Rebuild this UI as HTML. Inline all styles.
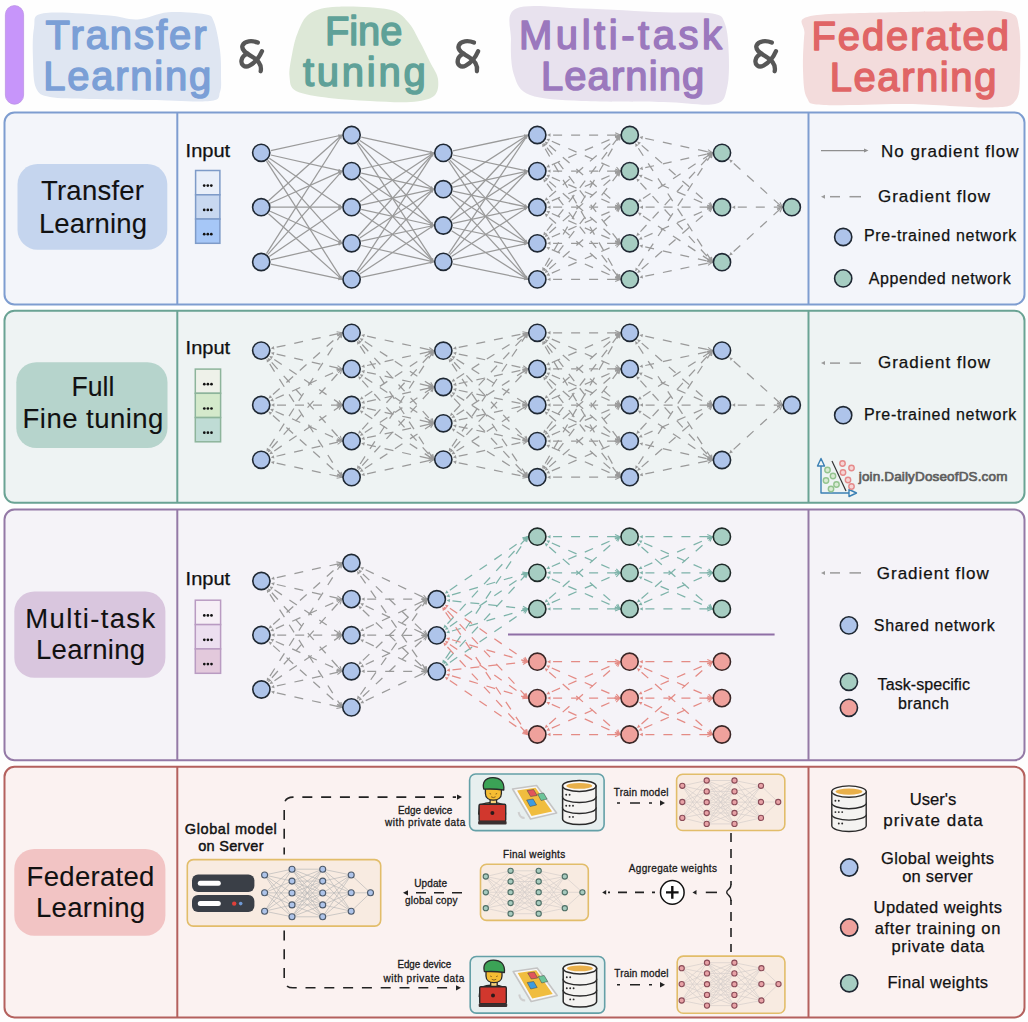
<!DOCTYPE html><html><head><meta charset="utf-8"><style>html,body{margin:0;padding:0;background:#fefefe;}svg{display:block;}</style></head><body><svg width="1028" height="1022" viewBox="0 0 1028 1022" font-family='"Liberation Sans", sans-serif'>
<rect width="1028" height="1022" fill="#fefefe"/>
<rect x="5.4" y="5.6" width="18.2" height="98.6" rx="9.1" fill="#c795fa" stroke="#bb93e4" stroke-width="0.8"/>
<path d="M43.4,13.3 C55.5,11.2 91.0,14.3 106.7,15.3 C122.4,16.3 127.2,20.0 137.4,19.5 C147.6,19.0 156.8,13.2 168.0,12.3 C179.2,11.4 197.1,12.7 204.8,14.3 C212.5,15.9 211.5,16.1 214.0,22.0 C216.5,27.9 218.8,41.2 220.0,50.0 C221.2,58.8 221.0,68.0 221.0,75.0 C221.0,82.0 221.8,87.7 220.0,92.0 C218.2,96.3 221.7,99.7 210.0,101.0 C198.3,102.3 170.0,100.3 150.0,100.0 C130.0,99.7 106.7,99.5 90.0,99.0 C73.3,98.5 59.0,98.8 50.0,97.0 C41.0,95.2 38.8,94.2 36.0,88.0 C33.2,81.8 33.3,70.0 33.0,60.0 C32.7,50.0 32.3,35.8 34.0,28.0 C35.7,20.2 31.3,15.4 43.4,13.3 Z" fill="#dfe6f2"/>
<path d="M309.9,13.6 C316.4,9.4 323.8,7.5 337.0,6.8 C350.2,6.1 377.1,7.0 388.9,9.5 C400.7,12.0 402.8,16.6 408.0,22.0 C413.2,27.4 416.3,35.3 420.0,42.0 C423.7,48.7 427.0,55.8 430.0,62.0 C433.0,68.2 437.3,73.3 438.0,79.0 C438.7,84.7 438.6,92.2 434.0,96.0 C429.4,99.8 421.4,101.2 410.7,102.0 C400.0,102.8 383.6,101.7 370.0,101.0 C356.4,100.3 341.3,99.7 329.0,98.0 C316.7,96.3 302.6,94.6 296.0,91.0 C289.4,87.4 290.2,82.4 289.5,76.3 C288.8,70.2 290.6,61.9 292.0,54.5 C293.4,47.1 295.0,38.8 298.0,32.0 C301.0,25.2 303.4,17.8 309.9,13.6 Z" fill="#dde8d7"/>
<path d="M516.3,8.5 C528.1,3.2 557.2,7.9 581.7,8.5 C606.2,9.1 641.6,11.5 663.4,12.3 C685.2,13.2 702.2,11.7 712.5,13.6 C722.8,15.5 722.3,17.2 725.0,24.0 C727.7,30.8 728.5,43.8 728.8,54.5 C729.1,65.2 729.3,79.8 727.0,88.0 C724.7,96.2 725.6,101.7 715.0,104.0 C704.4,106.3 685.6,102.5 663.4,102.0 C641.2,101.5 603.9,102.2 581.7,101.0 C559.5,99.8 541.3,99.3 530.0,95.0 C518.7,90.7 517.2,84.2 514.0,75.0 C510.8,65.8 510.6,51.1 511.0,40.0 C511.4,28.9 504.5,13.8 516.3,8.5 Z" fill="#e8e2ee"/>
<path d="M808.0,16.8 C820.6,13.3 854.0,13.5 880.0,12.6 C906.0,11.7 942.5,11.2 964.0,11.2 C985.5,11.2 999.8,9.8 1009.0,12.6 C1018.2,15.4 1017.2,18.4 1019.0,28.0 C1020.8,37.6 1020.5,58.0 1020.0,70.0 C1019.5,82.0 1020.7,93.8 1016.0,100.0 C1011.3,106.2 1010.0,106.8 992.0,107.5 C974.0,108.2 936.0,104.4 908.0,104.0 C880.0,103.6 840.8,106.0 824.0,105.0 C807.2,104.0 810.5,103.8 807.0,98.0 C803.5,92.2 803.4,80.7 803.0,70.0 C802.6,59.3 803.6,42.5 804.4,33.6 C805.2,24.7 795.4,20.3 808.0,16.8 Z" fill="#f3dcdc"/>
<text x="45.5" y="49.0" font-size="40" fill="#7b9fd6" font-weight="normal" textLength="161.1" lengthAdjust="spacing" stroke="#7b9fd6" stroke-width="1.5" stroke-linejoin="round" >Transfer</text>
<text x="43.2" y="90.0" font-size="40" fill="#7b9fd6" font-weight="normal" textLength="168.1" lengthAdjust="spacing" stroke="#7b9fd6" stroke-width="1.5" stroke-linejoin="round" >Learning</text>
<text x="324.9" y="45.0" font-size="40" fill="#5fa198" font-weight="normal" textLength="77.6" lengthAdjust="spacingAndGlyphs" stroke="#5fa198" stroke-width="1.5" stroke-linejoin="round" >Fine</text>
<text x="303.0" y="86.0" font-size="40" fill="#5fa198" font-weight="normal" textLength="122.7" lengthAdjust="spacing" stroke="#5fa198" stroke-width="1.5" stroke-linejoin="round" >tuning</text>
<text x="519.0" y="49.0" font-size="40" fill="#9b78bd" font-weight="normal" textLength="203.0" lengthAdjust="spacing" stroke="#9b78bd" stroke-width="1.5" stroke-linejoin="round" >Multi-task</text>
<text x="540.9" y="90.0" font-size="40" fill="#9b78bd" font-weight="normal" textLength="163.4" lengthAdjust="spacing" stroke="#9b78bd" stroke-width="1.5" stroke-linejoin="round" >Learning</text>
<text x="811.4" y="50.4" font-size="40" fill="#e06566" font-weight="normal" textLength="197.6" lengthAdjust="spacing" stroke="#e06566" stroke-width="1.5" stroke-linejoin="round" >Federated</text>
<text x="829.7" y="91.0" font-size="40" fill="#e06566" font-weight="normal" textLength="166.7" lengthAdjust="spacing" stroke="#e06566" stroke-width="1.5" stroke-linejoin="round" >Learning</text>
<g transform="translate(0,0)" fill="none" stroke="#575757" stroke-width="4.3" stroke-linecap="round" stroke-linejoin="round"><path d="M257.8,42.6 C252,40.2 244.5,40.8 242.6,45.3 C240.8,49.8 246,53.2 252,56.6 C258.5,60.3 262,64.5 260.7,71.2"/><path d="M262,51.2 C259.5,57 255,62.8 249.5,65.6 C244.5,68.2 240.6,64.6 241.6,60 C242.4,56.6 245,54.6 247.5,53.6"/></g>
<g transform="translate(216.2,0)" fill="none" stroke="#575757" stroke-width="4.3" stroke-linecap="round" stroke-linejoin="round"><path d="M257.8,42.6 C252,40.2 244.5,40.8 242.6,45.3 C240.8,49.8 246,53.2 252,56.6 C258.5,60.3 262,64.5 260.7,71.2"/><path d="M262,51.2 C259.5,57 255,62.8 249.5,65.6 C244.5,68.2 240.6,64.6 241.6,60 C242.4,56.6 245,54.6 247.5,53.6"/></g>
<g transform="translate(514,0)" fill="none" stroke="#575757" stroke-width="4.3" stroke-linecap="round" stroke-linejoin="round"><path d="M257.8,42.6 C252,40.2 244.5,40.8 242.6,45.3 C240.8,49.8 246,53.2 252,56.6 C258.5,60.3 262,64.5 260.7,71.2"/><path d="M262,51.2 C259.5,57 255,62.8 249.5,65.6 C244.5,68.2 240.6,64.6 241.6,60 C242.4,56.6 245,54.6 247.5,53.6"/></g>
<rect x="4.5" y="112.5" width="1020.0" height="192.0" rx="10" fill="#f3f5fa" stroke="#7e9dd0" stroke-width="2"/>
<line x1="177.3" y1="112.5" x2="177.3" y2="304.5" stroke="#7e9dd0" stroke-width="2"/>
<line x1="808.5" y1="112.5" x2="808.5" y2="304.5" stroke="#7e9dd0" stroke-width="2"/>
<rect x="4.5" y="310.7" width="1020.0" height="192.10000000000002" rx="10" fill="#eef3f3" stroke="#6aa394" stroke-width="2"/>
<line x1="177.3" y1="310.7" x2="177.3" y2="502.8" stroke="#6aa394" stroke-width="2"/>
<line x1="808.5" y1="310.7" x2="808.5" y2="502.8" stroke="#6aa394" stroke-width="2"/>
<rect x="4.5" y="509.6" width="1020.0" height="250.60000000000002" rx="10" fill="#f5f3f8" stroke="#9479a6" stroke-width="2"/>
<line x1="177.3" y1="509.6" x2="177.3" y2="760.2" stroke="#9479a6" stroke-width="2"/>
<line x1="808.5" y1="509.6" x2="808.5" y2="760.2" stroke="#9479a6" stroke-width="2"/>
<rect x="4.5" y="766.8" width="1020.0" height="250.60000000000002" rx="10" fill="#fbf2f1" stroke="#b4615e" stroke-width="2"/>
<line x1="177.3" y1="766.8" x2="177.3" y2="1017.4" stroke="#b4615e" stroke-width="2"/>
<line x1="808.5" y1="766.8" x2="808.5" y2="1017.4" stroke="#b4615e" stroke-width="2"/>
<rect x="17.5" y="164.1" width="149.8" height="85.6" rx="20" fill="#c5d5ee"/>
<text x="40.9" y="200.3" font-size="27.5" fill="#111" font-weight="normal" textLength="103.1" lengthAdjust="spacing" stroke="#111" stroke-width="0.1" stroke-linejoin="round" >Transfer</text>
<text x="38.9" y="233.4" font-size="27.5" fill="#111" font-weight="normal" textLength="108.1" lengthAdjust="spacing" stroke="#111" stroke-width="0.1" stroke-linejoin="round" >Learning</text>
<rect x="16.3" y="362.2" width="151.2" height="85.80000000000001" rx="20" fill="#b6d4cc"/>
<text x="71.5" y="395.7" font-size="27.5" fill="#111" font-weight="normal" textLength="42.9" lengthAdjust="spacingAndGlyphs" stroke="#111" stroke-width="0.1" stroke-linejoin="round" >Full</text>
<text x="22.5" y="427.5" font-size="27.5" fill="#111" font-weight="normal" textLength="140.9" lengthAdjust="spacing" stroke="#111" stroke-width="0.1" stroke-linejoin="round" >Fine tuning</text>
<rect x="14.3" y="591.6" width="151.1" height="86.19999999999993" rx="20" fill="#d9c6de"/>
<text x="25.3" y="627.5" font-size="27.5" fill="#111" font-weight="normal" textLength="129.9" lengthAdjust="spacing" stroke="#111" stroke-width="0.1" stroke-linejoin="round" >Multi-task</text>
<text x="36.0" y="659.4" font-size="27.5" fill="#111" font-weight="normal" textLength="109.0" lengthAdjust="spacing" stroke="#111" stroke-width="0.1" stroke-linejoin="round" >Learning</text>
<rect x="14.3" y="849" width="151.1" height="86.70000000000005" rx="20" fill="#f2c4c4"/>
<text x="26.6" y="885.8" font-size="27.5" fill="#111" font-weight="normal" textLength="127.8" lengthAdjust="spacing" stroke="#111" stroke-width="0.1" stroke-linejoin="round" >Federated</text>
<text x="36.0" y="917.3" font-size="27.5" fill="#111" font-weight="normal" textLength="109.0" lengthAdjust="spacing" stroke="#111" stroke-width="0.1" stroke-linejoin="round" >Learning</text>
<text x="185.6" y="156.8" font-size="17.5" fill="#111" font-weight="normal" textLength="44.6" lengthAdjust="spacingAndGlyphs" stroke="#111" stroke-width="0.25" stroke-linejoin="round" >Input</text>
<rect x="195.6" y="170.5" width="24.30000000000001" height="24.3" fill="#e9eff9" stroke="#7e9bc8" stroke-width="1.5"/>
<circle cx="204.2" cy="185.6" r="1.35" fill="#111"/>
<circle cx="207.8" cy="185.6" r="1.35" fill="#111"/>
<circle cx="211.3" cy="185.6" r="1.35" fill="#111"/>
<rect x="195.6" y="194.8" width="24.30000000000001" height="24.3" fill="#c8d8f0" stroke="#7e9bc8" stroke-width="1.5"/>
<circle cx="204.2" cy="209.9" r="1.35" fill="#111"/>
<circle cx="207.8" cy="209.9" r="1.35" fill="#111"/>
<circle cx="211.3" cy="209.9" r="1.35" fill="#111"/>
<rect x="195.6" y="219.0" width="24.30000000000001" height="24.3" fill="#a6c7f7" stroke="#7e9bc8" stroke-width="1.5"/>
<circle cx="204.2" cy="234.2" r="1.35" fill="#111"/>
<circle cx="207.8" cy="234.2" r="1.35" fill="#111"/>
<circle cx="211.3" cy="234.2" r="1.35" fill="#111"/>
<text x="185.6" y="354.0" font-size="17.5" fill="#111" font-weight="normal" textLength="44.6" lengthAdjust="spacingAndGlyphs" stroke="#111" stroke-width="0.25" stroke-linejoin="round" >Input</text>
<rect x="195.3" y="369.1" width="25.299999999999983" height="24.2" fill="#eef1e9" stroke="#8db49b" stroke-width="1.5"/>
<circle cx="204.3" cy="384.2" r="1.35" fill="#111"/>
<circle cx="207.9" cy="384.2" r="1.35" fill="#111"/>
<circle cx="211.5" cy="384.2" r="1.35" fill="#111"/>
<rect x="195.3" y="393.3" width="25.299999999999983" height="24.2" fill="#d4e9cb" stroke="#8db49b" stroke-width="1.5"/>
<circle cx="204.3" cy="408.5" r="1.35" fill="#111"/>
<circle cx="207.9" cy="408.5" r="1.35" fill="#111"/>
<circle cx="211.5" cy="408.5" r="1.35" fill="#111"/>
<rect x="195.3" y="417.6" width="25.299999999999983" height="24.2" fill="#bfdcd5" stroke="#8db49b" stroke-width="1.5"/>
<circle cx="204.3" cy="432.7" r="1.35" fill="#111"/>
<circle cx="207.9" cy="432.7" r="1.35" fill="#111"/>
<circle cx="211.5" cy="432.7" r="1.35" fill="#111"/>
<text x="185.6" y="584.7" font-size="17.5" fill="#111" font-weight="normal" textLength="44.6" lengthAdjust="spacingAndGlyphs" stroke="#111" stroke-width="0.25" stroke-linejoin="round" >Input</text>
<rect x="195.3" y="600.2" width="25.299999999999983" height="24.4" fill="#f6eff6" stroke="#b99bc2" stroke-width="1.5"/>
<circle cx="204.3" cy="615.4" r="1.35" fill="#111"/>
<circle cx="207.9" cy="615.4" r="1.35" fill="#111"/>
<circle cx="211.5" cy="615.4" r="1.35" fill="#111"/>
<rect x="195.3" y="624.6" width="25.299999999999983" height="24.4" fill="#ecdff0" stroke="#b99bc2" stroke-width="1.5"/>
<circle cx="204.3" cy="639.8" r="1.35" fill="#111"/>
<circle cx="207.9" cy="639.8" r="1.35" fill="#111"/>
<circle cx="211.5" cy="639.8" r="1.35" fill="#111"/>
<rect x="195.3" y="648.9" width="25.299999999999983" height="24.4" fill="#e3c9dc" stroke="#b99bc2" stroke-width="1.5"/>
<circle cx="204.3" cy="664.1" r="1.35" fill="#111"/>
<circle cx="207.9" cy="664.1" r="1.35" fill="#111"/>
<circle cx="211.5" cy="664.1" r="1.35" fill="#111"/>
<line x1="270.8" y1="150.7" x2="342.0" y2="135.0" stroke="#9a9a9a" stroke-width="1.25"/>
<polygon points="338.8,137.3 342.0,135.0 338.1,134.2" fill="#9a9a9a"/>
<line x1="270.8" y1="155.0" x2="342.0" y2="171.1" stroke="#9a9a9a" stroke-width="1.25"/>
<polygon points="338.1,171.9 342.0,171.1 338.8,168.7" fill="#9a9a9a"/>
<line x1="269.3" y1="158.3" x2="342.0" y2="207.2" stroke="#9a9a9a" stroke-width="1.25"/>
<polygon points="338.1,206.5 342.0,207.2 339.9,203.9" fill="#9a9a9a"/>
<line x1="267.7" y1="160.1" x2="342.0" y2="243.3" stroke="#9a9a9a" stroke-width="1.25"/>
<polygon points="338.4,241.7 342.0,243.3 340.8,239.5" fill="#9a9a9a"/>
<line x1="266.5" y1="161.1" x2="342.0" y2="279.4" stroke="#9a9a9a" stroke-width="1.25"/>
<polygon points="338.7,277.2 342.0,279.4 341.4,275.5" fill="#9a9a9a"/>
<line x1="268.5" y1="200.7" x2="342.0" y2="135.0" stroke="#9a9a9a" stroke-width="1.25"/>
<polygon points="340.4,138.6 342.0,135.0 338.2,136.2" fill="#9a9a9a"/>
<line x1="270.1" y1="203.2" x2="342.0" y2="171.1" stroke="#9a9a9a" stroke-width="1.25"/>
<polygon points="339.4,174.0 342.0,171.1 338.1,171.1" fill="#9a9a9a"/>
<line x1="271.0" y1="207.2" x2="342.0" y2="207.2" stroke="#9a9a9a" stroke-width="1.25"/>
<polygon points="338.4,208.8 342.0,207.2 338.4,205.6" fill="#9a9a9a"/>
<line x1="270.1" y1="211.2" x2="342.0" y2="243.3" stroke="#9a9a9a" stroke-width="1.25"/>
<polygon points="338.1,243.3 342.0,243.3 339.4,240.4" fill="#9a9a9a"/>
<line x1="268.5" y1="213.7" x2="342.0" y2="279.4" stroke="#9a9a9a" stroke-width="1.25"/>
<polygon points="338.2,278.2 342.0,279.4 340.4,275.8" fill="#9a9a9a"/>
<line x1="266.5" y1="253.7" x2="342.0" y2="135.0" stroke="#9a9a9a" stroke-width="1.25"/>
<polygon points="341.4,138.9 342.0,135.0 338.7,137.2" fill="#9a9a9a"/>
<line x1="267.7" y1="254.7" x2="342.0" y2="171.1" stroke="#9a9a9a" stroke-width="1.25"/>
<polygon points="340.8,174.9 342.0,171.1 338.4,172.7" fill="#9a9a9a"/>
<line x1="269.3" y1="256.5" x2="342.0" y2="207.2" stroke="#9a9a9a" stroke-width="1.25"/>
<polygon points="339.9,210.5 342.0,207.2 338.1,207.9" fill="#9a9a9a"/>
<line x1="270.7" y1="259.8" x2="342.0" y2="243.3" stroke="#9a9a9a" stroke-width="1.25"/>
<polygon points="338.9,245.7 342.0,243.3 338.1,242.6" fill="#9a9a9a"/>
<line x1="270.8" y1="264.1" x2="342.0" y2="279.4" stroke="#9a9a9a" stroke-width="1.25"/>
<polygon points="338.1,280.2 342.0,279.4 338.8,277.1" fill="#9a9a9a"/>
<line x1="361.2" y1="137.1" x2="433.7" y2="152.9" stroke="#9a9a9a" stroke-width="1.25"/>
<polygon points="429.8,153.7 433.7,152.9 430.5,150.6" fill="#9a9a9a"/>
<line x1="359.8" y1="140.4" x2="433.7" y2="189.2" stroke="#9a9a9a" stroke-width="1.25"/>
<polygon points="429.8,188.6 433.7,189.2 431.6,185.9" fill="#9a9a9a"/>
<line x1="358.2" y1="142.3" x2="433.7" y2="225.5" stroke="#9a9a9a" stroke-width="1.25"/>
<polygon points="430.1,223.9 433.7,225.5 432.5,221.8" fill="#9a9a9a"/>
<line x1="356.9" y1="143.2" x2="433.7" y2="261.8" stroke="#9a9a9a" stroke-width="1.25"/>
<polygon points="430.4,259.6 433.7,261.8 433.1,257.9" fill="#9a9a9a"/>
<line x1="361.2" y1="169.0" x2="433.7" y2="152.9" stroke="#9a9a9a" stroke-width="1.25"/>
<polygon points="430.5,155.2 433.7,152.9 429.8,152.1" fill="#9a9a9a"/>
<line x1="361.2" y1="173.2" x2="433.7" y2="189.2" stroke="#9a9a9a" stroke-width="1.25"/>
<polygon points="429.8,190.0 433.7,189.2 430.5,186.9" fill="#9a9a9a"/>
<line x1="359.8" y1="176.5" x2="433.7" y2="225.5" stroke="#9a9a9a" stroke-width="1.25"/>
<polygon points="429.8,224.8 433.7,225.5 431.6,222.2" fill="#9a9a9a"/>
<line x1="358.2" y1="178.4" x2="433.7" y2="261.8" stroke="#9a9a9a" stroke-width="1.25"/>
<polygon points="430.1,260.2 433.7,261.8 432.5,258.1" fill="#9a9a9a"/>
<line x1="359.8" y1="201.8" x2="433.7" y2="152.9" stroke="#9a9a9a" stroke-width="1.25"/>
<polygon points="431.6,156.2 433.7,152.9 429.8,153.6" fill="#9a9a9a"/>
<line x1="361.2" y1="205.1" x2="433.7" y2="189.2" stroke="#9a9a9a" stroke-width="1.25"/>
<polygon points="430.5,191.5 433.7,189.2 429.8,188.4" fill="#9a9a9a"/>
<line x1="361.2" y1="209.3" x2="433.7" y2="225.5" stroke="#9a9a9a" stroke-width="1.25"/>
<polygon points="429.8,226.3 433.7,225.5 430.5,223.2" fill="#9a9a9a"/>
<line x1="359.8" y1="212.6" x2="433.7" y2="261.8" stroke="#9a9a9a" stroke-width="1.25"/>
<polygon points="429.8,261.1 433.7,261.8 431.6,258.5" fill="#9a9a9a"/>
<line x1="358.2" y1="236.0" x2="433.7" y2="152.9" stroke="#9a9a9a" stroke-width="1.25"/>
<polygon points="432.5,156.6 433.7,152.9 430.1,154.5" fill="#9a9a9a"/>
<line x1="359.8" y1="237.9" x2="433.7" y2="189.2" stroke="#9a9a9a" stroke-width="1.25"/>
<polygon points="431.6,192.5 433.7,189.2 429.8,189.8" fill="#9a9a9a"/>
<line x1="361.2" y1="241.2" x2="433.7" y2="225.5" stroke="#9a9a9a" stroke-width="1.25"/>
<polygon points="430.5,227.8 433.7,225.5 429.8,224.7" fill="#9a9a9a"/>
<line x1="361.2" y1="245.5" x2="433.7" y2="261.8" stroke="#9a9a9a" stroke-width="1.25"/>
<polygon points="429.8,262.6 433.7,261.8 430.5,259.4" fill="#9a9a9a"/>
<line x1="356.9" y1="271.2" x2="433.7" y2="152.9" stroke="#9a9a9a" stroke-width="1.25"/>
<polygon points="433.1,156.8 433.7,152.9 430.4,155.0" fill="#9a9a9a"/>
<line x1="358.2" y1="272.2" x2="433.7" y2="189.2" stroke="#9a9a9a" stroke-width="1.25"/>
<polygon points="432.5,192.9 433.7,189.2 430.1,190.8" fill="#9a9a9a"/>
<line x1="359.8" y1="274.0" x2="433.7" y2="225.5" stroke="#9a9a9a" stroke-width="1.25"/>
<polygon points="431.6,228.8 433.7,225.5 429.8,226.1" fill="#9a9a9a"/>
<line x1="361.2" y1="277.3" x2="433.7" y2="261.8" stroke="#9a9a9a" stroke-width="1.25"/>
<polygon points="430.5,264.1 433.7,261.8 429.8,261.0" fill="#9a9a9a"/>
<line x1="452.9" y1="150.9" x2="527.7" y2="135.0" stroke="#9a9a9a" stroke-width="1.25"/>
<polygon points="524.5,137.3 527.7,135.0 523.8,134.2" fill="#9a9a9a"/>
<line x1="452.9" y1="155.0" x2="527.7" y2="171.1" stroke="#9a9a9a" stroke-width="1.25"/>
<polygon points="523.8,171.9 527.7,171.1 524.5,168.8" fill="#9a9a9a"/>
<line x1="451.5" y1="158.2" x2="527.7" y2="207.2" stroke="#9a9a9a" stroke-width="1.25"/>
<polygon points="523.8,206.6 527.7,207.2 525.5,203.9" fill="#9a9a9a"/>
<line x1="450.0" y1="160.1" x2="527.7" y2="243.3" stroke="#9a9a9a" stroke-width="1.25"/>
<polygon points="524.1,241.8 527.7,243.3 526.4,239.6" fill="#9a9a9a"/>
<line x1="448.7" y1="161.1" x2="527.7" y2="279.4" stroke="#9a9a9a" stroke-width="1.25"/>
<polygon points="524.4,277.3 527.7,279.4 527.0,275.5" fill="#9a9a9a"/>
<line x1="451.5" y1="183.9" x2="527.7" y2="135.0" stroke="#9a9a9a" stroke-width="1.25"/>
<polygon points="525.5,138.3 527.7,135.0 523.8,135.6" fill="#9a9a9a"/>
<line x1="452.9" y1="187.1" x2="527.7" y2="171.1" stroke="#9a9a9a" stroke-width="1.25"/>
<polygon points="524.5,173.4 527.7,171.1 523.8,170.3" fill="#9a9a9a"/>
<line x1="452.9" y1="191.2" x2="527.7" y2="207.2" stroke="#9a9a9a" stroke-width="1.25"/>
<polygon points="523.8,208.0 527.7,207.2 524.5,204.9" fill="#9a9a9a"/>
<line x1="451.6" y1="194.5" x2="527.7" y2="243.3" stroke="#9a9a9a" stroke-width="1.25"/>
<polygon points="523.8,242.7 527.7,243.3 525.5,240.0" fill="#9a9a9a"/>
<line x1="450.0" y1="196.4" x2="527.7" y2="279.4" stroke="#9a9a9a" stroke-width="1.25"/>
<polygon points="524.1,277.9 527.7,279.4 526.4,275.7" fill="#9a9a9a"/>
<line x1="450.0" y1="218.3" x2="527.7" y2="135.0" stroke="#9a9a9a" stroke-width="1.25"/>
<polygon points="526.4,138.7 527.7,135.0 524.1,136.5" fill="#9a9a9a"/>
<line x1="451.5" y1="220.2" x2="527.7" y2="171.1" stroke="#9a9a9a" stroke-width="1.25"/>
<polygon points="525.5,174.4 527.7,171.1 523.8,171.7" fill="#9a9a9a"/>
<line x1="452.9" y1="223.4" x2="527.7" y2="207.2" stroke="#9a9a9a" stroke-width="1.25"/>
<polygon points="524.5,209.5 527.7,207.2 523.8,206.4" fill="#9a9a9a"/>
<line x1="452.9" y1="227.5" x2="527.7" y2="243.3" stroke="#9a9a9a" stroke-width="1.25"/>
<polygon points="523.8,244.1 527.7,243.3 524.5,241.0" fill="#9a9a9a"/>
<line x1="451.6" y1="230.8" x2="527.7" y2="279.4" stroke="#9a9a9a" stroke-width="1.25"/>
<polygon points="523.8,278.8 527.7,279.4 525.5,276.1" fill="#9a9a9a"/>
<line x1="448.7" y1="253.6" x2="527.7" y2="135.0" stroke="#9a9a9a" stroke-width="1.25"/>
<polygon points="527.0,138.9 527.7,135.0 524.4,137.1" fill="#9a9a9a"/>
<line x1="450.0" y1="254.6" x2="527.7" y2="171.1" stroke="#9a9a9a" stroke-width="1.25"/>
<polygon points="526.4,174.8 527.7,171.1 524.1,172.6" fill="#9a9a9a"/>
<line x1="451.5" y1="256.5" x2="527.7" y2="207.2" stroke="#9a9a9a" stroke-width="1.25"/>
<polygon points="525.5,210.5 527.7,207.2 523.8,207.8" fill="#9a9a9a"/>
<line x1="452.9" y1="259.7" x2="527.7" y2="243.3" stroke="#9a9a9a" stroke-width="1.25"/>
<polygon points="524.5,245.6 527.7,243.3 523.8,242.5" fill="#9a9a9a"/>
<line x1="452.9" y1="263.8" x2="527.7" y2="279.4" stroke="#9a9a9a" stroke-width="1.25"/>
<polygon points="523.8,280.2 527.7,279.4 524.5,277.1" fill="#9a9a9a"/>
<line x1="547.1" y1="135.0" x2="620.2" y2="135.0" stroke="#9a9a9a" stroke-width="1.25" stroke-dasharray="9 9" stroke-dashoffset="12"/>
<polygon points="550.5,133.3 547.1,135.0 550.5,136.7" fill="#9a9a9a"/>
<polyline points="615.2,137.2 620.2,135.0 615.2,132.8" fill="none" stroke="#9a9a9a" stroke-width="1.1"/>
<line x1="546.3" y1="138.9" x2="620.2" y2="171.1" stroke="#9a9a9a" stroke-width="1.25" stroke-dasharray="9 9" stroke-dashoffset="12"/>
<polygon points="550.1,138.7 546.3,138.9 548.7,141.8" fill="#9a9a9a"/>
<polyline points="614.7,171.1 620.2,171.1 616.5,167.1" fill="none" stroke="#9a9a9a" stroke-width="1.1"/>
<line x1="544.7" y1="141.4" x2="620.2" y2="207.2" stroke="#9a9a9a" stroke-width="1.25" stroke-dasharray="9 9" stroke-dashoffset="12"/>
<polygon points="548.4,142.4 544.7,141.4 546.1,145.0" fill="#9a9a9a"/>
<polyline points="615.0,205.6 620.2,207.2 617.9,202.3" fill="none" stroke="#9a9a9a" stroke-width="1.1"/>
<line x1="543.3" y1="142.8" x2="620.2" y2="243.3" stroke="#9a9a9a" stroke-width="1.25" stroke-dasharray="9 9" stroke-dashoffset="12"/>
<polygon points="546.7,144.4 543.3,142.8 544.0,146.5" fill="#9a9a9a"/>
<polyline points="615.4,240.7 620.2,243.3 618.9,238.0" fill="none" stroke="#9a9a9a" stroke-width="1.1"/>
<line x1="542.2" y1="143.5" x2="620.2" y2="279.4" stroke="#9a9a9a" stroke-width="1.25" stroke-dasharray="9 9" stroke-dashoffset="12"/>
<polygon points="545.3,145.6 542.2,143.5 542.4,147.3" fill="#9a9a9a"/>
<polyline points="615.8,276.2 620.2,279.4 619.6,274.0" fill="none" stroke="#9a9a9a" stroke-width="1.1"/>
<line x1="546.3" y1="167.2" x2="620.2" y2="135.0" stroke="#9a9a9a" stroke-width="1.25" stroke-dasharray="9 9" stroke-dashoffset="12"/>
<polygon points="548.7,164.3 546.3,167.2 550.1,167.4" fill="#9a9a9a"/>
<polyline points="616.5,139.0 620.2,135.0 614.7,135.0" fill="none" stroke="#9a9a9a" stroke-width="1.1"/>
<line x1="547.1" y1="171.1" x2="620.2" y2="171.1" stroke="#9a9a9a" stroke-width="1.25" stroke-dasharray="9 9" stroke-dashoffset="12"/>
<polygon points="550.5,169.4 547.1,171.1 550.5,172.8" fill="#9a9a9a"/>
<polyline points="615.2,173.3 620.2,171.1 615.2,168.9" fill="none" stroke="#9a9a9a" stroke-width="1.1"/>
<line x1="546.3" y1="175.0" x2="620.2" y2="207.2" stroke="#9a9a9a" stroke-width="1.25" stroke-dasharray="9 9" stroke-dashoffset="12"/>
<polygon points="550.1,174.8 546.3,175.0 548.7,177.9" fill="#9a9a9a"/>
<polyline points="614.7,207.2 620.2,207.2 616.5,203.2" fill="none" stroke="#9a9a9a" stroke-width="1.1"/>
<line x1="544.7" y1="177.5" x2="620.2" y2="243.3" stroke="#9a9a9a" stroke-width="1.25" stroke-dasharray="9 9" stroke-dashoffset="12"/>
<polygon points="548.4,178.5 544.7,177.5 546.1,181.1" fill="#9a9a9a"/>
<polyline points="615.0,241.7 620.2,243.3 617.9,238.4" fill="none" stroke="#9a9a9a" stroke-width="1.1"/>
<line x1="543.3" y1="178.9" x2="620.2" y2="279.4" stroke="#9a9a9a" stroke-width="1.25" stroke-dasharray="9 9" stroke-dashoffset="12"/>
<polygon points="546.7,180.5 543.3,178.9 544.0,182.6" fill="#9a9a9a"/>
<polyline points="615.4,276.8 620.2,279.4 618.9,274.1" fill="none" stroke="#9a9a9a" stroke-width="1.1"/>
<line x1="544.7" y1="200.8" x2="620.2" y2="135.0" stroke="#9a9a9a" stroke-width="1.25" stroke-dasharray="9 9" stroke-dashoffset="12"/>
<polygon points="546.1,197.2 544.7,200.8 548.4,199.8" fill="#9a9a9a"/>
<polyline points="617.9,139.9 620.2,135.0 615.0,136.6" fill="none" stroke="#9a9a9a" stroke-width="1.1"/>
<line x1="546.3" y1="203.3" x2="620.2" y2="171.1" stroke="#9a9a9a" stroke-width="1.25" stroke-dasharray="9 9" stroke-dashoffset="12"/>
<polygon points="548.7,200.4 546.3,203.3 550.1,203.5" fill="#9a9a9a"/>
<polyline points="616.5,175.1 620.2,171.1 614.7,171.1" fill="none" stroke="#9a9a9a" stroke-width="1.1"/>
<line x1="547.1" y1="207.2" x2="620.2" y2="207.2" stroke="#9a9a9a" stroke-width="1.25" stroke-dasharray="9 9" stroke-dashoffset="12"/>
<polygon points="550.5,205.5 547.1,207.2 550.5,208.9" fill="#9a9a9a"/>
<polyline points="615.2,209.4 620.2,207.2 615.2,205.0" fill="none" stroke="#9a9a9a" stroke-width="1.1"/>
<line x1="546.3" y1="211.1" x2="620.2" y2="243.3" stroke="#9a9a9a" stroke-width="1.25" stroke-dasharray="9 9" stroke-dashoffset="12"/>
<polygon points="550.1,210.9 546.3,211.1 548.7,214.0" fill="#9a9a9a"/>
<polyline points="614.7,243.3 620.2,243.3 616.5,239.3" fill="none" stroke="#9a9a9a" stroke-width="1.1"/>
<line x1="544.7" y1="213.6" x2="620.2" y2="279.4" stroke="#9a9a9a" stroke-width="1.25" stroke-dasharray="9 9" stroke-dashoffset="12"/>
<polygon points="548.4,214.6 544.7,213.6 546.1,217.2" fill="#9a9a9a"/>
<polyline points="615.0,277.8 620.2,279.4 617.9,274.5" fill="none" stroke="#9a9a9a" stroke-width="1.1"/>
<line x1="543.3" y1="235.5" x2="620.2" y2="135.0" stroke="#9a9a9a" stroke-width="1.25" stroke-dasharray="9 9" stroke-dashoffset="12"/>
<polygon points="544.0,231.8 543.3,235.5 546.7,233.9" fill="#9a9a9a"/>
<polyline points="618.9,140.3 620.2,135.0 615.4,137.6" fill="none" stroke="#9a9a9a" stroke-width="1.1"/>
<line x1="544.7" y1="236.9" x2="620.2" y2="171.1" stroke="#9a9a9a" stroke-width="1.25" stroke-dasharray="9 9" stroke-dashoffset="12"/>
<polygon points="546.1,233.3 544.7,236.9 548.4,235.9" fill="#9a9a9a"/>
<polyline points="617.9,176.0 620.2,171.1 615.0,172.7" fill="none" stroke="#9a9a9a" stroke-width="1.1"/>
<line x1="546.3" y1="239.4" x2="620.2" y2="207.2" stroke="#9a9a9a" stroke-width="1.25" stroke-dasharray="9 9" stroke-dashoffset="12"/>
<polygon points="548.7,236.5 546.3,239.4 550.1,239.6" fill="#9a9a9a"/>
<polyline points="616.5,211.2 620.2,207.2 614.7,207.2" fill="none" stroke="#9a9a9a" stroke-width="1.1"/>
<line x1="547.1" y1="243.3" x2="620.2" y2="243.3" stroke="#9a9a9a" stroke-width="1.25" stroke-dasharray="9 9" stroke-dashoffset="12"/>
<polygon points="550.5,241.6 547.1,243.3 550.5,245.0" fill="#9a9a9a"/>
<polyline points="615.2,245.5 620.2,243.3 615.2,241.1" fill="none" stroke="#9a9a9a" stroke-width="1.1"/>
<line x1="546.3" y1="247.2" x2="620.2" y2="279.4" stroke="#9a9a9a" stroke-width="1.25" stroke-dasharray="9 9" stroke-dashoffset="12"/>
<polygon points="550.1,247.0 546.3,247.2 548.7,250.1" fill="#9a9a9a"/>
<polyline points="614.7,279.4 620.2,279.4 616.5,275.4" fill="none" stroke="#9a9a9a" stroke-width="1.1"/>
<line x1="542.2" y1="270.9" x2="620.2" y2="135.0" stroke="#9a9a9a" stroke-width="1.25" stroke-dasharray="9 9" stroke-dashoffset="12"/>
<polygon points="542.4,267.1 542.2,270.9 545.3,268.8" fill="#9a9a9a"/>
<polyline points="619.6,140.4 620.2,135.0 615.8,138.2" fill="none" stroke="#9a9a9a" stroke-width="1.1"/>
<line x1="543.3" y1="271.6" x2="620.2" y2="171.1" stroke="#9a9a9a" stroke-width="1.25" stroke-dasharray="9 9" stroke-dashoffset="12"/>
<polygon points="544.0,267.9 543.3,271.6 546.7,270.0" fill="#9a9a9a"/>
<polyline points="618.9,176.4 620.2,171.1 615.4,173.7" fill="none" stroke="#9a9a9a" stroke-width="1.1"/>
<line x1="544.7" y1="273.0" x2="620.2" y2="207.2" stroke="#9a9a9a" stroke-width="1.25" stroke-dasharray="9 9" stroke-dashoffset="12"/>
<polygon points="546.1,269.4 544.7,273.0 548.4,272.0" fill="#9a9a9a"/>
<polyline points="617.9,212.1 620.2,207.2 615.0,208.8" fill="none" stroke="#9a9a9a" stroke-width="1.1"/>
<line x1="546.3" y1="275.5" x2="620.2" y2="243.3" stroke="#9a9a9a" stroke-width="1.25" stroke-dasharray="9 9" stroke-dashoffset="12"/>
<polygon points="548.7,272.6 546.3,275.5 550.1,275.7" fill="#9a9a9a"/>
<polyline points="616.5,247.3 620.2,243.3 614.7,243.3" fill="none" stroke="#9a9a9a" stroke-width="1.1"/>
<line x1="547.1" y1="279.4" x2="620.2" y2="279.4" stroke="#9a9a9a" stroke-width="1.25" stroke-dasharray="9 9" stroke-dashoffset="12"/>
<polygon points="550.5,277.7 547.1,279.4 550.5,281.1" fill="#9a9a9a"/>
<polyline points="615.2,281.6 620.2,279.4 615.2,277.2" fill="none" stroke="#9a9a9a" stroke-width="1.1"/>
<line x1="639.4" y1="137.1" x2="712.4" y2="152.8" stroke="#9a9a9a" stroke-width="1.25" stroke-dasharray="9 9" stroke-dashoffset="12"/>
<polygon points="643.1,136.1 639.4,137.1 642.3,139.4" fill="#9a9a9a"/>
<polyline points="707.0,153.9 712.4,152.8 708.0,149.6" fill="none" stroke="#9a9a9a" stroke-width="1.1"/>
<line x1="637.2" y1="141.4" x2="712.4" y2="207.2" stroke="#9a9a9a" stroke-width="1.25" stroke-dasharray="9 9" stroke-dashoffset="12"/>
<polygon points="640.9,142.4 637.2,141.4 638.6,145.0" fill="#9a9a9a"/>
<polyline points="707.2,205.6 712.4,207.2 710.1,202.3" fill="none" stroke="#9a9a9a" stroke-width="1.1"/>
<line x1="635.1" y1="143.2" x2="712.4" y2="262.2" stroke="#9a9a9a" stroke-width="1.25" stroke-dasharray="9 9" stroke-dashoffset="12"/>
<polygon points="638.4,145.1 635.1,143.2 635.6,147.0" fill="#9a9a9a"/>
<polyline points="707.8,259.2 712.4,262.2 711.5,256.8" fill="none" stroke="#9a9a9a" stroke-width="1.1"/>
<line x1="639.4" y1="169.0" x2="712.4" y2="152.8" stroke="#9a9a9a" stroke-width="1.25" stroke-dasharray="9 9" stroke-dashoffset="12"/>
<polygon points="642.3,166.6 639.4,169.0 643.1,169.9" fill="#9a9a9a"/>
<polyline points="708.0,156.0 712.4,152.8 707.0,151.7" fill="none" stroke="#9a9a9a" stroke-width="1.1"/>
<line x1="638.8" y1="175.0" x2="712.4" y2="207.2" stroke="#9a9a9a" stroke-width="1.25" stroke-dasharray="9 9" stroke-dashoffset="12"/>
<polygon points="642.6,174.8 638.8,175.0 641.2,177.9" fill="#9a9a9a"/>
<polyline points="706.9,207.2 712.4,207.2 708.7,203.2" fill="none" stroke="#9a9a9a" stroke-width="1.1"/>
<line x1="636.4" y1="178.4" x2="712.4" y2="262.2" stroke="#9a9a9a" stroke-width="1.25" stroke-dasharray="9 9" stroke-dashoffset="12"/>
<polygon points="639.9,179.7 636.4,178.4 637.4,182.0" fill="#9a9a9a"/>
<polyline points="707.4,260.0 712.4,262.2 710.7,257.0" fill="none" stroke="#9a9a9a" stroke-width="1.1"/>
<line x1="638.0" y1="201.8" x2="712.4" y2="152.8" stroke="#9a9a9a" stroke-width="1.25" stroke-dasharray="9 9" stroke-dashoffset="12"/>
<polygon points="639.9,198.5 638.0,201.8 641.8,201.4" fill="#9a9a9a"/>
<polyline points="709.4,157.4 712.4,152.8 707.0,153.7" fill="none" stroke="#9a9a9a" stroke-width="1.1"/>
<line x1="639.6" y1="207.2" x2="712.4" y2="207.2" stroke="#9a9a9a" stroke-width="1.25" stroke-dasharray="9 9" stroke-dashoffset="12"/>
<polygon points="643.0,205.5 639.6,207.2 643.0,208.9" fill="#9a9a9a"/>
<polyline points="707.4,209.4 712.4,207.2 707.4,205.0" fill="none" stroke="#9a9a9a" stroke-width="1.1"/>
<line x1="638.0" y1="212.6" x2="712.4" y2="262.2" stroke="#9a9a9a" stroke-width="1.25" stroke-dasharray="9 9" stroke-dashoffset="12"/>
<polygon points="641.7,213.1 638.0,212.6 639.8,215.9" fill="#9a9a9a"/>
<polyline points="707.0,261.3 712.4,262.2 709.5,257.6" fill="none" stroke="#9a9a9a" stroke-width="1.1"/>
<line x1="636.4" y1="236.1" x2="712.4" y2="152.8" stroke="#9a9a9a" stroke-width="1.25" stroke-dasharray="9 9" stroke-dashoffset="12"/>
<polygon points="637.4,232.4 636.4,236.1 640.0,234.7" fill="#9a9a9a"/>
<polyline points="710.7,158.0 712.4,152.8 707.4,155.0" fill="none" stroke="#9a9a9a" stroke-width="1.1"/>
<line x1="638.8" y1="239.4" x2="712.4" y2="207.2" stroke="#9a9a9a" stroke-width="1.25" stroke-dasharray="9 9" stroke-dashoffset="12"/>
<polygon points="641.2,236.5 638.8,239.4 642.6,239.6" fill="#9a9a9a"/>
<polyline points="708.7,211.2 712.4,207.2 706.9,207.2" fill="none" stroke="#9a9a9a" stroke-width="1.1"/>
<line x1="639.4" y1="245.5" x2="712.4" y2="262.2" stroke="#9a9a9a" stroke-width="1.25" stroke-dasharray="9 9" stroke-dashoffset="12"/>
<polygon points="643.0,244.6 639.4,245.5 642.3,247.9" fill="#9a9a9a"/>
<polyline points="707.0,263.2 712.4,262.2 708.0,258.9" fill="none" stroke="#9a9a9a" stroke-width="1.1"/>
<line x1="635.2" y1="271.2" x2="712.4" y2="152.8" stroke="#9a9a9a" stroke-width="1.25" stroke-dasharray="9 9" stroke-dashoffset="12"/>
<polygon points="635.6,267.4 635.2,271.2 638.4,269.3" fill="#9a9a9a"/>
<polyline points="711.5,158.2 712.4,152.8 707.8,155.8" fill="none" stroke="#9a9a9a" stroke-width="1.1"/>
<line x1="637.2" y1="273.0" x2="712.4" y2="207.2" stroke="#9a9a9a" stroke-width="1.25" stroke-dasharray="9 9" stroke-dashoffset="12"/>
<polygon points="638.6,269.4 637.2,273.0 640.9,272.0" fill="#9a9a9a"/>
<polyline points="710.1,212.1 712.4,207.2 707.2,208.8" fill="none" stroke="#9a9a9a" stroke-width="1.1"/>
<line x1="639.4" y1="277.4" x2="712.4" y2="262.2" stroke="#9a9a9a" stroke-width="1.25" stroke-dasharray="9 9" stroke-dashoffset="12"/>
<polygon points="642.4,275.0 639.4,277.4 643.1,278.4" fill="#9a9a9a"/>
<polyline points="708.0,265.4 712.4,262.2 707.1,261.1" fill="none" stroke="#9a9a9a" stroke-width="1.1"/>
<line x1="729.3" y1="159.4" x2="782.2" y2="207.2" stroke="#9a9a9a" stroke-width="1.25" stroke-dasharray="9 9" stroke-dashoffset="12"/>
<polygon points="732.9,160.4 729.3,159.4 730.7,162.9" fill="#9a9a9a"/>
<polyline points="777.0,205.5 782.2,207.2 780.0,202.2" fill="none" stroke="#9a9a9a" stroke-width="1.1"/>
<line x1="731.8" y1="207.2" x2="782.2" y2="207.2" stroke="#9a9a9a" stroke-width="1.25" stroke-dasharray="9 9" stroke-dashoffset="12"/>
<polygon points="735.2,205.5 731.8,207.2 735.2,208.9" fill="#9a9a9a"/>
<polyline points="777.2,209.4 782.2,207.2 777.2,205.0" fill="none" stroke="#9a9a9a" stroke-width="1.1"/>
<line x1="729.2" y1="255.6" x2="782.2" y2="207.2" stroke="#9a9a9a" stroke-width="1.25" stroke-dasharray="9 9" stroke-dashoffset="12"/>
<polygon points="730.6,252.0 729.2,255.6 732.9,254.6" fill="#9a9a9a"/>
<polyline points="780.0,212.2 782.2,207.2 777.0,208.9" fill="none" stroke="#9a9a9a" stroke-width="1.1"/>
<circle cx="261.2" cy="152.8" r="8.6" fill="#aec4ea" stroke="#1f2833" stroke-width="1.6"/>
<circle cx="261.2" cy="207.2" r="8.6" fill="#aec4ea" stroke="#1f2833" stroke-width="1.6"/>
<circle cx="261.2" cy="262.0" r="8.6" fill="#aec4ea" stroke="#1f2833" stroke-width="1.6"/>
<circle cx="351.6" cy="135.0" r="8.6" fill="#aec4ea" stroke="#1f2833" stroke-width="1.6"/>
<circle cx="351.6" cy="171.1" r="8.6" fill="#aec4ea" stroke="#1f2833" stroke-width="1.6"/>
<circle cx="351.6" cy="207.2" r="8.6" fill="#aec4ea" stroke="#1f2833" stroke-width="1.6"/>
<circle cx="351.6" cy="243.3" r="8.6" fill="#aec4ea" stroke="#1f2833" stroke-width="1.6"/>
<circle cx="351.6" cy="279.4" r="8.6" fill="#aec4ea" stroke="#1f2833" stroke-width="1.6"/>
<circle cx="443.3" cy="152.9" r="8.6" fill="#aec4ea" stroke="#1f2833" stroke-width="1.6"/>
<circle cx="443.3" cy="189.2" r="8.6" fill="#aec4ea" stroke="#1f2833" stroke-width="1.6"/>
<circle cx="443.3" cy="225.5" r="8.6" fill="#aec4ea" stroke="#1f2833" stroke-width="1.6"/>
<circle cx="443.3" cy="261.8" r="8.6" fill="#aec4ea" stroke="#1f2833" stroke-width="1.6"/>
<circle cx="537.3" cy="135.0" r="8.6" fill="#aec4ea" stroke="#1f2833" stroke-width="1.6"/>
<circle cx="537.3" cy="171.1" r="8.6" fill="#aec4ea" stroke="#1f2833" stroke-width="1.6"/>
<circle cx="537.3" cy="207.2" r="8.6" fill="#aec4ea" stroke="#1f2833" stroke-width="1.6"/>
<circle cx="537.3" cy="243.3" r="8.6" fill="#aec4ea" stroke="#1f2833" stroke-width="1.6"/>
<circle cx="537.3" cy="279.4" r="8.6" fill="#aec4ea" stroke="#1f2833" stroke-width="1.6"/>
<circle cx="629.8" cy="135.0" r="8.6" fill="#a6cdc2" stroke="#1f2833" stroke-width="1.6"/>
<circle cx="629.8" cy="171.1" r="8.6" fill="#a6cdc2" stroke="#1f2833" stroke-width="1.6"/>
<circle cx="629.8" cy="207.2" r="8.6" fill="#a6cdc2" stroke="#1f2833" stroke-width="1.6"/>
<circle cx="629.8" cy="243.3" r="8.6" fill="#a6cdc2" stroke="#1f2833" stroke-width="1.6"/>
<circle cx="629.8" cy="279.4" r="8.6" fill="#a6cdc2" stroke="#1f2833" stroke-width="1.6"/>
<circle cx="722.0" cy="152.8" r="8.6" fill="#a6cdc2" stroke="#1f2833" stroke-width="1.6"/>
<circle cx="722.0" cy="207.2" r="8.6" fill="#a6cdc2" stroke="#1f2833" stroke-width="1.6"/>
<circle cx="722.0" cy="262.2" r="8.6" fill="#a6cdc2" stroke="#1f2833" stroke-width="1.6"/>
<circle cx="791.8" cy="207.2" r="8.6" fill="#a6cdc2" stroke="#1f2833" stroke-width="1.6"/>
<line x1="270.8" y1="348.5" x2="342.0" y2="332.8" stroke="#9a9a9a" stroke-width="1.25" stroke-dasharray="9 9" stroke-dashoffset="12"/>
<polygon points="273.7,346.1 270.8,348.5 274.5,349.4" fill="#9a9a9a"/>
<polyline points="337.6,336.0 342.0,332.8 336.6,331.7" fill="none" stroke="#9a9a9a" stroke-width="1.1"/>
<line x1="270.8" y1="352.8" x2="342.0" y2="368.9" stroke="#9a9a9a" stroke-width="1.25" stroke-dasharray="9 9" stroke-dashoffset="12"/>
<polygon points="274.4,351.9 270.8,352.8 273.7,355.2" fill="#9a9a9a"/>
<polyline points="336.6,369.9 342.0,368.9 337.6,365.6" fill="none" stroke="#9a9a9a" stroke-width="1.1"/>
<line x1="269.3" y1="356.1" x2="342.0" y2="405.0" stroke="#9a9a9a" stroke-width="1.25" stroke-dasharray="9 9" stroke-dashoffset="12"/>
<polygon points="273.1,356.6 269.3,356.1 271.2,359.4" fill="#9a9a9a"/>
<polyline points="336.6,404.0 342.0,405.0 339.1,400.4" fill="none" stroke="#9a9a9a" stroke-width="1.1"/>
<line x1="267.7" y1="357.9" x2="342.0" y2="441.1" stroke="#9a9a9a" stroke-width="1.25" stroke-dasharray="9 9" stroke-dashoffset="12"/>
<polygon points="271.3,359.3 267.7,357.9 268.7,361.6" fill="#9a9a9a"/>
<polyline points="337.0,438.8 342.0,441.1 340.3,435.9" fill="none" stroke="#9a9a9a" stroke-width="1.1"/>
<line x1="266.5" y1="358.9" x2="342.0" y2="477.2" stroke="#9a9a9a" stroke-width="1.25" stroke-dasharray="9 9" stroke-dashoffset="12"/>
<polygon points="269.7,360.8 266.5,358.9 266.9,362.6" fill="#9a9a9a"/>
<polyline points="337.5,474.2 342.0,477.2 341.2,471.8" fill="none" stroke="#9a9a9a" stroke-width="1.1"/>
<line x1="268.5" y1="398.5" x2="342.0" y2="332.8" stroke="#9a9a9a" stroke-width="1.25" stroke-dasharray="9 9" stroke-dashoffset="12"/>
<polygon points="269.9,394.9 268.5,398.5 272.2,397.5" fill="#9a9a9a"/>
<polyline points="339.7,337.8 342.0,332.8 336.8,334.5" fill="none" stroke="#9a9a9a" stroke-width="1.1"/>
<line x1="270.1" y1="401.0" x2="342.0" y2="368.9" stroke="#9a9a9a" stroke-width="1.25" stroke-dasharray="9 9" stroke-dashoffset="12"/>
<polygon points="272.6,398.1 270.1,401.0 273.9,401.2" fill="#9a9a9a"/>
<polyline points="338.3,372.9 342.0,368.9 336.5,368.9" fill="none" stroke="#9a9a9a" stroke-width="1.1"/>
<line x1="271.0" y1="405.0" x2="342.0" y2="405.0" stroke="#9a9a9a" stroke-width="1.25" stroke-dasharray="9 9" stroke-dashoffset="12"/>
<polygon points="274.4,403.3 271.0,405.0 274.4,406.7" fill="#9a9a9a"/>
<polyline points="337.0,407.2 342.0,405.0 337.0,402.8" fill="none" stroke="#9a9a9a" stroke-width="1.1"/>
<line x1="270.1" y1="409.0" x2="342.0" y2="441.1" stroke="#9a9a9a" stroke-width="1.25" stroke-dasharray="9 9" stroke-dashoffset="12"/>
<polygon points="273.9,408.8 270.1,409.0 272.6,411.9" fill="#9a9a9a"/>
<polyline points="336.5,441.1 342.0,441.1 338.3,437.1" fill="none" stroke="#9a9a9a" stroke-width="1.1"/>
<line x1="268.5" y1="411.5" x2="342.0" y2="477.2" stroke="#9a9a9a" stroke-width="1.25" stroke-dasharray="9 9" stroke-dashoffset="12"/>
<polygon points="272.2,412.5 268.5,411.5 269.9,415.1" fill="#9a9a9a"/>
<polyline points="336.8,475.5 342.0,477.2 339.7,472.2" fill="none" stroke="#9a9a9a" stroke-width="1.1"/>
<line x1="266.5" y1="451.5" x2="342.0" y2="332.8" stroke="#9a9a9a" stroke-width="1.25" stroke-dasharray="9 9" stroke-dashoffset="12"/>
<polygon points="266.9,447.8 266.5,451.5 269.7,449.6" fill="#9a9a9a"/>
<polyline points="341.2,338.2 342.0,332.8 337.5,335.8" fill="none" stroke="#9a9a9a" stroke-width="1.1"/>
<line x1="267.7" y1="452.5" x2="342.0" y2="368.9" stroke="#9a9a9a" stroke-width="1.25" stroke-dasharray="9 9" stroke-dashoffset="12"/>
<polygon points="268.7,448.8 267.7,452.5 271.2,451.1" fill="#9a9a9a"/>
<polyline points="340.3,374.1 342.0,368.9 337.0,371.2" fill="none" stroke="#9a9a9a" stroke-width="1.1"/>
<line x1="269.3" y1="454.3" x2="342.0" y2="405.0" stroke="#9a9a9a" stroke-width="1.25" stroke-dasharray="9 9" stroke-dashoffset="12"/>
<polygon points="271.2,451.0 269.3,454.3 273.1,453.8" fill="#9a9a9a"/>
<polyline points="339.1,409.6 342.0,405.0 336.6,406.0" fill="none" stroke="#9a9a9a" stroke-width="1.1"/>
<line x1="270.7" y1="457.6" x2="342.0" y2="441.1" stroke="#9a9a9a" stroke-width="1.25" stroke-dasharray="9 9" stroke-dashoffset="12"/>
<polygon points="273.7,455.2 270.7,457.6 274.4,458.5" fill="#9a9a9a"/>
<polyline points="337.6,444.4 342.0,441.1 336.6,440.1" fill="none" stroke="#9a9a9a" stroke-width="1.1"/>
<line x1="270.8" y1="461.9" x2="342.0" y2="477.2" stroke="#9a9a9a" stroke-width="1.25" stroke-dasharray="9 9" stroke-dashoffset="12"/>
<polygon points="274.5,460.9 270.8,461.9 273.7,464.2" fill="#9a9a9a"/>
<polyline points="336.6,478.3 342.0,477.2 337.6,474.0" fill="none" stroke="#9a9a9a" stroke-width="1.1"/>
<line x1="361.2" y1="334.9" x2="433.7" y2="350.7" stroke="#9a9a9a" stroke-width="1.25" stroke-dasharray="9 9" stroke-dashoffset="12"/>
<polygon points="364.9,334.0 361.2,334.9 364.1,337.3" fill="#9a9a9a"/>
<polyline points="428.3,351.8 433.7,350.7 429.3,347.5" fill="none" stroke="#9a9a9a" stroke-width="1.1"/>
<line x1="359.8" y1="338.2" x2="433.7" y2="387.0" stroke="#9a9a9a" stroke-width="1.25" stroke-dasharray="9 9" stroke-dashoffset="12"/>
<polygon points="363.6,338.7 359.8,338.2 361.7,341.5" fill="#9a9a9a"/>
<polyline points="428.3,386.1 433.7,387.0 430.7,382.4" fill="none" stroke="#9a9a9a" stroke-width="1.1"/>
<line x1="358.2" y1="340.1" x2="433.7" y2="423.3" stroke="#9a9a9a" stroke-width="1.25" stroke-dasharray="9 9" stroke-dashoffset="12"/>
<polygon points="361.7,341.4 358.2,340.1 359.2,343.7" fill="#9a9a9a"/>
<polyline points="428.7,421.1 433.7,423.3 432.0,418.1" fill="none" stroke="#9a9a9a" stroke-width="1.1"/>
<line x1="356.9" y1="341.0" x2="433.7" y2="459.6" stroke="#9a9a9a" stroke-width="1.25" stroke-dasharray="9 9" stroke-dashoffset="12"/>
<polygon points="360.2,343.0 356.9,341.0 357.3,344.8" fill="#9a9a9a"/>
<polyline points="429.1,456.6 433.7,459.6 432.8,454.2" fill="none" stroke="#9a9a9a" stroke-width="1.1"/>
<line x1="361.2" y1="366.8" x2="433.7" y2="350.7" stroke="#9a9a9a" stroke-width="1.25" stroke-dasharray="9 9" stroke-dashoffset="12"/>
<polygon points="364.1,364.4 361.2,366.8 364.9,367.7" fill="#9a9a9a"/>
<polyline points="429.3,353.9 433.7,350.7 428.3,349.6" fill="none" stroke="#9a9a9a" stroke-width="1.1"/>
<line x1="361.2" y1="371.0" x2="433.7" y2="387.0" stroke="#9a9a9a" stroke-width="1.25" stroke-dasharray="9 9" stroke-dashoffset="12"/>
<polygon points="364.9,370.1 361.2,371.0 364.1,373.4" fill="#9a9a9a"/>
<polyline points="428.3,388.1 433.7,387.0 429.3,383.8" fill="none" stroke="#9a9a9a" stroke-width="1.1"/>
<line x1="359.8" y1="374.3" x2="433.7" y2="423.3" stroke="#9a9a9a" stroke-width="1.25" stroke-dasharray="9 9" stroke-dashoffset="12"/>
<polygon points="363.5,374.8 359.8,374.3 361.7,377.6" fill="#9a9a9a"/>
<polyline points="428.3,422.4 433.7,423.3 430.7,418.7" fill="none" stroke="#9a9a9a" stroke-width="1.1"/>
<line x1="358.2" y1="376.2" x2="433.7" y2="459.6" stroke="#9a9a9a" stroke-width="1.25" stroke-dasharray="9 9" stroke-dashoffset="12"/>
<polygon points="361.7,377.5 358.2,376.2 359.2,379.8" fill="#9a9a9a"/>
<polyline points="428.7,457.4 433.7,459.6 432.0,454.4" fill="none" stroke="#9a9a9a" stroke-width="1.1"/>
<line x1="359.8" y1="399.6" x2="433.7" y2="350.7" stroke="#9a9a9a" stroke-width="1.25" stroke-dasharray="9 9" stroke-dashoffset="12"/>
<polygon points="361.7,396.3 359.8,399.6 363.5,399.1" fill="#9a9a9a"/>
<polyline points="430.7,355.3 433.7,350.7 428.3,351.6" fill="none" stroke="#9a9a9a" stroke-width="1.1"/>
<line x1="361.2" y1="402.9" x2="433.7" y2="387.0" stroke="#9a9a9a" stroke-width="1.25" stroke-dasharray="9 9" stroke-dashoffset="12"/>
<polygon points="364.1,400.5 361.2,402.9 364.9,403.8" fill="#9a9a9a"/>
<polyline points="429.3,390.2 433.7,387.0 428.3,385.9" fill="none" stroke="#9a9a9a" stroke-width="1.1"/>
<line x1="361.2" y1="407.1" x2="433.7" y2="423.3" stroke="#9a9a9a" stroke-width="1.25" stroke-dasharray="9 9" stroke-dashoffset="12"/>
<polygon points="364.9,406.2 361.2,407.1 364.1,409.5" fill="#9a9a9a"/>
<polyline points="428.3,424.4 433.7,423.3 429.3,420.1" fill="none" stroke="#9a9a9a" stroke-width="1.1"/>
<line x1="359.8" y1="410.4" x2="433.7" y2="459.6" stroke="#9a9a9a" stroke-width="1.25" stroke-dasharray="9 9" stroke-dashoffset="12"/>
<polygon points="363.5,410.9 359.8,410.4 361.6,413.7" fill="#9a9a9a"/>
<polyline points="428.3,458.7 433.7,459.6 430.8,455.0" fill="none" stroke="#9a9a9a" stroke-width="1.1"/>
<line x1="358.2" y1="433.8" x2="433.7" y2="350.7" stroke="#9a9a9a" stroke-width="1.25" stroke-dasharray="9 9" stroke-dashoffset="12"/>
<polygon points="359.2,430.2 358.2,433.8 361.7,432.5" fill="#9a9a9a"/>
<polyline points="432.0,355.9 433.7,350.7 428.7,352.9" fill="none" stroke="#9a9a9a" stroke-width="1.1"/>
<line x1="359.8" y1="435.7" x2="433.7" y2="387.0" stroke="#9a9a9a" stroke-width="1.25" stroke-dasharray="9 9" stroke-dashoffset="12"/>
<polygon points="361.7,432.4 359.8,435.7 363.6,435.3" fill="#9a9a9a"/>
<polyline points="430.7,391.6 433.7,387.0 428.3,387.9" fill="none" stroke="#9a9a9a" stroke-width="1.1"/>
<line x1="361.2" y1="439.0" x2="433.7" y2="423.3" stroke="#9a9a9a" stroke-width="1.25" stroke-dasharray="9 9" stroke-dashoffset="12"/>
<polygon points="364.1,436.6 361.2,439.0 364.9,440.0" fill="#9a9a9a"/>
<polyline points="429.3,426.5 433.7,423.3 428.3,422.2" fill="none" stroke="#9a9a9a" stroke-width="1.1"/>
<line x1="361.2" y1="443.3" x2="433.7" y2="459.6" stroke="#9a9a9a" stroke-width="1.25" stroke-dasharray="9 9" stroke-dashoffset="12"/>
<polygon points="364.9,442.3 361.2,443.3 364.1,445.7" fill="#9a9a9a"/>
<polyline points="428.3,460.6 433.7,459.6 429.3,456.4" fill="none" stroke="#9a9a9a" stroke-width="1.1"/>
<line x1="356.9" y1="469.0" x2="433.7" y2="350.7" stroke="#9a9a9a" stroke-width="1.25" stroke-dasharray="9 9" stroke-dashoffset="12"/>
<polygon points="357.4,465.2 356.9,469.0 360.2,467.1" fill="#9a9a9a"/>
<polyline points="432.8,356.1 433.7,350.7 429.1,353.7" fill="none" stroke="#9a9a9a" stroke-width="1.1"/>
<line x1="358.2" y1="470.0" x2="433.7" y2="387.0" stroke="#9a9a9a" stroke-width="1.25" stroke-dasharray="9 9" stroke-dashoffset="12"/>
<polygon points="359.2,466.3 358.2,470.0 361.7,468.6" fill="#9a9a9a"/>
<polyline points="432.0,392.2 433.7,387.0 428.7,389.2" fill="none" stroke="#9a9a9a" stroke-width="1.1"/>
<line x1="359.8" y1="471.8" x2="433.7" y2="423.3" stroke="#9a9a9a" stroke-width="1.25" stroke-dasharray="9 9" stroke-dashoffset="12"/>
<polygon points="361.7,468.5 359.8,471.8 363.6,471.4" fill="#9a9a9a"/>
<polyline points="430.7,427.9 433.7,423.3 428.3,424.2" fill="none" stroke="#9a9a9a" stroke-width="1.1"/>
<line x1="361.2" y1="475.1" x2="433.7" y2="459.6" stroke="#9a9a9a" stroke-width="1.25" stroke-dasharray="9 9" stroke-dashoffset="12"/>
<polygon points="364.2,472.8 361.2,475.1 364.9,476.1" fill="#9a9a9a"/>
<polyline points="429.3,462.8 433.7,459.6 428.3,458.5" fill="none" stroke="#9a9a9a" stroke-width="1.1"/>
<line x1="452.9" y1="348.7" x2="527.7" y2="332.8" stroke="#9a9a9a" stroke-width="1.25" stroke-dasharray="9 9" stroke-dashoffset="12"/>
<polygon points="455.9,346.3 452.9,348.7 456.6,349.6" fill="#9a9a9a"/>
<polyline points="523.3,336.0 527.7,332.8 522.4,331.7" fill="none" stroke="#9a9a9a" stroke-width="1.1"/>
<line x1="452.9" y1="352.8" x2="527.7" y2="368.9" stroke="#9a9a9a" stroke-width="1.25" stroke-dasharray="9 9" stroke-dashoffset="12"/>
<polygon points="456.6,351.8 452.9,352.8 455.8,355.1" fill="#9a9a9a"/>
<polyline points="522.3,370.0 527.7,368.9 523.3,365.7" fill="none" stroke="#9a9a9a" stroke-width="1.1"/>
<line x1="451.5" y1="356.0" x2="527.7" y2="405.0" stroke="#9a9a9a" stroke-width="1.25" stroke-dasharray="9 9" stroke-dashoffset="12"/>
<polygon points="455.3,356.4 451.5,356.0 453.5,359.3" fill="#9a9a9a"/>
<polyline points="522.3,404.1 527.7,405.0 524.7,400.4" fill="none" stroke="#9a9a9a" stroke-width="1.1"/>
<line x1="450.0" y1="357.9" x2="527.7" y2="441.1" stroke="#9a9a9a" stroke-width="1.25" stroke-dasharray="9 9" stroke-dashoffset="12"/>
<polygon points="453.6,359.2 450.0,357.9 451.1,361.5" fill="#9a9a9a"/>
<polyline points="522.7,438.9 527.7,441.1 525.9,435.9" fill="none" stroke="#9a9a9a" stroke-width="1.1"/>
<line x1="448.7" y1="358.9" x2="527.7" y2="477.2" stroke="#9a9a9a" stroke-width="1.25" stroke-dasharray="9 9" stroke-dashoffset="12"/>
<polygon points="452.0,360.7 448.7,358.9 449.2,362.6" fill="#9a9a9a"/>
<polyline points="523.1,474.3 527.7,477.2 526.8,471.8" fill="none" stroke="#9a9a9a" stroke-width="1.1"/>
<line x1="451.5" y1="381.7" x2="527.7" y2="332.8" stroke="#9a9a9a" stroke-width="1.25" stroke-dasharray="9 9" stroke-dashoffset="12"/>
<polygon points="453.5,378.4 451.5,381.7 455.3,381.3" fill="#9a9a9a"/>
<polyline points="524.7,337.4 527.7,332.8 522.3,333.7" fill="none" stroke="#9a9a9a" stroke-width="1.1"/>
<line x1="452.9" y1="384.9" x2="527.7" y2="368.9" stroke="#9a9a9a" stroke-width="1.25" stroke-dasharray="9 9" stroke-dashoffset="12"/>
<polygon points="455.9,382.6 452.9,384.9 456.6,385.9" fill="#9a9a9a"/>
<polyline points="523.3,372.1 527.7,368.9 522.3,367.8" fill="none" stroke="#9a9a9a" stroke-width="1.1"/>
<line x1="452.9" y1="389.0" x2="527.7" y2="405.0" stroke="#9a9a9a" stroke-width="1.25" stroke-dasharray="9 9" stroke-dashoffset="12"/>
<polygon points="456.6,388.1 452.9,389.0 455.9,391.4" fill="#9a9a9a"/>
<polyline points="522.4,406.1 527.7,405.0 523.3,401.8" fill="none" stroke="#9a9a9a" stroke-width="1.1"/>
<line x1="451.6" y1="392.3" x2="527.7" y2="441.1" stroke="#9a9a9a" stroke-width="1.25" stroke-dasharray="9 9" stroke-dashoffset="12"/>
<polygon points="455.3,392.7 451.6,392.3 453.5,395.6" fill="#9a9a9a"/>
<polyline points="522.3,440.3 527.7,441.1 524.7,436.5" fill="none" stroke="#9a9a9a" stroke-width="1.1"/>
<line x1="450.0" y1="394.2" x2="527.7" y2="477.2" stroke="#9a9a9a" stroke-width="1.25" stroke-dasharray="9 9" stroke-dashoffset="12"/>
<polygon points="453.6,395.5 450.0,394.2 451.1,397.8" fill="#9a9a9a"/>
<polyline points="522.7,475.1 527.7,477.2 525.9,472.0" fill="none" stroke="#9a9a9a" stroke-width="1.1"/>
<line x1="450.0" y1="416.1" x2="527.7" y2="332.8" stroke="#9a9a9a" stroke-width="1.25" stroke-dasharray="9 9" stroke-dashoffset="12"/>
<polygon points="451.1,412.5 450.0,416.1 453.5,414.8" fill="#9a9a9a"/>
<polyline points="525.9,338.0 527.7,332.8 522.7,335.0" fill="none" stroke="#9a9a9a" stroke-width="1.1"/>
<line x1="451.5" y1="418.0" x2="527.7" y2="368.9" stroke="#9a9a9a" stroke-width="1.25" stroke-dasharray="9 9" stroke-dashoffset="12"/>
<polygon points="453.5,414.7 451.5,418.0 455.3,417.6" fill="#9a9a9a"/>
<polyline points="524.7,373.5 527.7,368.9 522.3,369.8" fill="none" stroke="#9a9a9a" stroke-width="1.1"/>
<line x1="452.9" y1="421.2" x2="527.7" y2="405.0" stroke="#9a9a9a" stroke-width="1.25" stroke-dasharray="9 9" stroke-dashoffset="12"/>
<polygon points="455.8,418.8 452.9,421.2 456.6,422.2" fill="#9a9a9a"/>
<polyline points="523.3,408.2 527.7,405.0 522.3,403.9" fill="none" stroke="#9a9a9a" stroke-width="1.1"/>
<line x1="452.9" y1="425.3" x2="527.7" y2="441.1" stroke="#9a9a9a" stroke-width="1.25" stroke-dasharray="9 9" stroke-dashoffset="12"/>
<polygon points="456.6,424.4 452.9,425.3 455.9,427.7" fill="#9a9a9a"/>
<polyline points="522.4,442.2 527.7,441.1 523.3,437.9" fill="none" stroke="#9a9a9a" stroke-width="1.1"/>
<line x1="451.6" y1="428.6" x2="527.7" y2="477.2" stroke="#9a9a9a" stroke-width="1.25" stroke-dasharray="9 9" stroke-dashoffset="12"/>
<polygon points="455.3,429.0 451.6,428.6 453.5,431.8" fill="#9a9a9a"/>
<polyline points="522.3,476.4 527.7,477.2 524.7,472.7" fill="none" stroke="#9a9a9a" stroke-width="1.1"/>
<line x1="448.7" y1="451.4" x2="527.7" y2="332.8" stroke="#9a9a9a" stroke-width="1.25" stroke-dasharray="9 9" stroke-dashoffset="12"/>
<polygon points="449.2,447.7 448.7,451.4 452.0,449.6" fill="#9a9a9a"/>
<polyline points="526.8,338.2 527.7,332.8 523.1,335.7" fill="none" stroke="#9a9a9a" stroke-width="1.1"/>
<line x1="450.0" y1="452.4" x2="527.7" y2="368.9" stroke="#9a9a9a" stroke-width="1.25" stroke-dasharray="9 9" stroke-dashoffset="12"/>
<polygon points="451.0,448.8 450.0,452.4 453.5,451.1" fill="#9a9a9a"/>
<polyline points="525.9,374.1 527.7,368.9 522.7,371.1" fill="none" stroke="#9a9a9a" stroke-width="1.1"/>
<line x1="451.5" y1="454.3" x2="527.7" y2="405.0" stroke="#9a9a9a" stroke-width="1.25" stroke-dasharray="9 9" stroke-dashoffset="12"/>
<polygon points="453.5,451.0 451.5,454.3 455.3,453.9" fill="#9a9a9a"/>
<polyline points="524.7,409.6 527.7,405.0 522.3,405.9" fill="none" stroke="#9a9a9a" stroke-width="1.1"/>
<line x1="452.9" y1="457.5" x2="527.7" y2="441.1" stroke="#9a9a9a" stroke-width="1.25" stroke-dasharray="9 9" stroke-dashoffset="12"/>
<polygon points="455.8,455.1 452.9,457.5 456.6,458.4" fill="#9a9a9a"/>
<polyline points="523.3,444.3 527.7,441.1 522.3,440.0" fill="none" stroke="#9a9a9a" stroke-width="1.1"/>
<line x1="452.9" y1="461.6" x2="527.7" y2="477.2" stroke="#9a9a9a" stroke-width="1.25" stroke-dasharray="9 9" stroke-dashoffset="12"/>
<polygon points="456.6,460.6 452.9,461.6 455.9,464.0" fill="#9a9a9a"/>
<polyline points="522.4,478.3 527.7,477.2 523.3,474.0" fill="none" stroke="#9a9a9a" stroke-width="1.1"/>
<line x1="547.1" y1="332.8" x2="620.2" y2="332.8" stroke="#9a9a9a" stroke-width="1.25" stroke-dasharray="9 9" stroke-dashoffset="12"/>
<polygon points="550.5,331.1 547.1,332.8 550.5,334.5" fill="#9a9a9a"/>
<polyline points="615.2,335.0 620.2,332.8 615.2,330.6" fill="none" stroke="#9a9a9a" stroke-width="1.1"/>
<line x1="546.3" y1="336.7" x2="620.2" y2="368.9" stroke="#9a9a9a" stroke-width="1.25" stroke-dasharray="9 9" stroke-dashoffset="12"/>
<polygon points="550.1,336.5 546.3,336.7 548.7,339.6" fill="#9a9a9a"/>
<polyline points="614.7,368.9 620.2,368.9 616.5,364.9" fill="none" stroke="#9a9a9a" stroke-width="1.1"/>
<line x1="544.7" y1="339.2" x2="620.2" y2="405.0" stroke="#9a9a9a" stroke-width="1.25" stroke-dasharray="9 9" stroke-dashoffset="12"/>
<polygon points="548.4,340.2 544.7,339.2 546.1,342.8" fill="#9a9a9a"/>
<polyline points="615.0,403.4 620.2,405.0 617.9,400.1" fill="none" stroke="#9a9a9a" stroke-width="1.1"/>
<line x1="543.3" y1="340.6" x2="620.2" y2="441.1" stroke="#9a9a9a" stroke-width="1.25" stroke-dasharray="9 9" stroke-dashoffset="12"/>
<polygon points="546.7,342.2 543.3,340.6 544.0,344.3" fill="#9a9a9a"/>
<polyline points="615.4,438.5 620.2,441.1 618.9,435.8" fill="none" stroke="#9a9a9a" stroke-width="1.1"/>
<line x1="542.2" y1="341.3" x2="620.2" y2="477.2" stroke="#9a9a9a" stroke-width="1.25" stroke-dasharray="9 9" stroke-dashoffset="12"/>
<polygon points="545.3,343.4 542.2,341.3 542.4,345.1" fill="#9a9a9a"/>
<polyline points="615.8,474.0 620.2,477.2 619.6,471.8" fill="none" stroke="#9a9a9a" stroke-width="1.1"/>
<line x1="546.3" y1="365.0" x2="620.2" y2="332.8" stroke="#9a9a9a" stroke-width="1.25" stroke-dasharray="9 9" stroke-dashoffset="12"/>
<polygon points="548.7,362.1 546.3,365.0 550.1,365.2" fill="#9a9a9a"/>
<polyline points="616.5,336.8 620.2,332.8 614.7,332.8" fill="none" stroke="#9a9a9a" stroke-width="1.1"/>
<line x1="547.1" y1="368.9" x2="620.2" y2="368.9" stroke="#9a9a9a" stroke-width="1.25" stroke-dasharray="9 9" stroke-dashoffset="12"/>
<polygon points="550.5,367.2 547.1,368.9 550.5,370.6" fill="#9a9a9a"/>
<polyline points="615.2,371.1 620.2,368.9 615.2,366.7" fill="none" stroke="#9a9a9a" stroke-width="1.1"/>
<line x1="546.3" y1="372.8" x2="620.2" y2="405.0" stroke="#9a9a9a" stroke-width="1.25" stroke-dasharray="9 9" stroke-dashoffset="12"/>
<polygon points="550.1,372.6 546.3,372.8 548.7,375.7" fill="#9a9a9a"/>
<polyline points="614.7,405.0 620.2,405.0 616.5,401.0" fill="none" stroke="#9a9a9a" stroke-width="1.1"/>
<line x1="544.7" y1="375.3" x2="620.2" y2="441.1" stroke="#9a9a9a" stroke-width="1.25" stroke-dasharray="9 9" stroke-dashoffset="12"/>
<polygon points="548.4,376.3 544.7,375.3 546.1,378.9" fill="#9a9a9a"/>
<polyline points="615.0,439.5 620.2,441.1 617.9,436.2" fill="none" stroke="#9a9a9a" stroke-width="1.1"/>
<line x1="543.3" y1="376.7" x2="620.2" y2="477.2" stroke="#9a9a9a" stroke-width="1.25" stroke-dasharray="9 9" stroke-dashoffset="12"/>
<polygon points="546.7,378.3 543.3,376.7 544.0,380.4" fill="#9a9a9a"/>
<polyline points="615.4,474.6 620.2,477.2 618.9,471.9" fill="none" stroke="#9a9a9a" stroke-width="1.1"/>
<line x1="544.7" y1="398.6" x2="620.2" y2="332.8" stroke="#9a9a9a" stroke-width="1.25" stroke-dasharray="9 9" stroke-dashoffset="12"/>
<polygon points="546.1,395.0 544.7,398.6 548.4,397.6" fill="#9a9a9a"/>
<polyline points="617.9,337.7 620.2,332.8 615.0,334.4" fill="none" stroke="#9a9a9a" stroke-width="1.1"/>
<line x1="546.3" y1="401.1" x2="620.2" y2="368.9" stroke="#9a9a9a" stroke-width="1.25" stroke-dasharray="9 9" stroke-dashoffset="12"/>
<polygon points="548.7,398.2 546.3,401.1 550.1,401.3" fill="#9a9a9a"/>
<polyline points="616.5,372.9 620.2,368.9 614.7,368.9" fill="none" stroke="#9a9a9a" stroke-width="1.1"/>
<line x1="547.1" y1="405.0" x2="620.2" y2="405.0" stroke="#9a9a9a" stroke-width="1.25" stroke-dasharray="9 9" stroke-dashoffset="12"/>
<polygon points="550.5,403.3 547.1,405.0 550.5,406.7" fill="#9a9a9a"/>
<polyline points="615.2,407.2 620.2,405.0 615.2,402.8" fill="none" stroke="#9a9a9a" stroke-width="1.1"/>
<line x1="546.3" y1="408.9" x2="620.2" y2="441.1" stroke="#9a9a9a" stroke-width="1.25" stroke-dasharray="9 9" stroke-dashoffset="12"/>
<polygon points="550.1,408.7 546.3,408.9 548.7,411.8" fill="#9a9a9a"/>
<polyline points="614.7,441.1 620.2,441.1 616.5,437.1" fill="none" stroke="#9a9a9a" stroke-width="1.1"/>
<line x1="544.7" y1="411.4" x2="620.2" y2="477.2" stroke="#9a9a9a" stroke-width="1.25" stroke-dasharray="9 9" stroke-dashoffset="12"/>
<polygon points="548.4,412.4 544.7,411.4 546.1,415.0" fill="#9a9a9a"/>
<polyline points="615.0,475.6 620.2,477.2 617.9,472.3" fill="none" stroke="#9a9a9a" stroke-width="1.1"/>
<line x1="543.3" y1="433.3" x2="620.2" y2="332.8" stroke="#9a9a9a" stroke-width="1.25" stroke-dasharray="9 9" stroke-dashoffset="12"/>
<polygon points="544.0,429.6 543.3,433.3 546.7,431.7" fill="#9a9a9a"/>
<polyline points="618.9,338.1 620.2,332.8 615.4,335.4" fill="none" stroke="#9a9a9a" stroke-width="1.1"/>
<line x1="544.7" y1="434.7" x2="620.2" y2="368.9" stroke="#9a9a9a" stroke-width="1.25" stroke-dasharray="9 9" stroke-dashoffset="12"/>
<polygon points="546.1,431.1 544.7,434.7 548.4,433.7" fill="#9a9a9a"/>
<polyline points="617.9,373.8 620.2,368.9 615.0,370.5" fill="none" stroke="#9a9a9a" stroke-width="1.1"/>
<line x1="546.3" y1="437.2" x2="620.2" y2="405.0" stroke="#9a9a9a" stroke-width="1.25" stroke-dasharray="9 9" stroke-dashoffset="12"/>
<polygon points="548.7,434.3 546.3,437.2 550.1,437.4" fill="#9a9a9a"/>
<polyline points="616.5,409.0 620.2,405.0 614.7,405.0" fill="none" stroke="#9a9a9a" stroke-width="1.1"/>
<line x1="547.1" y1="441.1" x2="620.2" y2="441.1" stroke="#9a9a9a" stroke-width="1.25" stroke-dasharray="9 9" stroke-dashoffset="12"/>
<polygon points="550.5,439.4 547.1,441.1 550.5,442.8" fill="#9a9a9a"/>
<polyline points="615.2,443.3 620.2,441.1 615.2,438.9" fill="none" stroke="#9a9a9a" stroke-width="1.1"/>
<line x1="546.3" y1="445.0" x2="620.2" y2="477.2" stroke="#9a9a9a" stroke-width="1.25" stroke-dasharray="9 9" stroke-dashoffset="12"/>
<polygon points="550.1,444.8 546.3,445.0 548.7,447.9" fill="#9a9a9a"/>
<polyline points="614.7,477.2 620.2,477.2 616.5,473.2" fill="none" stroke="#9a9a9a" stroke-width="1.1"/>
<line x1="542.2" y1="468.7" x2="620.2" y2="332.8" stroke="#9a9a9a" stroke-width="1.25" stroke-dasharray="9 9" stroke-dashoffset="12"/>
<polygon points="542.4,464.9 542.2,468.7 545.3,466.6" fill="#9a9a9a"/>
<polyline points="619.6,338.2 620.2,332.8 615.8,336.0" fill="none" stroke="#9a9a9a" stroke-width="1.1"/>
<line x1="543.3" y1="469.4" x2="620.2" y2="368.9" stroke="#9a9a9a" stroke-width="1.25" stroke-dasharray="9 9" stroke-dashoffset="12"/>
<polygon points="544.0,465.7 543.3,469.4 546.7,467.8" fill="#9a9a9a"/>
<polyline points="618.9,374.2 620.2,368.9 615.4,371.5" fill="none" stroke="#9a9a9a" stroke-width="1.1"/>
<line x1="544.7" y1="470.8" x2="620.2" y2="405.0" stroke="#9a9a9a" stroke-width="1.25" stroke-dasharray="9 9" stroke-dashoffset="12"/>
<polygon points="546.1,467.2 544.7,470.8 548.4,469.8" fill="#9a9a9a"/>
<polyline points="617.9,409.9 620.2,405.0 615.0,406.6" fill="none" stroke="#9a9a9a" stroke-width="1.1"/>
<line x1="546.3" y1="473.3" x2="620.2" y2="441.1" stroke="#9a9a9a" stroke-width="1.25" stroke-dasharray="9 9" stroke-dashoffset="12"/>
<polygon points="548.7,470.4 546.3,473.3 550.1,473.5" fill="#9a9a9a"/>
<polyline points="616.5,445.1 620.2,441.1 614.7,441.1" fill="none" stroke="#9a9a9a" stroke-width="1.1"/>
<line x1="547.1" y1="477.2" x2="620.2" y2="477.2" stroke="#9a9a9a" stroke-width="1.25" stroke-dasharray="9 9" stroke-dashoffset="12"/>
<polygon points="550.5,475.5 547.1,477.2 550.5,478.9" fill="#9a9a9a"/>
<polyline points="615.2,479.4 620.2,477.2 615.2,475.0" fill="none" stroke="#9a9a9a" stroke-width="1.1"/>
<line x1="639.4" y1="334.9" x2="712.4" y2="350.6" stroke="#9a9a9a" stroke-width="1.25" stroke-dasharray="9 9" stroke-dashoffset="12"/>
<polygon points="643.1,333.9 639.4,334.9 642.3,337.2" fill="#9a9a9a"/>
<polyline points="707.0,351.7 712.4,350.6 708.0,347.4" fill="none" stroke="#9a9a9a" stroke-width="1.1"/>
<line x1="637.2" y1="339.2" x2="712.4" y2="405.0" stroke="#9a9a9a" stroke-width="1.25" stroke-dasharray="9 9" stroke-dashoffset="12"/>
<polygon points="640.9,340.2 637.2,339.2 638.6,342.8" fill="#9a9a9a"/>
<polyline points="707.2,403.4 712.4,405.0 710.1,400.1" fill="none" stroke="#9a9a9a" stroke-width="1.1"/>
<line x1="635.1" y1="341.0" x2="712.4" y2="460.0" stroke="#9a9a9a" stroke-width="1.25" stroke-dasharray="9 9" stroke-dashoffset="12"/>
<polygon points="638.4,342.9 635.1,341.0 635.6,344.8" fill="#9a9a9a"/>
<polyline points="707.8,457.0 712.4,460.0 711.5,454.6" fill="none" stroke="#9a9a9a" stroke-width="1.1"/>
<line x1="639.4" y1="366.8" x2="712.4" y2="350.6" stroke="#9a9a9a" stroke-width="1.25" stroke-dasharray="9 9" stroke-dashoffset="12"/>
<polygon points="642.3,364.4 639.4,366.8 643.1,367.7" fill="#9a9a9a"/>
<polyline points="708.0,353.8 712.4,350.6 707.0,349.5" fill="none" stroke="#9a9a9a" stroke-width="1.1"/>
<line x1="638.8" y1="372.8" x2="712.4" y2="405.0" stroke="#9a9a9a" stroke-width="1.25" stroke-dasharray="9 9" stroke-dashoffset="12"/>
<polygon points="642.6,372.6 638.8,372.8 641.2,375.7" fill="#9a9a9a"/>
<polyline points="706.9,405.0 712.4,405.0 708.7,401.0" fill="none" stroke="#9a9a9a" stroke-width="1.1"/>
<line x1="636.4" y1="376.2" x2="712.4" y2="460.0" stroke="#9a9a9a" stroke-width="1.25" stroke-dasharray="9 9" stroke-dashoffset="12"/>
<polygon points="639.9,377.5 636.4,376.2 637.4,379.8" fill="#9a9a9a"/>
<polyline points="707.4,457.8 712.4,460.0 710.7,454.8" fill="none" stroke="#9a9a9a" stroke-width="1.1"/>
<line x1="638.0" y1="399.6" x2="712.4" y2="350.6" stroke="#9a9a9a" stroke-width="1.25" stroke-dasharray="9 9" stroke-dashoffset="12"/>
<polygon points="639.9,396.3 638.0,399.6 641.8,399.2" fill="#9a9a9a"/>
<polyline points="709.4,355.2 712.4,350.6 707.0,351.5" fill="none" stroke="#9a9a9a" stroke-width="1.1"/>
<line x1="639.6" y1="405.0" x2="712.4" y2="405.0" stroke="#9a9a9a" stroke-width="1.25" stroke-dasharray="9 9" stroke-dashoffset="12"/>
<polygon points="643.0,403.3 639.6,405.0 643.0,406.7" fill="#9a9a9a"/>
<polyline points="707.4,407.2 712.4,405.0 707.4,402.8" fill="none" stroke="#9a9a9a" stroke-width="1.1"/>
<line x1="638.0" y1="410.4" x2="712.4" y2="460.0" stroke="#9a9a9a" stroke-width="1.25" stroke-dasharray="9 9" stroke-dashoffset="12"/>
<polygon points="641.7,410.9 638.0,410.4 639.8,413.7" fill="#9a9a9a"/>
<polyline points="707.0,459.1 712.4,460.0 709.5,455.4" fill="none" stroke="#9a9a9a" stroke-width="1.1"/>
<line x1="636.4" y1="433.9" x2="712.4" y2="350.6" stroke="#9a9a9a" stroke-width="1.25" stroke-dasharray="9 9" stroke-dashoffset="12"/>
<polygon points="637.4,430.2 636.4,433.9 640.0,432.5" fill="#9a9a9a"/>
<polyline points="710.7,355.8 712.4,350.6 707.4,352.8" fill="none" stroke="#9a9a9a" stroke-width="1.1"/>
<line x1="638.8" y1="437.2" x2="712.4" y2="405.0" stroke="#9a9a9a" stroke-width="1.25" stroke-dasharray="9 9" stroke-dashoffset="12"/>
<polygon points="641.2,434.3 638.8,437.2 642.6,437.4" fill="#9a9a9a"/>
<polyline points="708.7,409.0 712.4,405.0 706.9,405.0" fill="none" stroke="#9a9a9a" stroke-width="1.1"/>
<line x1="639.4" y1="443.3" x2="712.4" y2="460.0" stroke="#9a9a9a" stroke-width="1.25" stroke-dasharray="9 9" stroke-dashoffset="12"/>
<polygon points="643.0,442.4 639.4,443.3 642.3,445.7" fill="#9a9a9a"/>
<polyline points="707.0,461.0 712.4,460.0 708.0,456.7" fill="none" stroke="#9a9a9a" stroke-width="1.1"/>
<line x1="635.2" y1="469.0" x2="712.4" y2="350.6" stroke="#9a9a9a" stroke-width="1.25" stroke-dasharray="9 9" stroke-dashoffset="12"/>
<polygon points="635.6,465.2 635.2,469.0 638.4,467.1" fill="#9a9a9a"/>
<polyline points="711.5,356.0 712.4,350.6 707.8,353.6" fill="none" stroke="#9a9a9a" stroke-width="1.1"/>
<line x1="637.2" y1="470.8" x2="712.4" y2="405.0" stroke="#9a9a9a" stroke-width="1.25" stroke-dasharray="9 9" stroke-dashoffset="12"/>
<polygon points="638.6,467.2 637.2,470.8 640.9,469.8" fill="#9a9a9a"/>
<polyline points="710.1,409.9 712.4,405.0 707.2,406.6" fill="none" stroke="#9a9a9a" stroke-width="1.1"/>
<line x1="639.4" y1="475.2" x2="712.4" y2="460.0" stroke="#9a9a9a" stroke-width="1.25" stroke-dasharray="9 9" stroke-dashoffset="12"/>
<polygon points="642.4,472.8 639.4,475.2 643.1,476.2" fill="#9a9a9a"/>
<polyline points="708.0,463.2 712.4,460.0 707.1,458.9" fill="none" stroke="#9a9a9a" stroke-width="1.1"/>
<line x1="729.3" y1="357.2" x2="782.2" y2="405.0" stroke="#9a9a9a" stroke-width="1.25" stroke-dasharray="9 9" stroke-dashoffset="12"/>
<polygon points="732.9,358.2 729.3,357.2 730.7,360.7" fill="#9a9a9a"/>
<polyline points="777.0,403.3 782.2,405.0 780.0,400.0" fill="none" stroke="#9a9a9a" stroke-width="1.1"/>
<line x1="731.8" y1="405.0" x2="782.2" y2="405.0" stroke="#9a9a9a" stroke-width="1.25" stroke-dasharray="9 9" stroke-dashoffset="12"/>
<polygon points="735.2,403.3 731.8,405.0 735.2,406.7" fill="#9a9a9a"/>
<polyline points="777.2,407.2 782.2,405.0 777.2,402.8" fill="none" stroke="#9a9a9a" stroke-width="1.1"/>
<line x1="729.2" y1="453.4" x2="782.2" y2="405.0" stroke="#9a9a9a" stroke-width="1.25" stroke-dasharray="9 9" stroke-dashoffset="12"/>
<polygon points="730.6,449.8 729.2,453.4 732.9,452.4" fill="#9a9a9a"/>
<polyline points="780.0,410.0 782.2,405.0 777.0,406.7" fill="none" stroke="#9a9a9a" stroke-width="1.1"/>
<circle cx="261.2" cy="350.6" r="8.6" fill="#aec4ea" stroke="#1f2833" stroke-width="1.6"/>
<circle cx="261.2" cy="405.0" r="8.6" fill="#aec4ea" stroke="#1f2833" stroke-width="1.6"/>
<circle cx="261.2" cy="459.8" r="8.6" fill="#aec4ea" stroke="#1f2833" stroke-width="1.6"/>
<circle cx="351.6" cy="332.8" r="8.6" fill="#aec4ea" stroke="#1f2833" stroke-width="1.6"/>
<circle cx="351.6" cy="368.9" r="8.6" fill="#aec4ea" stroke="#1f2833" stroke-width="1.6"/>
<circle cx="351.6" cy="405.0" r="8.6" fill="#aec4ea" stroke="#1f2833" stroke-width="1.6"/>
<circle cx="351.6" cy="441.1" r="8.6" fill="#aec4ea" stroke="#1f2833" stroke-width="1.6"/>
<circle cx="351.6" cy="477.2" r="8.6" fill="#aec4ea" stroke="#1f2833" stroke-width="1.6"/>
<circle cx="443.3" cy="350.7" r="8.6" fill="#aec4ea" stroke="#1f2833" stroke-width="1.6"/>
<circle cx="443.3" cy="387.0" r="8.6" fill="#aec4ea" stroke="#1f2833" stroke-width="1.6"/>
<circle cx="443.3" cy="423.3" r="8.6" fill="#aec4ea" stroke="#1f2833" stroke-width="1.6"/>
<circle cx="443.3" cy="459.6" r="8.6" fill="#aec4ea" stroke="#1f2833" stroke-width="1.6"/>
<circle cx="537.3" cy="332.8" r="8.6" fill="#aec4ea" stroke="#1f2833" stroke-width="1.6"/>
<circle cx="537.3" cy="368.9" r="8.6" fill="#aec4ea" stroke="#1f2833" stroke-width="1.6"/>
<circle cx="537.3" cy="405.0" r="8.6" fill="#aec4ea" stroke="#1f2833" stroke-width="1.6"/>
<circle cx="537.3" cy="441.1" r="8.6" fill="#aec4ea" stroke="#1f2833" stroke-width="1.6"/>
<circle cx="537.3" cy="477.2" r="8.6" fill="#aec4ea" stroke="#1f2833" stroke-width="1.6"/>
<circle cx="629.8" cy="332.8" r="8.6" fill="#aec4ea" stroke="#1f2833" stroke-width="1.6"/>
<circle cx="629.8" cy="368.9" r="8.6" fill="#aec4ea" stroke="#1f2833" stroke-width="1.6"/>
<circle cx="629.8" cy="405.0" r="8.6" fill="#aec4ea" stroke="#1f2833" stroke-width="1.6"/>
<circle cx="629.8" cy="441.1" r="8.6" fill="#aec4ea" stroke="#1f2833" stroke-width="1.6"/>
<circle cx="629.8" cy="477.2" r="8.6" fill="#aec4ea" stroke="#1f2833" stroke-width="1.6"/>
<circle cx="722.0" cy="350.6" r="8.6" fill="#aec4ea" stroke="#1f2833" stroke-width="1.6"/>
<circle cx="722.0" cy="405.0" r="8.6" fill="#aec4ea" stroke="#1f2833" stroke-width="1.6"/>
<circle cx="722.0" cy="460.0" r="8.6" fill="#aec4ea" stroke="#1f2833" stroke-width="1.6"/>
<circle cx="791.8" cy="405.0" r="8.6" fill="#aec4ea" stroke="#1f2833" stroke-width="1.6"/>
<line x1="271.0" y1="578.9" x2="341.8" y2="563.0" stroke="#9a9a9a" stroke-width="1.25" stroke-dasharray="9 9" stroke-dashoffset="12"/>
<polygon points="273.9,576.5 271.0,578.9 274.7,579.8" fill="#9a9a9a"/>
<polyline points="337.4,566.2 341.8,563.0 336.4,561.9" fill="none" stroke="#9a9a9a" stroke-width="1.1"/>
<line x1="271.0" y1="583.2" x2="341.8" y2="599.1" stroke="#9a9a9a" stroke-width="1.25" stroke-dasharray="9 9" stroke-dashoffset="12"/>
<polygon points="274.7,582.2 271.0,583.2 273.9,585.6" fill="#9a9a9a"/>
<polyline points="336.4,600.1 341.8,599.1 337.4,595.9" fill="none" stroke="#9a9a9a" stroke-width="1.1"/>
<line x1="269.5" y1="586.5" x2="341.8" y2="635.2" stroke="#9a9a9a" stroke-width="1.25" stroke-dasharray="9 9" stroke-dashoffset="12"/>
<polygon points="273.3,587.0 269.5,586.5 271.4,589.8" fill="#9a9a9a"/>
<polyline points="336.4,634.2 341.8,635.2 338.9,630.6" fill="none" stroke="#9a9a9a" stroke-width="1.1"/>
<line x1="267.9" y1="588.3" x2="341.8" y2="671.3" stroke="#9a9a9a" stroke-width="1.25" stroke-dasharray="9 9" stroke-dashoffset="12"/>
<polygon points="271.4,589.7 267.9,588.3 268.9,592.0" fill="#9a9a9a"/>
<polyline points="336.8,669.0 341.8,671.3 340.1,666.1" fill="none" stroke="#9a9a9a" stroke-width="1.1"/>
<line x1="266.7" y1="589.3" x2="341.8" y2="707.4" stroke="#9a9a9a" stroke-width="1.25" stroke-dasharray="9 9" stroke-dashoffset="12"/>
<polygon points="269.9,591.2 266.7,589.3 267.1,593.1" fill="#9a9a9a"/>
<polyline points="337.3,704.4 341.8,707.4 341.0,702.0" fill="none" stroke="#9a9a9a" stroke-width="1.1"/>
<line x1="268.7" y1="628.5" x2="341.8" y2="563.0" stroke="#9a9a9a" stroke-width="1.25" stroke-dasharray="9 9" stroke-dashoffset="12"/>
<polygon points="270.1,624.9 268.7,628.5 272.4,627.5" fill="#9a9a9a"/>
<polyline points="339.5,568.0 341.8,563.0 336.6,564.7" fill="none" stroke="#9a9a9a" stroke-width="1.1"/>
<line x1="270.3" y1="631.0" x2="341.8" y2="599.1" stroke="#9a9a9a" stroke-width="1.25" stroke-dasharray="9 9" stroke-dashoffset="12"/>
<polygon points="272.8,628.1 270.3,631.0 274.1,631.2" fill="#9a9a9a"/>
<polyline points="338.1,603.1 341.8,599.1 336.3,599.1" fill="none" stroke="#9a9a9a" stroke-width="1.1"/>
<line x1="271.2" y1="635.0" x2="341.8" y2="635.2" stroke="#9a9a9a" stroke-width="1.25" stroke-dasharray="9 9" stroke-dashoffset="12"/>
<polygon points="274.6,633.3 271.2,635.0 274.6,636.7" fill="#9a9a9a"/>
<polyline points="336.8,637.4 341.8,635.2 336.8,633.0" fill="none" stroke="#9a9a9a" stroke-width="1.1"/>
<line x1="270.3" y1="639.0" x2="341.8" y2="671.3" stroke="#9a9a9a" stroke-width="1.25" stroke-dasharray="9 9" stroke-dashoffset="12"/>
<polygon points="274.1,638.9 270.3,639.0 272.7,642.0" fill="#9a9a9a"/>
<polyline points="336.3,671.2 341.8,671.3 338.1,667.2" fill="none" stroke="#9a9a9a" stroke-width="1.1"/>
<line x1="268.7" y1="641.6" x2="341.8" y2="707.4" stroke="#9a9a9a" stroke-width="1.25" stroke-dasharray="9 9" stroke-dashoffset="12"/>
<polygon points="272.3,642.6 268.7,641.6 270.1,645.1" fill="#9a9a9a"/>
<polyline points="336.6,705.7 341.8,707.4 339.6,702.4" fill="none" stroke="#9a9a9a" stroke-width="1.1"/>
<line x1="266.7" y1="681.2" x2="341.8" y2="563.0" stroke="#9a9a9a" stroke-width="1.25" stroke-dasharray="9 9" stroke-dashoffset="12"/>
<polygon points="267.0,677.4 266.7,681.2 269.9,679.3" fill="#9a9a9a"/>
<polyline points="341.0,568.4 341.8,563.0 337.3,566.0" fill="none" stroke="#9a9a9a" stroke-width="1.1"/>
<line x1="267.9" y1="682.2" x2="341.8" y2="599.1" stroke="#9a9a9a" stroke-width="1.25" stroke-dasharray="9 9" stroke-dashoffset="12"/>
<polygon points="268.9,678.5 267.9,682.2 271.4,680.8" fill="#9a9a9a"/>
<polyline points="340.1,604.3 341.8,599.1 336.8,601.4" fill="none" stroke="#9a9a9a" stroke-width="1.1"/>
<line x1="269.5" y1="684.0" x2="341.8" y2="635.2" stroke="#9a9a9a" stroke-width="1.25" stroke-dasharray="9 9" stroke-dashoffset="12"/>
<polygon points="271.4,680.7 269.5,684.0 273.3,683.5" fill="#9a9a9a"/>
<polyline points="338.9,639.8 341.8,635.2 336.4,636.2" fill="none" stroke="#9a9a9a" stroke-width="1.1"/>
<line x1="271.0" y1="687.3" x2="341.8" y2="671.3" stroke="#9a9a9a" stroke-width="1.25" stroke-dasharray="9 9" stroke-dashoffset="12"/>
<polygon points="273.9,684.9 271.0,687.3 274.6,688.2" fill="#9a9a9a"/>
<polyline points="337.4,674.5 341.8,671.3 336.4,670.3" fill="none" stroke="#9a9a9a" stroke-width="1.1"/>
<line x1="271.0" y1="691.6" x2="341.8" y2="707.4" stroke="#9a9a9a" stroke-width="1.25" stroke-dasharray="9 9" stroke-dashoffset="12"/>
<polygon points="274.7,690.7 271.0,691.6 273.9,694.0" fill="#9a9a9a"/>
<polyline points="336.4,708.5 341.8,707.4 337.4,704.2" fill="none" stroke="#9a9a9a" stroke-width="1.1"/>
<line x1="360.2" y1="567.2" x2="427.2" y2="599.2" stroke="#9a9a9a" stroke-width="1.25" stroke-dasharray="9 9" stroke-dashoffset="12"/>
<polygon points="364.0,567.2 360.2,567.2 362.6,570.2" fill="#9a9a9a"/>
<polyline points="421.7,599.0 427.2,599.2 423.6,595.1" fill="none" stroke="#9a9a9a" stroke-width="1.1"/>
<line x1="358.5" y1="569.8" x2="427.2" y2="635.4" stroke="#9a9a9a" stroke-width="1.25" stroke-dasharray="9 9" stroke-dashoffset="12"/>
<polygon points="362.1,570.9 358.5,569.8 359.8,573.3" fill="#9a9a9a"/>
<polyline points="422.1,633.5 427.2,635.4 425.1,630.4" fill="none" stroke="#9a9a9a" stroke-width="1.1"/>
<line x1="357.0" y1="571.0" x2="427.2" y2="671.4" stroke="#9a9a9a" stroke-width="1.25" stroke-dasharray="9 9" stroke-dashoffset="12"/>
<polygon points="360.4,572.8 357.0,571.0 357.6,574.8" fill="#9a9a9a"/>
<polyline points="422.5,668.6 427.2,671.4 426.1,666.0" fill="none" stroke="#9a9a9a" stroke-width="1.1"/>
<line x1="361.2" y1="599.1" x2="427.2" y2="599.2" stroke="#9a9a9a" stroke-width="1.25" stroke-dasharray="9 9" stroke-dashoffset="12"/>
<polygon points="364.6,597.4 361.2,599.1 364.6,600.8" fill="#9a9a9a"/>
<polyline points="422.2,601.4 427.2,599.2 422.2,597.0" fill="none" stroke="#9a9a9a" stroke-width="1.1"/>
<line x1="360.2" y1="603.3" x2="427.2" y2="635.4" stroke="#9a9a9a" stroke-width="1.25" stroke-dasharray="9 9" stroke-dashoffset="12"/>
<polygon points="364.0,603.3 360.2,603.3 362.6,606.3" fill="#9a9a9a"/>
<polyline points="421.7,635.2 427.2,635.4 423.6,631.3" fill="none" stroke="#9a9a9a" stroke-width="1.1"/>
<line x1="358.5" y1="605.9" x2="427.2" y2="671.4" stroke="#9a9a9a" stroke-width="1.25" stroke-dasharray="9 9" stroke-dashoffset="12"/>
<polygon points="362.1,607.0 358.5,605.9 359.8,609.4" fill="#9a9a9a"/>
<polyline points="422.1,669.5 427.2,671.4 425.1,666.4" fill="none" stroke="#9a9a9a" stroke-width="1.1"/>
<line x1="360.3" y1="631.0" x2="427.2" y2="599.2" stroke="#9a9a9a" stroke-width="1.25" stroke-dasharray="9 9" stroke-dashoffset="12"/>
<polygon points="362.6,628.0 360.3,631.0 364.1,631.1" fill="#9a9a9a"/>
<polyline points="423.6,603.3 427.2,599.2 421.7,599.4" fill="none" stroke="#9a9a9a" stroke-width="1.1"/>
<line x1="361.2" y1="635.2" x2="427.2" y2="635.4" stroke="#9a9a9a" stroke-width="1.25" stroke-dasharray="9 9" stroke-dashoffset="12"/>
<polygon points="364.6,633.5 361.2,635.2 364.6,636.9" fill="#9a9a9a"/>
<polyline points="422.2,637.6 427.2,635.4 422.2,633.2" fill="none" stroke="#9a9a9a" stroke-width="1.1"/>
<line x1="360.2" y1="639.4" x2="427.2" y2="671.4" stroke="#9a9a9a" stroke-width="1.25" stroke-dasharray="9 9" stroke-dashoffset="12"/>
<polygon points="364.0,639.4 360.2,639.4 362.6,642.4" fill="#9a9a9a"/>
<polyline points="421.7,671.2 427.2,671.4 423.6,667.3" fill="none" stroke="#9a9a9a" stroke-width="1.1"/>
<line x1="358.5" y1="664.5" x2="427.2" y2="599.2" stroke="#9a9a9a" stroke-width="1.25" stroke-dasharray="9 9" stroke-dashoffset="12"/>
<polygon points="359.8,661.0 358.5,664.5 362.1,663.4" fill="#9a9a9a"/>
<polyline points="425.1,604.2 427.2,599.2 422.1,601.1" fill="none" stroke="#9a9a9a" stroke-width="1.1"/>
<line x1="360.3" y1="667.1" x2="427.2" y2="635.4" stroke="#9a9a9a" stroke-width="1.25" stroke-dasharray="9 9" stroke-dashoffset="12"/>
<polygon points="362.6,664.1 360.3,667.1 364.1,667.2" fill="#9a9a9a"/>
<polyline points="423.6,639.5 427.2,635.4 421.7,635.6" fill="none" stroke="#9a9a9a" stroke-width="1.1"/>
<line x1="361.2" y1="671.3" x2="427.2" y2="671.4" stroke="#9a9a9a" stroke-width="1.25" stroke-dasharray="9 9" stroke-dashoffset="12"/>
<polygon points="364.6,669.6 361.2,671.3 364.6,673.0" fill="#9a9a9a"/>
<polyline points="422.2,673.6 427.2,671.4 422.2,669.2" fill="none" stroke="#9a9a9a" stroke-width="1.1"/>
<line x1="357.0" y1="699.4" x2="427.2" y2="599.2" stroke="#9a9a9a" stroke-width="1.25" stroke-dasharray="9 9" stroke-dashoffset="12"/>
<polygon points="357.6,695.6 357.0,699.4 360.4,697.6" fill="#9a9a9a"/>
<polyline points="426.1,604.6 427.2,599.2 422.5,602.0" fill="none" stroke="#9a9a9a" stroke-width="1.1"/>
<line x1="358.5" y1="700.7" x2="427.2" y2="635.4" stroke="#9a9a9a" stroke-width="1.25" stroke-dasharray="9 9" stroke-dashoffset="12"/>
<polygon points="359.8,697.1 358.5,700.7 362.1,699.5" fill="#9a9a9a"/>
<polyline points="425.1,640.4 427.2,635.4 422.1,637.2" fill="none" stroke="#9a9a9a" stroke-width="1.1"/>
<line x1="360.3" y1="703.2" x2="427.2" y2="671.4" stroke="#9a9a9a" stroke-width="1.25" stroke-dasharray="9 9" stroke-dashoffset="12"/>
<polygon points="362.6,700.2 360.3,703.2 364.1,703.3" fill="#9a9a9a"/>
<polyline points="423.6,675.5 427.2,671.4 421.7,671.6" fill="none" stroke="#9a9a9a" stroke-width="1.1"/>
<line x1="444.9" y1="593.6" x2="527.7" y2="536.7" stroke="#7db3a9" stroke-width="1.25" stroke-dasharray="9 9" stroke-dashoffset="12"/>
<polygon points="446.7,590.3 444.9,593.6 448.6,593.1" fill="#7db3a9"/>
<polyline points="524.8,541.3 527.7,536.7 522.3,537.7" fill="none" stroke="#7db3a9" stroke-width="1.1"/>
<line x1="446.2" y1="596.5" x2="527.7" y2="572.8" stroke="#7db3a9" stroke-width="1.25" stroke-dasharray="9 9" stroke-dashoffset="12"/>
<polygon points="449.0,593.9 446.2,596.5 450.0,597.2" fill="#7db3a9"/>
<polyline points="523.5,576.3 527.7,572.8 522.3,572.1" fill="none" stroke="#7db3a9" stroke-width="1.1"/>
<line x1="446.5" y1="600.2" x2="527.7" y2="608.9" stroke="#7db3a9" stroke-width="1.25" stroke-dasharray="9 9" stroke-dashoffset="12"/>
<polygon points="450.1,598.9 446.5,600.2 449.7,602.3" fill="#7db3a9"/>
<polyline points="522.5,610.6 527.7,608.9 523.0,606.2" fill="none" stroke="#7db3a9" stroke-width="1.1"/>
<line x1="443.4" y1="628.2" x2="527.7" y2="536.7" stroke="#7db3a9" stroke-width="1.25" stroke-dasharray="9 9" stroke-dashoffset="12"/>
<polygon points="444.5,624.5 443.4,628.2 447.0,626.8" fill="#7db3a9"/>
<polyline points="525.9,541.9 527.7,536.7 522.7,538.9" fill="none" stroke="#7db3a9" stroke-width="1.1"/>
<line x1="444.9" y1="629.8" x2="527.7" y2="572.8" stroke="#7db3a9" stroke-width="1.25" stroke-dasharray="9 9" stroke-dashoffset="12"/>
<polygon points="446.7,626.5 444.9,629.8 448.6,629.3" fill="#7db3a9"/>
<polyline points="524.8,577.4 527.7,572.8 522.3,573.8" fill="none" stroke="#7db3a9" stroke-width="1.1"/>
<line x1="446.2" y1="632.7" x2="527.7" y2="608.9" stroke="#7db3a9" stroke-width="1.25" stroke-dasharray="9 9" stroke-dashoffset="12"/>
<polygon points="449.0,630.1 446.2,632.7 449.9,633.3" fill="#7db3a9"/>
<polyline points="523.5,612.4 527.7,608.9 522.3,608.2" fill="none" stroke="#7db3a9" stroke-width="1.1"/>
<line x1="442.3" y1="663.3" x2="527.7" y2="536.7" stroke="#7db3a9" stroke-width="1.25" stroke-dasharray="9 9" stroke-dashoffset="12"/>
<polygon points="442.8,659.5 442.3,663.3 445.6,661.4" fill="#7db3a9"/>
<polyline points="526.7,542.1 527.7,536.7 523.1,539.6" fill="none" stroke="#7db3a9" stroke-width="1.1"/>
<line x1="443.4" y1="664.2" x2="527.7" y2="572.8" stroke="#7db3a9" stroke-width="1.25" stroke-dasharray="9 9" stroke-dashoffset="12"/>
<polygon points="444.5,660.5 443.4,664.2 447.0,662.8" fill="#7db3a9"/>
<polyline points="525.9,578.0 527.7,572.8 522.7,575.0" fill="none" stroke="#7db3a9" stroke-width="1.1"/>
<line x1="444.9" y1="665.8" x2="527.7" y2="608.9" stroke="#7db3a9" stroke-width="1.25" stroke-dasharray="9 9" stroke-dashoffset="12"/>
<polygon points="446.7,662.5 444.9,665.8 448.6,665.3" fill="#7db3a9"/>
<polyline points="524.8,613.5 527.7,608.9 522.3,609.9" fill="none" stroke="#7db3a9" stroke-width="1.1"/>
<line x1="444.9" y1="604.8" x2="527.7" y2="661.7" stroke="#e48b85" stroke-width="1.25" stroke-dasharray="9 9" stroke-dashoffset="12"/>
<polygon points="448.6,605.3 444.9,604.8 446.7,608.1" fill="#e48b85"/>
<polyline points="522.3,660.7 527.7,661.7 524.8,657.1" fill="none" stroke="#e48b85" stroke-width="1.1"/>
<line x1="443.4" y1="606.4" x2="527.7" y2="698.1" stroke="#e48b85" stroke-width="1.25" stroke-dasharray="9 9" stroke-dashoffset="12"/>
<polygon points="447.0,607.8 443.4,606.4 444.5,610.1" fill="#e48b85"/>
<polyline points="522.7,695.9 527.7,698.1 525.9,692.9" fill="none" stroke="#e48b85" stroke-width="1.1"/>
<line x1="442.3" y1="607.3" x2="527.7" y2="734.5" stroke="#e48b85" stroke-width="1.25" stroke-dasharray="9 9" stroke-dashoffset="12"/>
<polygon points="445.6,609.2 442.3,607.3 442.8,611.1" fill="#e48b85"/>
<polyline points="523.1,731.6 527.7,734.5 526.7,729.1" fill="none" stroke="#e48b85" stroke-width="1.1"/>
<line x1="446.2" y1="638.1" x2="527.7" y2="661.7" stroke="#e48b85" stroke-width="1.25" stroke-dasharray="9 9" stroke-dashoffset="12"/>
<polygon points="450.0,637.4 446.2,638.1 449.0,640.7" fill="#e48b85"/>
<polyline points="522.3,662.4 527.7,661.7 523.5,658.2" fill="none" stroke="#e48b85" stroke-width="1.1"/>
<line x1="444.9" y1="641.0" x2="527.7" y2="698.1" stroke="#e48b85" stroke-width="1.25" stroke-dasharray="9 9" stroke-dashoffset="12"/>
<polygon points="448.6,641.5 444.9,641.0 446.7,644.3" fill="#e48b85"/>
<polyline points="522.3,697.1 527.7,698.1 524.8,693.5" fill="none" stroke="#e48b85" stroke-width="1.1"/>
<line x1="443.4" y1="642.6" x2="527.7" y2="734.5" stroke="#e48b85" stroke-width="1.25" stroke-dasharray="9 9" stroke-dashoffset="12"/>
<polygon points="447.0,644.0 443.4,642.6 444.5,646.3" fill="#e48b85"/>
<polyline points="522.7,732.3 527.7,734.5 525.9,729.3" fill="none" stroke="#e48b85" stroke-width="1.1"/>
<line x1="446.5" y1="670.4" x2="527.7" y2="661.7" stroke="#e48b85" stroke-width="1.25" stroke-dasharray="9 9" stroke-dashoffset="12"/>
<polygon points="449.7,668.3 446.5,670.4 450.1,671.7" fill="#e48b85"/>
<polyline points="523.0,664.4 527.7,661.7 522.5,660.0" fill="none" stroke="#e48b85" stroke-width="1.1"/>
<line x1="446.2" y1="674.2" x2="527.7" y2="698.1" stroke="#e48b85" stroke-width="1.25" stroke-dasharray="9 9" stroke-dashoffset="12"/>
<polygon points="449.9,673.5 446.2,674.2 449.0,676.8" fill="#e48b85"/>
<polyline points="522.3,698.8 527.7,698.1 523.5,694.6" fill="none" stroke="#e48b85" stroke-width="1.1"/>
<line x1="444.9" y1="677.0" x2="527.7" y2="734.5" stroke="#e48b85" stroke-width="1.25" stroke-dasharray="9 9" stroke-dashoffset="12"/>
<polygon points="448.6,677.5 444.9,677.0 446.7,680.3" fill="#e48b85"/>
<polyline points="522.3,733.5 527.7,734.5 524.8,729.8" fill="none" stroke="#e48b85" stroke-width="1.1"/>
<line x1="547.1" y1="536.7" x2="620.0" y2="536.7" stroke="#7db3a9" stroke-width="1.25" stroke-dasharray="9 9" stroke-dashoffset="12"/>
<polygon points="550.5,535.0 547.1,536.7 550.5,538.4" fill="#7db3a9"/>
<polyline points="615.0,538.9 620.0,536.7 615.0,534.5" fill="none" stroke="#7db3a9" stroke-width="1.1"/>
<line x1="546.3" y1="540.6" x2="620.0" y2="572.8" stroke="#7db3a9" stroke-width="1.25" stroke-dasharray="9 9" stroke-dashoffset="12"/>
<polygon points="550.1,540.4 546.3,540.6 548.7,543.5" fill="#7db3a9"/>
<polyline points="614.5,572.8 620.0,572.8 616.3,568.8" fill="none" stroke="#7db3a9" stroke-width="1.1"/>
<line x1="544.7" y1="543.1" x2="620.0" y2="608.9" stroke="#7db3a9" stroke-width="1.25" stroke-dasharray="9 9" stroke-dashoffset="12"/>
<polygon points="548.4,544.1 544.7,543.1 546.1,546.7" fill="#7db3a9"/>
<polyline points="614.8,607.3 620.0,608.9 617.7,604.0" fill="none" stroke="#7db3a9" stroke-width="1.1"/>
<line x1="546.3" y1="568.9" x2="620.0" y2="536.7" stroke="#7db3a9" stroke-width="1.25" stroke-dasharray="9 9" stroke-dashoffset="12"/>
<polygon points="548.7,566.0 546.3,568.9 550.1,569.1" fill="#7db3a9"/>
<polyline points="616.3,540.7 620.0,536.7 614.5,536.7" fill="none" stroke="#7db3a9" stroke-width="1.1"/>
<line x1="547.1" y1="572.8" x2="620.0" y2="572.8" stroke="#7db3a9" stroke-width="1.25" stroke-dasharray="9 9" stroke-dashoffset="12"/>
<polygon points="550.5,571.1 547.1,572.8 550.5,574.5" fill="#7db3a9"/>
<polyline points="615.0,575.0 620.0,572.8 615.0,570.6" fill="none" stroke="#7db3a9" stroke-width="1.1"/>
<line x1="546.3" y1="576.7" x2="620.0" y2="608.9" stroke="#7db3a9" stroke-width="1.25" stroke-dasharray="9 9" stroke-dashoffset="12"/>
<polygon points="550.1,576.5 546.3,576.7 548.7,579.6" fill="#7db3a9"/>
<polyline points="614.5,608.9 620.0,608.9 616.3,604.9" fill="none" stroke="#7db3a9" stroke-width="1.1"/>
<line x1="544.7" y1="602.5" x2="620.0" y2="536.7" stroke="#7db3a9" stroke-width="1.25" stroke-dasharray="9 9" stroke-dashoffset="12"/>
<polygon points="546.1,598.9 544.7,602.5 548.4,601.5" fill="#7db3a9"/>
<polyline points="617.7,541.6 620.0,536.7 614.8,538.3" fill="none" stroke="#7db3a9" stroke-width="1.1"/>
<line x1="546.3" y1="605.0" x2="620.0" y2="572.8" stroke="#7db3a9" stroke-width="1.25" stroke-dasharray="9 9" stroke-dashoffset="12"/>
<polygon points="548.7,602.1 546.3,605.0 550.1,605.2" fill="#7db3a9"/>
<polyline points="616.3,576.8 620.0,572.8 614.5,572.8" fill="none" stroke="#7db3a9" stroke-width="1.1"/>
<line x1="547.1" y1="608.9" x2="620.0" y2="608.9" stroke="#7db3a9" stroke-width="1.25" stroke-dasharray="9 9" stroke-dashoffset="12"/>
<polygon points="550.5,607.2 547.1,608.9 550.5,610.6" fill="#7db3a9"/>
<polyline points="615.0,611.1 620.0,608.9 615.0,606.7" fill="none" stroke="#7db3a9" stroke-width="1.1"/>
<line x1="639.4" y1="536.7" x2="712.3" y2="536.7" stroke="#7db3a9" stroke-width="1.25" stroke-dasharray="9 9" stroke-dashoffset="12"/>
<polygon points="642.8,535.0 639.4,536.7 642.8,538.4" fill="#7db3a9"/>
<polyline points="707.3,538.9 712.3,536.7 707.3,534.5" fill="none" stroke="#7db3a9" stroke-width="1.1"/>
<line x1="638.6" y1="540.6" x2="712.3" y2="572.8" stroke="#7db3a9" stroke-width="1.25" stroke-dasharray="9 9" stroke-dashoffset="12"/>
<polygon points="642.4,540.4 638.6,540.6 641.0,543.5" fill="#7db3a9"/>
<polyline points="706.8,572.8 712.3,572.8 708.6,568.8" fill="none" stroke="#7db3a9" stroke-width="1.1"/>
<line x1="637.0" y1="543.1" x2="712.3" y2="608.9" stroke="#7db3a9" stroke-width="1.25" stroke-dasharray="9 9" stroke-dashoffset="12"/>
<polygon points="640.7,544.1 637.0,543.1 638.4,546.7" fill="#7db3a9"/>
<polyline points="707.1,607.3 712.3,608.9 710.0,604.0" fill="none" stroke="#7db3a9" stroke-width="1.1"/>
<line x1="638.6" y1="568.9" x2="712.3" y2="536.7" stroke="#7db3a9" stroke-width="1.25" stroke-dasharray="9 9" stroke-dashoffset="12"/>
<polygon points="641.0,566.0 638.6,568.9 642.4,569.1" fill="#7db3a9"/>
<polyline points="708.6,540.7 712.3,536.7 706.8,536.7" fill="none" stroke="#7db3a9" stroke-width="1.1"/>
<line x1="639.4" y1="572.8" x2="712.3" y2="572.8" stroke="#7db3a9" stroke-width="1.25" stroke-dasharray="9 9" stroke-dashoffset="12"/>
<polygon points="642.8,571.1 639.4,572.8 642.8,574.5" fill="#7db3a9"/>
<polyline points="707.3,575.0 712.3,572.8 707.3,570.6" fill="none" stroke="#7db3a9" stroke-width="1.1"/>
<line x1="638.6" y1="576.7" x2="712.3" y2="608.9" stroke="#7db3a9" stroke-width="1.25" stroke-dasharray="9 9" stroke-dashoffset="12"/>
<polygon points="642.4,576.5 638.6,576.7 641.0,579.6" fill="#7db3a9"/>
<polyline points="706.8,608.9 712.3,608.9 708.6,604.9" fill="none" stroke="#7db3a9" stroke-width="1.1"/>
<line x1="637.0" y1="602.5" x2="712.3" y2="536.7" stroke="#7db3a9" stroke-width="1.25" stroke-dasharray="9 9" stroke-dashoffset="12"/>
<polygon points="638.4,598.9 637.0,602.5 640.7,601.5" fill="#7db3a9"/>
<polyline points="710.0,541.6 712.3,536.7 707.1,538.3" fill="none" stroke="#7db3a9" stroke-width="1.1"/>
<line x1="638.6" y1="605.0" x2="712.3" y2="572.8" stroke="#7db3a9" stroke-width="1.25" stroke-dasharray="9 9" stroke-dashoffset="12"/>
<polygon points="641.0,602.1 638.6,605.0 642.4,605.2" fill="#7db3a9"/>
<polyline points="708.6,576.8 712.3,572.8 706.8,572.8" fill="none" stroke="#7db3a9" stroke-width="1.1"/>
<line x1="639.4" y1="608.9" x2="712.3" y2="608.9" stroke="#7db3a9" stroke-width="1.25" stroke-dasharray="9 9" stroke-dashoffset="12"/>
<polygon points="642.8,607.2 639.4,608.9 642.8,610.6" fill="#7db3a9"/>
<polyline points="707.3,611.1 712.3,608.9 707.3,606.7" fill="none" stroke="#7db3a9" stroke-width="1.1"/>
<line x1="547.1" y1="661.7" x2="620.0" y2="661.7" stroke="#e48b85" stroke-width="1.25" stroke-dasharray="9 9" stroke-dashoffset="12"/>
<polygon points="550.5,660.0 547.1,661.7 550.5,663.4" fill="#e48b85"/>
<polyline points="615.0,663.9 620.0,661.7 615.0,659.5" fill="none" stroke="#e48b85" stroke-width="1.1"/>
<line x1="546.3" y1="665.6" x2="620.0" y2="698.1" stroke="#e48b85" stroke-width="1.25" stroke-dasharray="9 9" stroke-dashoffset="12"/>
<polygon points="550.1,665.5 546.3,665.6 548.7,668.6" fill="#e48b85"/>
<polyline points="614.5,698.1 620.0,698.1 616.3,694.1" fill="none" stroke="#e48b85" stroke-width="1.1"/>
<line x1="544.7" y1="668.2" x2="620.0" y2="734.5" stroke="#e48b85" stroke-width="1.25" stroke-dasharray="9 9" stroke-dashoffset="12"/>
<polygon points="548.3,669.1 544.7,668.2 546.1,671.7" fill="#e48b85"/>
<polyline points="614.8,732.8 620.0,734.5 617.7,729.5" fill="none" stroke="#e48b85" stroke-width="1.1"/>
<line x1="546.3" y1="694.2" x2="620.0" y2="661.7" stroke="#e48b85" stroke-width="1.25" stroke-dasharray="9 9" stroke-dashoffset="12"/>
<polygon points="548.7,691.2 546.3,694.2 550.1,694.3" fill="#e48b85"/>
<polyline points="616.3,665.7 620.0,661.7 614.5,661.7" fill="none" stroke="#e48b85" stroke-width="1.1"/>
<line x1="547.1" y1="698.1" x2="620.0" y2="698.1" stroke="#e48b85" stroke-width="1.25" stroke-dasharray="9 9" stroke-dashoffset="12"/>
<polygon points="550.5,696.4 547.1,698.1 550.5,699.8" fill="#e48b85"/>
<polyline points="615.0,700.3 620.0,698.1 615.0,695.9" fill="none" stroke="#e48b85" stroke-width="1.1"/>
<line x1="546.3" y1="702.0" x2="620.0" y2="734.5" stroke="#e48b85" stroke-width="1.25" stroke-dasharray="9 9" stroke-dashoffset="12"/>
<polygon points="550.1,701.9 546.3,702.0 548.7,705.0" fill="#e48b85"/>
<polyline points="614.5,734.5 620.0,734.5 616.3,730.5" fill="none" stroke="#e48b85" stroke-width="1.1"/>
<line x1="544.7" y1="728.0" x2="620.0" y2="661.7" stroke="#e48b85" stroke-width="1.25" stroke-dasharray="9 9" stroke-dashoffset="12"/>
<polygon points="546.1,724.5 544.7,728.0 548.3,727.1" fill="#e48b85"/>
<polyline points="617.7,666.7 620.0,661.7 614.8,663.4" fill="none" stroke="#e48b85" stroke-width="1.1"/>
<line x1="546.3" y1="730.6" x2="620.0" y2="698.1" stroke="#e48b85" stroke-width="1.25" stroke-dasharray="9 9" stroke-dashoffset="12"/>
<polygon points="548.7,727.6 546.3,730.6 550.1,730.7" fill="#e48b85"/>
<polyline points="616.3,702.1 620.0,698.1 614.5,698.1" fill="none" stroke="#e48b85" stroke-width="1.1"/>
<line x1="547.1" y1="734.5" x2="620.0" y2="734.5" stroke="#e48b85" stroke-width="1.25" stroke-dasharray="9 9" stroke-dashoffset="12"/>
<polygon points="550.5,732.8 547.1,734.5 550.5,736.2" fill="#e48b85"/>
<polyline points="615.0,736.7 620.0,734.5 615.0,732.3" fill="none" stroke="#e48b85" stroke-width="1.1"/>
<line x1="639.4" y1="661.7" x2="712.3" y2="661.7" stroke="#e48b85" stroke-width="1.25" stroke-dasharray="9 9" stroke-dashoffset="12"/>
<polygon points="642.8,660.0 639.4,661.7 642.8,663.4" fill="#e48b85"/>
<polyline points="707.3,663.9 712.3,661.7 707.3,659.5" fill="none" stroke="#e48b85" stroke-width="1.1"/>
<line x1="638.6" y1="665.6" x2="712.3" y2="698.1" stroke="#e48b85" stroke-width="1.25" stroke-dasharray="9 9" stroke-dashoffset="12"/>
<polygon points="642.4,665.5 638.6,665.6 641.0,668.6" fill="#e48b85"/>
<polyline points="706.8,698.1 712.3,698.1 708.6,694.1" fill="none" stroke="#e48b85" stroke-width="1.1"/>
<line x1="637.0" y1="668.2" x2="712.3" y2="734.5" stroke="#e48b85" stroke-width="1.25" stroke-dasharray="9 9" stroke-dashoffset="12"/>
<polygon points="640.6,669.1 637.0,668.2 638.4,671.7" fill="#e48b85"/>
<polyline points="707.1,732.8 712.3,734.5 710.0,729.5" fill="none" stroke="#e48b85" stroke-width="1.1"/>
<line x1="638.6" y1="694.2" x2="712.3" y2="661.7" stroke="#e48b85" stroke-width="1.25" stroke-dasharray="9 9" stroke-dashoffset="12"/>
<polygon points="641.0,691.2 638.6,694.2 642.4,694.3" fill="#e48b85"/>
<polyline points="708.6,665.7 712.3,661.7 706.8,661.7" fill="none" stroke="#e48b85" stroke-width="1.1"/>
<line x1="639.4" y1="698.1" x2="712.3" y2="698.1" stroke="#e48b85" stroke-width="1.25" stroke-dasharray="9 9" stroke-dashoffset="12"/>
<polygon points="642.8,696.4 639.4,698.1 642.8,699.8" fill="#e48b85"/>
<polyline points="707.3,700.3 712.3,698.1 707.3,695.9" fill="none" stroke="#e48b85" stroke-width="1.1"/>
<line x1="638.6" y1="702.0" x2="712.3" y2="734.5" stroke="#e48b85" stroke-width="1.25" stroke-dasharray="9 9" stroke-dashoffset="12"/>
<polygon points="642.4,701.9 638.6,702.0 641.0,705.0" fill="#e48b85"/>
<polyline points="706.8,734.5 712.3,734.5 708.6,730.5" fill="none" stroke="#e48b85" stroke-width="1.1"/>
<line x1="637.0" y1="728.0" x2="712.3" y2="661.7" stroke="#e48b85" stroke-width="1.25" stroke-dasharray="9 9" stroke-dashoffset="12"/>
<polygon points="638.4,724.5 637.0,728.0 640.6,727.1" fill="#e48b85"/>
<polyline points="710.0,666.7 712.3,661.7 707.1,663.4" fill="none" stroke="#e48b85" stroke-width="1.1"/>
<line x1="638.6" y1="730.6" x2="712.3" y2="698.1" stroke="#e48b85" stroke-width="1.25" stroke-dasharray="9 9" stroke-dashoffset="12"/>
<polygon points="641.0,727.6 638.6,730.6 642.4,730.7" fill="#e48b85"/>
<polyline points="708.6,702.1 712.3,698.1 706.8,698.1" fill="none" stroke="#e48b85" stroke-width="1.1"/>
<line x1="639.4" y1="734.5" x2="712.3" y2="734.5" stroke="#e48b85" stroke-width="1.25" stroke-dasharray="9 9" stroke-dashoffset="12"/>
<polygon points="642.8,732.8 639.4,734.5 642.8,736.2" fill="#e48b85"/>
<polyline points="707.3,736.7 712.3,734.5 707.3,732.3" fill="none" stroke="#e48b85" stroke-width="1.1"/>
<line x1="508" y1="634.5" x2="774.6" y2="634.5" stroke="#8f6fa6" stroke-width="2.2"/>
<circle cx="261.4" cy="581.0" r="8.6" fill="#aec4ea" stroke="#1f2833" stroke-width="1.6"/>
<circle cx="261.4" cy="635.0" r="8.6" fill="#aec4ea" stroke="#1f2833" stroke-width="1.6"/>
<circle cx="261.4" cy="689.5" r="8.6" fill="#aec4ea" stroke="#1f2833" stroke-width="1.6"/>
<circle cx="351.4" cy="563.0" r="8.6" fill="#aec4ea" stroke="#1f2833" stroke-width="1.6"/>
<circle cx="351.4" cy="599.1" r="8.6" fill="#aec4ea" stroke="#1f2833" stroke-width="1.6"/>
<circle cx="351.4" cy="635.2" r="8.6" fill="#aec4ea" stroke="#1f2833" stroke-width="1.6"/>
<circle cx="351.4" cy="671.3" r="8.6" fill="#aec4ea" stroke="#1f2833" stroke-width="1.6"/>
<circle cx="351.4" cy="707.4" r="8.6" fill="#aec4ea" stroke="#1f2833" stroke-width="1.6"/>
<circle cx="436.8" cy="599.2" r="8.6" fill="#aec4ea" stroke="#1f2833" stroke-width="1.6"/>
<circle cx="436.8" cy="635.4" r="8.6" fill="#aec4ea" stroke="#1f2833" stroke-width="1.6"/>
<circle cx="436.8" cy="671.4" r="8.6" fill="#aec4ea" stroke="#1f2833" stroke-width="1.6"/>
<circle cx="537.3" cy="536.7" r="8.6" fill="#a6cdc2" stroke="#1f2b29" stroke-width="1.6"/>
<circle cx="537.3" cy="572.8" r="8.6" fill="#a6cdc2" stroke="#1f2b29" stroke-width="1.6"/>
<circle cx="537.3" cy="608.9" r="8.6" fill="#a6cdc2" stroke="#1f2b29" stroke-width="1.6"/>
<circle cx="629.6" cy="536.7" r="8.6" fill="#a6cdc2" stroke="#1f2b29" stroke-width="1.6"/>
<circle cx="629.6" cy="572.8" r="8.6" fill="#a6cdc2" stroke="#1f2b29" stroke-width="1.6"/>
<circle cx="629.6" cy="608.9" r="8.6" fill="#a6cdc2" stroke="#1f2b29" stroke-width="1.6"/>
<circle cx="721.9" cy="536.7" r="8.6" fill="#a6cdc2" stroke="#1f2b29" stroke-width="1.6"/>
<circle cx="721.9" cy="572.8" r="8.6" fill="#a6cdc2" stroke="#1f2b29" stroke-width="1.6"/>
<circle cx="721.9" cy="608.9" r="8.6" fill="#a6cdc2" stroke="#1f2b29" stroke-width="1.6"/>
<circle cx="537.3" cy="661.7" r="8.6" fill="#efa19c" stroke="#3a2626" stroke-width="1.6"/>
<circle cx="537.3" cy="698.1" r="8.6" fill="#efa19c" stroke="#3a2626" stroke-width="1.6"/>
<circle cx="537.3" cy="734.5" r="8.6" fill="#efa19c" stroke="#3a2626" stroke-width="1.6"/>
<circle cx="629.6" cy="661.7" r="8.6" fill="#efa19c" stroke="#3a2626" stroke-width="1.6"/>
<circle cx="629.6" cy="698.1" r="8.6" fill="#efa19c" stroke="#3a2626" stroke-width="1.6"/>
<circle cx="629.6" cy="734.5" r="8.6" fill="#efa19c" stroke="#3a2626" stroke-width="1.6"/>
<circle cx="721.9" cy="661.7" r="8.6" fill="#efa19c" stroke="#3a2626" stroke-width="1.6"/>
<circle cx="721.9" cy="698.1" r="8.6" fill="#efa19c" stroke="#3a2626" stroke-width="1.6"/>
<circle cx="721.9" cy="734.5" r="8.6" fill="#efa19c" stroke="#3a2626" stroke-width="1.6"/>
<text x="184.8" y="834.3" font-size="14.5" fill="#111" font-weight="normal" textLength="92.0" lengthAdjust="spacing" stroke="#111" stroke-width="0.45" stroke-linejoin="round" >Global model</text>
<text x="198.2" y="851.4" font-size="14.5" fill="#111" font-weight="normal" textLength="65.3" lengthAdjust="spacing" stroke="#111" stroke-width="0.45" stroke-linejoin="round" >on Server</text>
<path d="M284.2,854.6 L284.2,806 Q284.2,797.1 293,797.1 L456,797.1" fill="none" stroke="#222" stroke-width="1.6" stroke-dasharray="10 8.8" stroke-dashoffset="3"/>
<polygon points="457.0,799.7 462.0,797.1 457.0,794.5" fill="#222"/>
<path d="M284.2,930.5 L284.2,979 Q284.2,987.8 293,987.8 L455,987.8" fill="none" stroke="#222" stroke-width="1.6" stroke-dasharray="10 8.8" stroke-dashoffset="0"/>
<polygon points="456.0,990.4 461.0,987.8 456.0,985.2" fill="#222"/>
<rect x="187.3" y="859.6" width="193.4" height="66.5" rx="6" fill="#f8ebe1" stroke="#e2bd6a" stroke-width="1.6"/>
<rect x="192" y="874.5" width="62.4" height="17.5" rx="6" fill="#3a3f47"/>
<rect x="192" y="894.9" width="62.4" height="17.2" rx="6" fill="#3a3f47"/>
<rect x="197.8" y="880.7" width="23" height="5" rx="2.5" fill="#fff"/>
<rect x="197.8" y="901.1" width="23" height="5" rx="2.5" fill="#fff"/>
<circle cx="234.2" cy="903.6" r="2.2" fill="#e0403a"/>
<circle cx="240.7" cy="903.6" r="1.8" fill="#6f9ad6"/>
<line x1="264.6" y1="875.0" x2="292.0" y2="869.2" stroke="#b9b9b9" stroke-width="0.7"/>
<line x1="264.6" y1="875.0" x2="292.0" y2="881.1" stroke="#b9b9b9" stroke-width="0.7"/>
<line x1="264.6" y1="875.0" x2="292.0" y2="893.0" stroke="#b9b9b9" stroke-width="0.7"/>
<line x1="264.6" y1="875.0" x2="292.0" y2="904.9" stroke="#b9b9b9" stroke-width="0.7"/>
<line x1="264.6" y1="875.0" x2="292.0" y2="916.8" stroke="#b9b9b9" stroke-width="0.7"/>
<line x1="264.6" y1="892.8" x2="292.0" y2="869.2" stroke="#b9b9b9" stroke-width="0.7"/>
<line x1="264.6" y1="892.8" x2="292.0" y2="881.1" stroke="#b9b9b9" stroke-width="0.7"/>
<line x1="264.6" y1="892.8" x2="292.0" y2="893.0" stroke="#b9b9b9" stroke-width="0.7"/>
<line x1="264.6" y1="892.8" x2="292.0" y2="904.9" stroke="#b9b9b9" stroke-width="0.7"/>
<line x1="264.6" y1="892.8" x2="292.0" y2="916.8" stroke="#b9b9b9" stroke-width="0.7"/>
<line x1="264.6" y1="911.2" x2="292.0" y2="869.2" stroke="#b9b9b9" stroke-width="0.7"/>
<line x1="264.6" y1="911.2" x2="292.0" y2="881.1" stroke="#b9b9b9" stroke-width="0.7"/>
<line x1="264.6" y1="911.2" x2="292.0" y2="893.0" stroke="#b9b9b9" stroke-width="0.7"/>
<line x1="264.6" y1="911.2" x2="292.0" y2="904.9" stroke="#b9b9b9" stroke-width="0.7"/>
<line x1="264.6" y1="911.2" x2="292.0" y2="916.8" stroke="#b9b9b9" stroke-width="0.7"/>
<line x1="292.0" y1="869.2" x2="322.7" y2="869.2" stroke="#b9b9b9" stroke-width="0.7"/>
<line x1="292.0" y1="869.2" x2="322.7" y2="881.1" stroke="#b9b9b9" stroke-width="0.7"/>
<line x1="292.0" y1="869.2" x2="322.7" y2="893.0" stroke="#b9b9b9" stroke-width="0.7"/>
<line x1="292.0" y1="869.2" x2="322.7" y2="904.9" stroke="#b9b9b9" stroke-width="0.7"/>
<line x1="292.0" y1="869.2" x2="322.7" y2="916.8" stroke="#b9b9b9" stroke-width="0.7"/>
<line x1="292.0" y1="881.1" x2="322.7" y2="869.2" stroke="#b9b9b9" stroke-width="0.7"/>
<line x1="292.0" y1="881.1" x2="322.7" y2="881.1" stroke="#b9b9b9" stroke-width="0.7"/>
<line x1="292.0" y1="881.1" x2="322.7" y2="893.0" stroke="#b9b9b9" stroke-width="0.7"/>
<line x1="292.0" y1="881.1" x2="322.7" y2="904.9" stroke="#b9b9b9" stroke-width="0.7"/>
<line x1="292.0" y1="881.1" x2="322.7" y2="916.8" stroke="#b9b9b9" stroke-width="0.7"/>
<line x1="292.0" y1="893.0" x2="322.7" y2="869.2" stroke="#b9b9b9" stroke-width="0.7"/>
<line x1="292.0" y1="893.0" x2="322.7" y2="881.1" stroke="#b9b9b9" stroke-width="0.7"/>
<line x1="292.0" y1="893.0" x2="322.7" y2="893.0" stroke="#b9b9b9" stroke-width="0.7"/>
<line x1="292.0" y1="893.0" x2="322.7" y2="904.9" stroke="#b9b9b9" stroke-width="0.7"/>
<line x1="292.0" y1="893.0" x2="322.7" y2="916.8" stroke="#b9b9b9" stroke-width="0.7"/>
<line x1="292.0" y1="904.9" x2="322.7" y2="869.2" stroke="#b9b9b9" stroke-width="0.7"/>
<line x1="292.0" y1="904.9" x2="322.7" y2="881.1" stroke="#b9b9b9" stroke-width="0.7"/>
<line x1="292.0" y1="904.9" x2="322.7" y2="893.0" stroke="#b9b9b9" stroke-width="0.7"/>
<line x1="292.0" y1="904.9" x2="322.7" y2="904.9" stroke="#b9b9b9" stroke-width="0.7"/>
<line x1="292.0" y1="904.9" x2="322.7" y2="916.8" stroke="#b9b9b9" stroke-width="0.7"/>
<line x1="292.0" y1="916.8" x2="322.7" y2="869.2" stroke="#b9b9b9" stroke-width="0.7"/>
<line x1="292.0" y1="916.8" x2="322.7" y2="881.1" stroke="#b9b9b9" stroke-width="0.7"/>
<line x1="292.0" y1="916.8" x2="322.7" y2="893.0" stroke="#b9b9b9" stroke-width="0.7"/>
<line x1="292.0" y1="916.8" x2="322.7" y2="904.9" stroke="#b9b9b9" stroke-width="0.7"/>
<line x1="292.0" y1="916.8" x2="322.7" y2="916.8" stroke="#b9b9b9" stroke-width="0.7"/>
<line x1="322.7" y1="869.2" x2="351.2" y2="875.0" stroke="#b9b9b9" stroke-width="0.7"/>
<line x1="322.7" y1="869.2" x2="351.2" y2="892.8" stroke="#b9b9b9" stroke-width="0.7"/>
<line x1="322.7" y1="869.2" x2="351.2" y2="911.2" stroke="#b9b9b9" stroke-width="0.7"/>
<line x1="322.7" y1="881.1" x2="351.2" y2="875.0" stroke="#b9b9b9" stroke-width="0.7"/>
<line x1="322.7" y1="881.1" x2="351.2" y2="892.8" stroke="#b9b9b9" stroke-width="0.7"/>
<line x1="322.7" y1="881.1" x2="351.2" y2="911.2" stroke="#b9b9b9" stroke-width="0.7"/>
<line x1="322.7" y1="893.0" x2="351.2" y2="875.0" stroke="#b9b9b9" stroke-width="0.7"/>
<line x1="322.7" y1="893.0" x2="351.2" y2="892.8" stroke="#b9b9b9" stroke-width="0.7"/>
<line x1="322.7" y1="893.0" x2="351.2" y2="911.2" stroke="#b9b9b9" stroke-width="0.7"/>
<line x1="322.7" y1="904.9" x2="351.2" y2="875.0" stroke="#b9b9b9" stroke-width="0.7"/>
<line x1="322.7" y1="904.9" x2="351.2" y2="892.8" stroke="#b9b9b9" stroke-width="0.7"/>
<line x1="322.7" y1="904.9" x2="351.2" y2="911.2" stroke="#b9b9b9" stroke-width="0.7"/>
<line x1="322.7" y1="916.8" x2="351.2" y2="875.0" stroke="#b9b9b9" stroke-width="0.7"/>
<line x1="322.7" y1="916.8" x2="351.2" y2="892.8" stroke="#b9b9b9" stroke-width="0.7"/>
<line x1="322.7" y1="916.8" x2="351.2" y2="911.2" stroke="#b9b9b9" stroke-width="0.7"/>
<line x1="351.2" y1="875.0" x2="370.5" y2="892.8" stroke="#b9b9b9" stroke-width="0.7"/>
<line x1="351.2" y1="892.8" x2="370.5" y2="892.8" stroke="#b9b9b9" stroke-width="0.7"/>
<line x1="351.2" y1="911.2" x2="370.5" y2="892.8" stroke="#b9b9b9" stroke-width="0.7"/>
<circle cx="264.6" cy="875.0" r="3.0" fill="#aec4ea" stroke="#4d5a6b" stroke-width="1.1"/>
<circle cx="264.6" cy="892.8" r="3.0" fill="#aec4ea" stroke="#4d5a6b" stroke-width="1.1"/>
<circle cx="264.6" cy="911.2" r="3.0" fill="#aec4ea" stroke="#4d5a6b" stroke-width="1.1"/>
<circle cx="292.0" cy="869.2" r="3.0" fill="#aec4ea" stroke="#4d5a6b" stroke-width="1.1"/>
<circle cx="292.0" cy="881.1" r="3.0" fill="#aec4ea" stroke="#4d5a6b" stroke-width="1.1"/>
<circle cx="292.0" cy="893.0" r="3.0" fill="#aec4ea" stroke="#4d5a6b" stroke-width="1.1"/>
<circle cx="292.0" cy="904.9" r="3.0" fill="#aec4ea" stroke="#4d5a6b" stroke-width="1.1"/>
<circle cx="292.0" cy="916.8" r="3.0" fill="#aec4ea" stroke="#4d5a6b" stroke-width="1.1"/>
<circle cx="322.7" cy="869.2" r="3.0" fill="#aec4ea" stroke="#4d5a6b" stroke-width="1.1"/>
<circle cx="322.7" cy="881.1" r="3.0" fill="#aec4ea" stroke="#4d5a6b" stroke-width="1.1"/>
<circle cx="322.7" cy="893.0" r="3.0" fill="#aec4ea" stroke="#4d5a6b" stroke-width="1.1"/>
<circle cx="322.7" cy="904.9" r="3.0" fill="#aec4ea" stroke="#4d5a6b" stroke-width="1.1"/>
<circle cx="322.7" cy="916.8" r="3.0" fill="#aec4ea" stroke="#4d5a6b" stroke-width="1.1"/>
<circle cx="351.2" cy="875.0" r="3.0" fill="#aec4ea" stroke="#4d5a6b" stroke-width="1.1"/>
<circle cx="351.2" cy="892.8" r="3.0" fill="#aec4ea" stroke="#4d5a6b" stroke-width="1.1"/>
<circle cx="351.2" cy="911.2" r="3.0" fill="#aec4ea" stroke="#4d5a6b" stroke-width="1.1"/>
<circle cx="370.5" cy="892.8" r="3.0" fill="#aec4ea" stroke="#4d5a6b" stroke-width="1.1"/>
<text x="398.0" y="813.6" font-size="10" fill="#1a1a1a" font-weight="normal" textLength="54.2" lengthAdjust="spacingAndGlyphs" stroke="#1a1a1a" stroke-width="0.3" stroke-linejoin="round" >Edge device</text>
<text x="385.0" y="826.3" font-size="10" fill="#1a1a1a" font-weight="normal" textLength="80.3" lengthAdjust="spacing" stroke="#1a1a1a" stroke-width="0.3" stroke-linejoin="round" >with private data</text>
<text x="397.4" y="968.0" font-size="10" fill="#1a1a1a" font-weight="normal" textLength="53.8" lengthAdjust="spacingAndGlyphs" stroke="#1a1a1a" stroke-width="0.3" stroke-linejoin="round" >Edge device</text>
<text x="383.5" y="981.7" font-size="10" fill="#1a1a1a" font-weight="normal" textLength="80.9" lengthAdjust="spacing" stroke="#1a1a1a" stroke-width="0.3" stroke-linejoin="round" >with private data</text>
<text x="414.3" y="886.7" font-size="10" fill="#1a1a1a" font-weight="normal" textLength="32.7" lengthAdjust="spacing" stroke="#1a1a1a" stroke-width="0.3" stroke-linejoin="round" >Update</text>
<text x="405.0" y="904.2" font-size="10" fill="#1a1a1a" font-weight="normal" textLength="52.5" lengthAdjust="spacing" stroke="#1a1a1a" stroke-width="0.3" stroke-linejoin="round" >global copy</text>
<path d="M462,892.8 L410,892.8" fill="none" stroke="#222" stroke-width="1.6" stroke-dasharray="10 8" stroke-dashoffset="0"/>
<polygon points="408.0,890.2 403.0,892.8 408.0,895.4" fill="#222"/>
<rect x="469.6" y="774" width="134.5" height="56.6" rx="6" fill="#e7efef" stroke="#64a0a7" stroke-width="1.6"/>
<g stroke="#2a2a2a" stroke-width="1.3" stroke-linejoin="round"><path d="M479.6,805 Q492.1,800 504.6,805 L505.6,814 L478.6,814 Z" fill="#f0b43a"/><rect x="490.1" y="799.5" width="6.5" height="4.5" fill="#f7d27a"/><path d="M485.40000000000003,788 L501.40000000000003,788 L501.40000000000003,793.5 C501.40000000000003,798 497.6,800.2 493.40000000000003,800.2 C489.20000000000005,800.2 485.40000000000003,798 485.40000000000003,793.5 Z" fill="#f5bd33"/><path d="M483.8,789.2 C482.20000000000005,783 484.6,777.8 492.6,777.6 C499.6,777.4 504.6,781 503.8,790 Q493.6,788.5 483.8,789.2 Z" fill="#3ba356"/></g><path d="M489.6,793.5 l1.5,0.6 M497.1,793.5 l-1.5,0.6 M491.1,796.8 Q493.40000000000003,798.4 495.6,796.8" stroke="#6b4a1a" stroke-width="0.8" fill="none"/><rect x="479.1" y="804.3" width="26.6" height="17" rx="1.2" fill="#d1372d" stroke="#2a2a2a" stroke-width="1.4"/><rect x="478.1" y="821" width="28.5" height="3.4" rx="1" fill="#3a2f2f"/><circle cx="492.40000000000003" cy="812.9" r="2" fill="#2a1a1a"/>
<path d="M518.6,812 Q519.6,818 524.6,818" fill="none" stroke="#cfcfcf" stroke-width="2"/>
<polygon points="512.6,789.0 536.6,785.5 556.6,813.0 530.6,819.0" fill="#f7f7f7" stroke="#c4c4c4" stroke-width="1.6" stroke-linejoin="round"/>
<polygon points="517.1,790.5 535.6,787.8 552.1,811.5 531.6,816.0" fill="#f0bd3f"/>
<polygon points="527.1,790.5 533.6,789.5 537.1,795.5 530.6,796.5" fill="#e2555a" stroke="#444" stroke-width="0.5"/>
<polygon points="537.6,794.0 543.6,793.0 547.1,799.0 541.1,800.5" fill="#6cc59a" stroke="#444" stroke-width="0.5"/>
<polygon points="526.6,800.0 533.1,799.0 536.6,805.0 530.1,806.5" fill="#3e9be0" stroke="#444" stroke-width="0.5"/>
<g stroke="#2a2a2a" stroke-width="1.5" fill="#f4f3f1">
<path d="M562.6,808.0 L562.6,819.1 A16.7,5.5 0 0 0 596.0,819.1 L596.0,808.0 Z"/>
<path d="M562.6,797.0 L562.6,808.0 A16.7,5.5 0 0 0 596.0,808.0 L596.0,797.0 Z"/>
<path d="M562.6,785.9 L562.6,797.0 A16.7,5.5 0 0 0 596.0,797.0 L596.0,785.9 Z"/>
<ellipse cx="579.3000000000001" cy="785.9" rx="16.7" ry="5.5" fill="#fbf8f4"/>
<ellipse cx="579.3000000000001" cy="785.9" rx="12.9" ry="2.9" fill="#e9b04a" stroke="none"/>
<circle cx="566.2" cy="794.8" r="0.95" fill="#2a2a2a" stroke="none"/>
<circle cx="569.6" cy="794.8" r="0.95" fill="#2a2a2a" stroke="none"/>
<circle cx="566.2" cy="805.8" r="0.95" fill="#2a2a2a" stroke="none"/>
<circle cx="569.6" cy="805.8" r="0.95" fill="#2a2a2a" stroke="none"/>
<circle cx="573.0" cy="805.8" r="0.95" fill="#2a2a2a" stroke="none"/>
<circle cx="569.6" cy="816.9" r="0.95" fill="#2a2a2a" stroke="none"/>
<circle cx="573.0" cy="816.9" r="0.95" fill="#2a2a2a" stroke="none"/>
</g>
<rect x="470.2" y="956.5" width="134.5" height="56.6" rx="6" fill="#e7efef" stroke="#64a0a7" stroke-width="1.6"/>
<g stroke="#2a2a2a" stroke-width="1.3" stroke-linejoin="round"><path d="M480.2,987.5 Q492.7,982.5 505.2,987.5 L506.2,996.5 L479.2,996.5 Z" fill="#f0b43a"/><rect x="490.7" y="982.0" width="6.5" height="4.5" fill="#f7d27a"/><path d="M486.0,970.5 L502.0,970.5 L502.0,976.0 C502.0,980.5 498.2,982.7 494.0,982.7 C489.8,982.7 486.0,980.5 486.0,976.0 Z" fill="#f5bd33"/><path d="M484.4,971.7 C482.8,965.5 485.2,960.3 493.2,960.1 C500.2,959.9 505.2,963.5 504.4,972.5 Q494.2,971.0 484.4,971.7 Z" fill="#3ba356"/></g><path d="M490.2,976.0 l1.5,0.6 M497.7,976.0 l-1.5,0.6 M491.7,979.3 Q494.0,980.9 496.2,979.3" stroke="#6b4a1a" stroke-width="0.8" fill="none"/><rect x="479.7" y="986.8" width="26.6" height="17" rx="1.2" fill="#d1372d" stroke="#2a2a2a" stroke-width="1.4"/><rect x="478.7" y="1003.5" width="28.5" height="3.4" rx="1" fill="#3a2f2f"/><circle cx="493.0" cy="995.4" r="2" fill="#2a1a1a"/>
<path d="M519.2,994.5 Q520.2,1000.5 525.2,1000.5" fill="none" stroke="#cfcfcf" stroke-width="2"/>
<polygon points="513.2,971.5 537.2,968.0 557.2,995.5 531.2,1001.5" fill="#f7f7f7" stroke="#c4c4c4" stroke-width="1.6" stroke-linejoin="round"/>
<polygon points="517.7,973.0 536.2,970.3 552.7,994.0 532.2,998.5" fill="#f0bd3f"/>
<polygon points="527.7,973.0 534.2,972.0 537.7,978.0 531.2,979.0" fill="#e2555a" stroke="#444" stroke-width="0.5"/>
<polygon points="538.2,976.5 544.2,975.5 547.7,981.5 541.7,983.0" fill="#6cc59a" stroke="#444" stroke-width="0.5"/>
<polygon points="527.2,982.5 533.7,981.5 537.2,987.5 530.7,989.0" fill="#3e9be0" stroke="#444" stroke-width="0.5"/>
<g stroke="#2a2a2a" stroke-width="1.5" fill="#f4f3f1">
<path d="M563.2,990.5 L563.2,1001.6 A16.7,5.5 0 0 0 596.6,1001.6 L596.6,990.5 Z"/>
<path d="M563.2,979.5 L563.2,990.5 A16.7,5.5 0 0 0 596.6,990.5 L596.6,979.5 Z"/>
<path d="M563.2,968.4 L563.2,979.5 A16.7,5.5 0 0 0 596.6,979.5 L596.6,968.4 Z"/>
<ellipse cx="579.9000000000001" cy="968.4" rx="16.7" ry="5.5" fill="#fbf8f4"/>
<ellipse cx="579.9000000000001" cy="968.4" rx="12.9" ry="2.9" fill="#e9b04a" stroke="none"/>
<circle cx="566.8" cy="977.3" r="0.95" fill="#2a2a2a" stroke="none"/>
<circle cx="570.2" cy="977.3" r="0.95" fill="#2a2a2a" stroke="none"/>
<circle cx="566.8" cy="988.3" r="0.95" fill="#2a2a2a" stroke="none"/>
<circle cx="570.2" cy="988.3" r="0.95" fill="#2a2a2a" stroke="none"/>
<circle cx="573.6" cy="988.3" r="0.95" fill="#2a2a2a" stroke="none"/>
<circle cx="570.2" cy="999.4" r="0.95" fill="#2a2a2a" stroke="none"/>
<circle cx="573.6" cy="999.4" r="0.95" fill="#2a2a2a" stroke="none"/>
</g>
<text x="613.8" y="795.5" font-size="10" fill="#1a1a1a" font-weight="normal" textLength="54.6" lengthAdjust="spacing" stroke="#1a1a1a" stroke-width="0.3" stroke-linejoin="round" >Train model</text>
<text x="614.3" y="977.4" font-size="10" fill="#1a1a1a" font-weight="normal" textLength="54.1" lengthAdjust="spacing" stroke="#1a1a1a" stroke-width="0.3" stroke-linejoin="round" >Train model</text>
<path d="M617,803 L660,803" fill="none" stroke="#222" stroke-width="1.6" stroke-dasharray="3 10 10 9" stroke-dashoffset="0"/>
<polygon points="660.0,805.8 665.0,803.0 660.0,800.2" fill="#222"/>
<path d="M617,984.7 L660,984.7" fill="none" stroke="#222" stroke-width="1.6" stroke-dasharray="3 10 10 9" stroke-dashoffset="0"/>
<polygon points="660.0,987.5 665.0,984.7 660.0,981.9" fill="#222"/>
<rect x="676.6" y="774.3" width="108.19999999999993" height="56.200000000000045" rx="6" fill="#f8ebe1" stroke="#e2bd6a" stroke-width="1.6"/>
<line x1="682.3" y1="785.8" x2="706.7" y2="780.5" stroke="#d6cfcc" stroke-width="0.7"/>
<line x1="682.3" y1="785.8" x2="706.7" y2="791.4" stroke="#d6cfcc" stroke-width="0.7"/>
<line x1="682.3" y1="785.8" x2="706.7" y2="802.2" stroke="#d6cfcc" stroke-width="0.7"/>
<line x1="682.3" y1="785.8" x2="706.7" y2="813.0" stroke="#d6cfcc" stroke-width="0.7"/>
<line x1="682.3" y1="785.8" x2="706.7" y2="823.9" stroke="#d6cfcc" stroke-width="0.7"/>
<line x1="682.3" y1="802.0" x2="706.7" y2="780.5" stroke="#d6cfcc" stroke-width="0.7"/>
<line x1="682.3" y1="802.0" x2="706.7" y2="791.4" stroke="#d6cfcc" stroke-width="0.7"/>
<line x1="682.3" y1="802.0" x2="706.7" y2="802.2" stroke="#d6cfcc" stroke-width="0.7"/>
<line x1="682.3" y1="802.0" x2="706.7" y2="813.0" stroke="#d6cfcc" stroke-width="0.7"/>
<line x1="682.3" y1="802.0" x2="706.7" y2="823.9" stroke="#d6cfcc" stroke-width="0.7"/>
<line x1="682.3" y1="817.9" x2="706.7" y2="780.5" stroke="#d6cfcc" stroke-width="0.7"/>
<line x1="682.3" y1="817.9" x2="706.7" y2="791.4" stroke="#d6cfcc" stroke-width="0.7"/>
<line x1="682.3" y1="817.9" x2="706.7" y2="802.2" stroke="#d6cfcc" stroke-width="0.7"/>
<line x1="682.3" y1="817.9" x2="706.7" y2="813.0" stroke="#d6cfcc" stroke-width="0.7"/>
<line x1="682.3" y1="817.9" x2="706.7" y2="823.9" stroke="#d6cfcc" stroke-width="0.7"/>
<line x1="706.7" y1="780.5" x2="734.5" y2="780.5" stroke="#d6cfcc" stroke-width="0.7"/>
<line x1="706.7" y1="780.5" x2="734.5" y2="791.4" stroke="#d6cfcc" stroke-width="0.7"/>
<line x1="706.7" y1="780.5" x2="734.5" y2="802.2" stroke="#d6cfcc" stroke-width="0.7"/>
<line x1="706.7" y1="780.5" x2="734.5" y2="813.0" stroke="#d6cfcc" stroke-width="0.7"/>
<line x1="706.7" y1="780.5" x2="734.5" y2="823.9" stroke="#d6cfcc" stroke-width="0.7"/>
<line x1="706.7" y1="791.4" x2="734.5" y2="780.5" stroke="#d6cfcc" stroke-width="0.7"/>
<line x1="706.7" y1="791.4" x2="734.5" y2="791.4" stroke="#d6cfcc" stroke-width="0.7"/>
<line x1="706.7" y1="791.4" x2="734.5" y2="802.2" stroke="#d6cfcc" stroke-width="0.7"/>
<line x1="706.7" y1="791.4" x2="734.5" y2="813.0" stroke="#d6cfcc" stroke-width="0.7"/>
<line x1="706.7" y1="791.4" x2="734.5" y2="823.9" stroke="#d6cfcc" stroke-width="0.7"/>
<line x1="706.7" y1="802.2" x2="734.5" y2="780.5" stroke="#d6cfcc" stroke-width="0.7"/>
<line x1="706.7" y1="802.2" x2="734.5" y2="791.4" stroke="#d6cfcc" stroke-width="0.7"/>
<line x1="706.7" y1="802.2" x2="734.5" y2="802.2" stroke="#d6cfcc" stroke-width="0.7"/>
<line x1="706.7" y1="802.2" x2="734.5" y2="813.0" stroke="#d6cfcc" stroke-width="0.7"/>
<line x1="706.7" y1="802.2" x2="734.5" y2="823.9" stroke="#d6cfcc" stroke-width="0.7"/>
<line x1="706.7" y1="813.0" x2="734.5" y2="780.5" stroke="#d6cfcc" stroke-width="0.7"/>
<line x1="706.7" y1="813.0" x2="734.5" y2="791.4" stroke="#d6cfcc" stroke-width="0.7"/>
<line x1="706.7" y1="813.0" x2="734.5" y2="802.2" stroke="#d6cfcc" stroke-width="0.7"/>
<line x1="706.7" y1="813.0" x2="734.5" y2="813.0" stroke="#d6cfcc" stroke-width="0.7"/>
<line x1="706.7" y1="813.0" x2="734.5" y2="823.9" stroke="#d6cfcc" stroke-width="0.7"/>
<line x1="706.7" y1="823.9" x2="734.5" y2="780.5" stroke="#d6cfcc" stroke-width="0.7"/>
<line x1="706.7" y1="823.9" x2="734.5" y2="791.4" stroke="#d6cfcc" stroke-width="0.7"/>
<line x1="706.7" y1="823.9" x2="734.5" y2="802.2" stroke="#d6cfcc" stroke-width="0.7"/>
<line x1="706.7" y1="823.9" x2="734.5" y2="813.0" stroke="#d6cfcc" stroke-width="0.7"/>
<line x1="706.7" y1="823.9" x2="734.5" y2="823.9" stroke="#d6cfcc" stroke-width="0.7"/>
<line x1="734.5" y1="780.5" x2="761.0" y2="785.8" stroke="#d6cfcc" stroke-width="0.7"/>
<line x1="734.5" y1="780.5" x2="761.0" y2="802.0" stroke="#d6cfcc" stroke-width="0.7"/>
<line x1="734.5" y1="780.5" x2="761.0" y2="817.9" stroke="#d6cfcc" stroke-width="0.7"/>
<line x1="734.5" y1="791.4" x2="761.0" y2="785.8" stroke="#d6cfcc" stroke-width="0.7"/>
<line x1="734.5" y1="791.4" x2="761.0" y2="802.0" stroke="#d6cfcc" stroke-width="0.7"/>
<line x1="734.5" y1="791.4" x2="761.0" y2="817.9" stroke="#d6cfcc" stroke-width="0.7"/>
<line x1="734.5" y1="802.2" x2="761.0" y2="785.8" stroke="#d6cfcc" stroke-width="0.7"/>
<line x1="734.5" y1="802.2" x2="761.0" y2="802.0" stroke="#d6cfcc" stroke-width="0.7"/>
<line x1="734.5" y1="802.2" x2="761.0" y2="817.9" stroke="#d6cfcc" stroke-width="0.7"/>
<line x1="734.5" y1="813.0" x2="761.0" y2="785.8" stroke="#d6cfcc" stroke-width="0.7"/>
<line x1="734.5" y1="813.0" x2="761.0" y2="802.0" stroke="#d6cfcc" stroke-width="0.7"/>
<line x1="734.5" y1="813.0" x2="761.0" y2="817.9" stroke="#d6cfcc" stroke-width="0.7"/>
<line x1="734.5" y1="823.9" x2="761.0" y2="785.8" stroke="#d6cfcc" stroke-width="0.7"/>
<line x1="734.5" y1="823.9" x2="761.0" y2="802.0" stroke="#d6cfcc" stroke-width="0.7"/>
<line x1="734.5" y1="823.9" x2="761.0" y2="817.9" stroke="#d6cfcc" stroke-width="0.7"/>
<line x1="761.0" y1="785.8" x2="778.2" y2="802.0" stroke="#d6cfcc" stroke-width="0.7"/>
<line x1="761.0" y1="802.0" x2="778.2" y2="802.0" stroke="#d6cfcc" stroke-width="0.7"/>
<line x1="761.0" y1="817.9" x2="778.2" y2="802.0" stroke="#d6cfcc" stroke-width="0.7"/>
<circle cx="682.3" cy="785.8" r="2.6" fill="#e8a2a6" stroke="#8a4b57" stroke-width="1.1"/>
<circle cx="682.3" cy="802.0" r="2.6" fill="#e8a2a6" stroke="#8a4b57" stroke-width="1.1"/>
<circle cx="682.3" cy="817.9" r="2.6" fill="#e8a2a6" stroke="#8a4b57" stroke-width="1.1"/>
<circle cx="706.7" cy="780.5" r="2.6" fill="#e8a2a6" stroke="#8a4b57" stroke-width="1.1"/>
<circle cx="706.7" cy="791.4" r="2.6" fill="#e8a2a6" stroke="#8a4b57" stroke-width="1.1"/>
<circle cx="706.7" cy="802.2" r="2.6" fill="#e8a2a6" stroke="#8a4b57" stroke-width="1.1"/>
<circle cx="706.7" cy="813.0" r="2.6" fill="#e8a2a6" stroke="#8a4b57" stroke-width="1.1"/>
<circle cx="706.7" cy="823.9" r="2.6" fill="#e8a2a6" stroke="#8a4b57" stroke-width="1.1"/>
<circle cx="734.5" cy="780.5" r="2.6" fill="#e8a2a6" stroke="#8a4b57" stroke-width="1.1"/>
<circle cx="734.5" cy="791.4" r="2.6" fill="#e8a2a6" stroke="#8a4b57" stroke-width="1.1"/>
<circle cx="734.5" cy="802.2" r="2.6" fill="#e8a2a6" stroke="#8a4b57" stroke-width="1.1"/>
<circle cx="734.5" cy="813.0" r="2.6" fill="#e8a2a6" stroke="#8a4b57" stroke-width="1.1"/>
<circle cx="734.5" cy="823.9" r="2.6" fill="#e8a2a6" stroke="#8a4b57" stroke-width="1.1"/>
<circle cx="761.0" cy="785.8" r="2.6" fill="#e8a2a6" stroke="#8a4b57" stroke-width="1.1"/>
<circle cx="761.0" cy="802.0" r="2.6" fill="#e8a2a6" stroke="#8a4b57" stroke-width="1.1"/>
<circle cx="761.0" cy="817.9" r="2.6" fill="#e8a2a6" stroke="#8a4b57" stroke-width="1.1"/>
<circle cx="778.2" cy="802.0" r="2.6" fill="#e8a2a6" stroke="#8a4b57" stroke-width="1.1"/>
<rect x="677.2" y="956.1" width="107.69999999999993" height="57.19999999999993" rx="6" fill="#f8ebe1" stroke="#e2bd6a" stroke-width="1.6"/>
<line x1="681.7" y1="968.2" x2="707.0" y2="962.7" stroke="#d6cfcc" stroke-width="0.7"/>
<line x1="681.7" y1="968.2" x2="707.0" y2="973.4" stroke="#d6cfcc" stroke-width="0.7"/>
<line x1="681.7" y1="968.2" x2="707.0" y2="984.2" stroke="#d6cfcc" stroke-width="0.7"/>
<line x1="681.7" y1="968.2" x2="707.0" y2="994.9" stroke="#d6cfcc" stroke-width="0.7"/>
<line x1="681.7" y1="968.2" x2="707.0" y2="1005.6" stroke="#d6cfcc" stroke-width="0.7"/>
<line x1="681.7" y1="984.1" x2="707.0" y2="962.7" stroke="#d6cfcc" stroke-width="0.7"/>
<line x1="681.7" y1="984.1" x2="707.0" y2="973.4" stroke="#d6cfcc" stroke-width="0.7"/>
<line x1="681.7" y1="984.1" x2="707.0" y2="984.2" stroke="#d6cfcc" stroke-width="0.7"/>
<line x1="681.7" y1="984.1" x2="707.0" y2="994.9" stroke="#d6cfcc" stroke-width="0.7"/>
<line x1="681.7" y1="984.1" x2="707.0" y2="1005.6" stroke="#d6cfcc" stroke-width="0.7"/>
<line x1="681.7" y1="1000.5" x2="707.0" y2="962.7" stroke="#d6cfcc" stroke-width="0.7"/>
<line x1="681.7" y1="1000.5" x2="707.0" y2="973.4" stroke="#d6cfcc" stroke-width="0.7"/>
<line x1="681.7" y1="1000.5" x2="707.0" y2="984.2" stroke="#d6cfcc" stroke-width="0.7"/>
<line x1="681.7" y1="1000.5" x2="707.0" y2="994.9" stroke="#d6cfcc" stroke-width="0.7"/>
<line x1="681.7" y1="1000.5" x2="707.0" y2="1005.6" stroke="#d6cfcc" stroke-width="0.7"/>
<line x1="707.0" y1="962.7" x2="734.4" y2="962.7" stroke="#d6cfcc" stroke-width="0.7"/>
<line x1="707.0" y1="962.7" x2="734.4" y2="973.4" stroke="#d6cfcc" stroke-width="0.7"/>
<line x1="707.0" y1="962.7" x2="734.4" y2="984.2" stroke="#d6cfcc" stroke-width="0.7"/>
<line x1="707.0" y1="962.7" x2="734.4" y2="994.9" stroke="#d6cfcc" stroke-width="0.7"/>
<line x1="707.0" y1="962.7" x2="734.4" y2="1005.6" stroke="#d6cfcc" stroke-width="0.7"/>
<line x1="707.0" y1="973.4" x2="734.4" y2="962.7" stroke="#d6cfcc" stroke-width="0.7"/>
<line x1="707.0" y1="973.4" x2="734.4" y2="973.4" stroke="#d6cfcc" stroke-width="0.7"/>
<line x1="707.0" y1="973.4" x2="734.4" y2="984.2" stroke="#d6cfcc" stroke-width="0.7"/>
<line x1="707.0" y1="973.4" x2="734.4" y2="994.9" stroke="#d6cfcc" stroke-width="0.7"/>
<line x1="707.0" y1="973.4" x2="734.4" y2="1005.6" stroke="#d6cfcc" stroke-width="0.7"/>
<line x1="707.0" y1="984.2" x2="734.4" y2="962.7" stroke="#d6cfcc" stroke-width="0.7"/>
<line x1="707.0" y1="984.2" x2="734.4" y2="973.4" stroke="#d6cfcc" stroke-width="0.7"/>
<line x1="707.0" y1="984.2" x2="734.4" y2="984.2" stroke="#d6cfcc" stroke-width="0.7"/>
<line x1="707.0" y1="984.2" x2="734.4" y2="994.9" stroke="#d6cfcc" stroke-width="0.7"/>
<line x1="707.0" y1="984.2" x2="734.4" y2="1005.6" stroke="#d6cfcc" stroke-width="0.7"/>
<line x1="707.0" y1="994.9" x2="734.4" y2="962.7" stroke="#d6cfcc" stroke-width="0.7"/>
<line x1="707.0" y1="994.9" x2="734.4" y2="973.4" stroke="#d6cfcc" stroke-width="0.7"/>
<line x1="707.0" y1="994.9" x2="734.4" y2="984.2" stroke="#d6cfcc" stroke-width="0.7"/>
<line x1="707.0" y1="994.9" x2="734.4" y2="994.9" stroke="#d6cfcc" stroke-width="0.7"/>
<line x1="707.0" y1="994.9" x2="734.4" y2="1005.6" stroke="#d6cfcc" stroke-width="0.7"/>
<line x1="707.0" y1="1005.6" x2="734.4" y2="962.7" stroke="#d6cfcc" stroke-width="0.7"/>
<line x1="707.0" y1="1005.6" x2="734.4" y2="973.4" stroke="#d6cfcc" stroke-width="0.7"/>
<line x1="707.0" y1="1005.6" x2="734.4" y2="984.2" stroke="#d6cfcc" stroke-width="0.7"/>
<line x1="707.0" y1="1005.6" x2="734.4" y2="994.9" stroke="#d6cfcc" stroke-width="0.7"/>
<line x1="707.0" y1="1005.6" x2="734.4" y2="1005.6" stroke="#d6cfcc" stroke-width="0.7"/>
<line x1="734.4" y1="962.7" x2="761.4" y2="968.2" stroke="#d6cfcc" stroke-width="0.7"/>
<line x1="734.4" y1="962.7" x2="761.4" y2="984.1" stroke="#d6cfcc" stroke-width="0.7"/>
<line x1="734.4" y1="962.7" x2="761.4" y2="1000.5" stroke="#d6cfcc" stroke-width="0.7"/>
<line x1="734.4" y1="973.4" x2="761.4" y2="968.2" stroke="#d6cfcc" stroke-width="0.7"/>
<line x1="734.4" y1="973.4" x2="761.4" y2="984.1" stroke="#d6cfcc" stroke-width="0.7"/>
<line x1="734.4" y1="973.4" x2="761.4" y2="1000.5" stroke="#d6cfcc" stroke-width="0.7"/>
<line x1="734.4" y1="984.2" x2="761.4" y2="968.2" stroke="#d6cfcc" stroke-width="0.7"/>
<line x1="734.4" y1="984.2" x2="761.4" y2="984.1" stroke="#d6cfcc" stroke-width="0.7"/>
<line x1="734.4" y1="984.2" x2="761.4" y2="1000.5" stroke="#d6cfcc" stroke-width="0.7"/>
<line x1="734.4" y1="994.9" x2="761.4" y2="968.2" stroke="#d6cfcc" stroke-width="0.7"/>
<line x1="734.4" y1="994.9" x2="761.4" y2="984.1" stroke="#d6cfcc" stroke-width="0.7"/>
<line x1="734.4" y1="994.9" x2="761.4" y2="1000.5" stroke="#d6cfcc" stroke-width="0.7"/>
<line x1="734.4" y1="1005.6" x2="761.4" y2="968.2" stroke="#d6cfcc" stroke-width="0.7"/>
<line x1="734.4" y1="1005.6" x2="761.4" y2="984.1" stroke="#d6cfcc" stroke-width="0.7"/>
<line x1="734.4" y1="1005.6" x2="761.4" y2="1000.5" stroke="#d6cfcc" stroke-width="0.7"/>
<line x1="761.4" y1="968.2" x2="778.5" y2="984.1" stroke="#d6cfcc" stroke-width="0.7"/>
<line x1="761.4" y1="984.1" x2="778.5" y2="984.1" stroke="#d6cfcc" stroke-width="0.7"/>
<line x1="761.4" y1="1000.5" x2="778.5" y2="984.1" stroke="#d6cfcc" stroke-width="0.7"/>
<circle cx="681.7" cy="968.2" r="2.6" fill="#e8a2a6" stroke="#8a4b57" stroke-width="1.1"/>
<circle cx="681.7" cy="984.1" r="2.6" fill="#e8a2a6" stroke="#8a4b57" stroke-width="1.1"/>
<circle cx="681.7" cy="1000.5" r="2.6" fill="#e8a2a6" stroke="#8a4b57" stroke-width="1.1"/>
<circle cx="707.0" cy="962.7" r="2.6" fill="#e8a2a6" stroke="#8a4b57" stroke-width="1.1"/>
<circle cx="707.0" cy="973.4" r="2.6" fill="#e8a2a6" stroke="#8a4b57" stroke-width="1.1"/>
<circle cx="707.0" cy="984.2" r="2.6" fill="#e8a2a6" stroke="#8a4b57" stroke-width="1.1"/>
<circle cx="707.0" cy="994.9" r="2.6" fill="#e8a2a6" stroke="#8a4b57" stroke-width="1.1"/>
<circle cx="707.0" cy="1005.6" r="2.6" fill="#e8a2a6" stroke="#8a4b57" stroke-width="1.1"/>
<circle cx="734.4" cy="962.7" r="2.6" fill="#e8a2a6" stroke="#8a4b57" stroke-width="1.1"/>
<circle cx="734.4" cy="973.4" r="2.6" fill="#e8a2a6" stroke="#8a4b57" stroke-width="1.1"/>
<circle cx="734.4" cy="984.2" r="2.6" fill="#e8a2a6" stroke="#8a4b57" stroke-width="1.1"/>
<circle cx="734.4" cy="994.9" r="2.6" fill="#e8a2a6" stroke="#8a4b57" stroke-width="1.1"/>
<circle cx="734.4" cy="1005.6" r="2.6" fill="#e8a2a6" stroke="#8a4b57" stroke-width="1.1"/>
<circle cx="761.4" cy="968.2" r="2.6" fill="#e8a2a6" stroke="#8a4b57" stroke-width="1.1"/>
<circle cx="761.4" cy="984.1" r="2.6" fill="#e8a2a6" stroke="#8a4b57" stroke-width="1.1"/>
<circle cx="761.4" cy="1000.5" r="2.6" fill="#e8a2a6" stroke="#8a4b57" stroke-width="1.1"/>
<circle cx="778.5" cy="984.1" r="2.6" fill="#e8a2a6" stroke="#8a4b57" stroke-width="1.1"/>
<text x="503.0" y="857.6" font-size="10" fill="#1a1a1a" font-weight="normal" textLength="62.2" lengthAdjust="spacing" stroke="#1a1a1a" stroke-width="0.3" stroke-linejoin="round" >Final weights</text>
<rect x="480.5" y="864.2" width="107.79999999999995" height="56.19999999999993" rx="6" fill="#f8ebe1" stroke="#e2bd6a" stroke-width="1.6"/>
<line x1="485.8" y1="876.5" x2="510.6" y2="870.8" stroke="#d6cfcc" stroke-width="0.7"/>
<line x1="485.8" y1="876.5" x2="510.6" y2="881.5" stroke="#d6cfcc" stroke-width="0.7"/>
<line x1="485.8" y1="876.5" x2="510.6" y2="892.2" stroke="#d6cfcc" stroke-width="0.7"/>
<line x1="485.8" y1="876.5" x2="510.6" y2="903.0" stroke="#d6cfcc" stroke-width="0.7"/>
<line x1="485.8" y1="876.5" x2="510.6" y2="913.7" stroke="#d6cfcc" stroke-width="0.7"/>
<line x1="485.8" y1="892.3" x2="510.6" y2="870.8" stroke="#d6cfcc" stroke-width="0.7"/>
<line x1="485.8" y1="892.3" x2="510.6" y2="881.5" stroke="#d6cfcc" stroke-width="0.7"/>
<line x1="485.8" y1="892.3" x2="510.6" y2="892.2" stroke="#d6cfcc" stroke-width="0.7"/>
<line x1="485.8" y1="892.3" x2="510.6" y2="903.0" stroke="#d6cfcc" stroke-width="0.7"/>
<line x1="485.8" y1="892.3" x2="510.6" y2="913.7" stroke="#d6cfcc" stroke-width="0.7"/>
<line x1="485.8" y1="908.2" x2="510.6" y2="870.8" stroke="#d6cfcc" stroke-width="0.7"/>
<line x1="485.8" y1="908.2" x2="510.6" y2="881.5" stroke="#d6cfcc" stroke-width="0.7"/>
<line x1="485.8" y1="908.2" x2="510.6" y2="892.2" stroke="#d6cfcc" stroke-width="0.7"/>
<line x1="485.8" y1="908.2" x2="510.6" y2="903.0" stroke="#d6cfcc" stroke-width="0.7"/>
<line x1="485.8" y1="908.2" x2="510.6" y2="913.7" stroke="#d6cfcc" stroke-width="0.7"/>
<line x1="510.6" y1="870.8" x2="538.7" y2="870.8" stroke="#d6cfcc" stroke-width="0.7"/>
<line x1="510.6" y1="870.8" x2="538.7" y2="881.5" stroke="#d6cfcc" stroke-width="0.7"/>
<line x1="510.6" y1="870.8" x2="538.7" y2="892.2" stroke="#d6cfcc" stroke-width="0.7"/>
<line x1="510.6" y1="870.8" x2="538.7" y2="903.0" stroke="#d6cfcc" stroke-width="0.7"/>
<line x1="510.6" y1="870.8" x2="538.7" y2="913.7" stroke="#d6cfcc" stroke-width="0.7"/>
<line x1="510.6" y1="881.5" x2="538.7" y2="870.8" stroke="#d6cfcc" stroke-width="0.7"/>
<line x1="510.6" y1="881.5" x2="538.7" y2="881.5" stroke="#d6cfcc" stroke-width="0.7"/>
<line x1="510.6" y1="881.5" x2="538.7" y2="892.2" stroke="#d6cfcc" stroke-width="0.7"/>
<line x1="510.6" y1="881.5" x2="538.7" y2="903.0" stroke="#d6cfcc" stroke-width="0.7"/>
<line x1="510.6" y1="881.5" x2="538.7" y2="913.7" stroke="#d6cfcc" stroke-width="0.7"/>
<line x1="510.6" y1="892.2" x2="538.7" y2="870.8" stroke="#d6cfcc" stroke-width="0.7"/>
<line x1="510.6" y1="892.2" x2="538.7" y2="881.5" stroke="#d6cfcc" stroke-width="0.7"/>
<line x1="510.6" y1="892.2" x2="538.7" y2="892.2" stroke="#d6cfcc" stroke-width="0.7"/>
<line x1="510.6" y1="892.2" x2="538.7" y2="903.0" stroke="#d6cfcc" stroke-width="0.7"/>
<line x1="510.6" y1="892.2" x2="538.7" y2="913.7" stroke="#d6cfcc" stroke-width="0.7"/>
<line x1="510.6" y1="903.0" x2="538.7" y2="870.8" stroke="#d6cfcc" stroke-width="0.7"/>
<line x1="510.6" y1="903.0" x2="538.7" y2="881.5" stroke="#d6cfcc" stroke-width="0.7"/>
<line x1="510.6" y1="903.0" x2="538.7" y2="892.2" stroke="#d6cfcc" stroke-width="0.7"/>
<line x1="510.6" y1="903.0" x2="538.7" y2="903.0" stroke="#d6cfcc" stroke-width="0.7"/>
<line x1="510.6" y1="903.0" x2="538.7" y2="913.7" stroke="#d6cfcc" stroke-width="0.7"/>
<line x1="510.6" y1="913.7" x2="538.7" y2="870.8" stroke="#d6cfcc" stroke-width="0.7"/>
<line x1="510.6" y1="913.7" x2="538.7" y2="881.5" stroke="#d6cfcc" stroke-width="0.7"/>
<line x1="510.6" y1="913.7" x2="538.7" y2="892.2" stroke="#d6cfcc" stroke-width="0.7"/>
<line x1="510.6" y1="913.7" x2="538.7" y2="903.0" stroke="#d6cfcc" stroke-width="0.7"/>
<line x1="510.6" y1="913.7" x2="538.7" y2="913.7" stroke="#d6cfcc" stroke-width="0.7"/>
<line x1="538.7" y1="870.8" x2="564.8" y2="876.5" stroke="#d6cfcc" stroke-width="0.7"/>
<line x1="538.7" y1="870.8" x2="564.8" y2="892.3" stroke="#d6cfcc" stroke-width="0.7"/>
<line x1="538.7" y1="870.8" x2="564.8" y2="908.2" stroke="#d6cfcc" stroke-width="0.7"/>
<line x1="538.7" y1="881.5" x2="564.8" y2="876.5" stroke="#d6cfcc" stroke-width="0.7"/>
<line x1="538.7" y1="881.5" x2="564.8" y2="892.3" stroke="#d6cfcc" stroke-width="0.7"/>
<line x1="538.7" y1="881.5" x2="564.8" y2="908.2" stroke="#d6cfcc" stroke-width="0.7"/>
<line x1="538.7" y1="892.2" x2="564.8" y2="876.5" stroke="#d6cfcc" stroke-width="0.7"/>
<line x1="538.7" y1="892.2" x2="564.8" y2="892.3" stroke="#d6cfcc" stroke-width="0.7"/>
<line x1="538.7" y1="892.2" x2="564.8" y2="908.2" stroke="#d6cfcc" stroke-width="0.7"/>
<line x1="538.7" y1="903.0" x2="564.8" y2="876.5" stroke="#d6cfcc" stroke-width="0.7"/>
<line x1="538.7" y1="903.0" x2="564.8" y2="892.3" stroke="#d6cfcc" stroke-width="0.7"/>
<line x1="538.7" y1="903.0" x2="564.8" y2="908.2" stroke="#d6cfcc" stroke-width="0.7"/>
<line x1="538.7" y1="913.7" x2="564.8" y2="876.5" stroke="#d6cfcc" stroke-width="0.7"/>
<line x1="538.7" y1="913.7" x2="564.8" y2="892.3" stroke="#d6cfcc" stroke-width="0.7"/>
<line x1="538.7" y1="913.7" x2="564.8" y2="908.2" stroke="#d6cfcc" stroke-width="0.7"/>
<line x1="564.8" y1="876.5" x2="582.4" y2="892.3" stroke="#d6cfcc" stroke-width="0.7"/>
<line x1="564.8" y1="892.3" x2="582.4" y2="892.3" stroke="#d6cfcc" stroke-width="0.7"/>
<line x1="564.8" y1="908.2" x2="582.4" y2="892.3" stroke="#d6cfcc" stroke-width="0.7"/>
<circle cx="485.8" cy="876.5" r="2.6" fill="#a7cbbf" stroke="#4f6f66" stroke-width="1.1"/>
<circle cx="485.8" cy="892.3" r="2.6" fill="#a7cbbf" stroke="#4f6f66" stroke-width="1.1"/>
<circle cx="485.8" cy="908.2" r="2.6" fill="#a7cbbf" stroke="#4f6f66" stroke-width="1.1"/>
<circle cx="510.6" cy="870.8" r="2.6" fill="#a7cbbf" stroke="#4f6f66" stroke-width="1.1"/>
<circle cx="510.6" cy="881.5" r="2.6" fill="#a7cbbf" stroke="#4f6f66" stroke-width="1.1"/>
<circle cx="510.6" cy="892.2" r="2.6" fill="#a7cbbf" stroke="#4f6f66" stroke-width="1.1"/>
<circle cx="510.6" cy="903.0" r="2.6" fill="#a7cbbf" stroke="#4f6f66" stroke-width="1.1"/>
<circle cx="510.6" cy="913.7" r="2.6" fill="#a7cbbf" stroke="#4f6f66" stroke-width="1.1"/>
<circle cx="538.7" cy="870.8" r="2.6" fill="#a7cbbf" stroke="#4f6f66" stroke-width="1.1"/>
<circle cx="538.7" cy="881.5" r="2.6" fill="#a7cbbf" stroke="#4f6f66" stroke-width="1.1"/>
<circle cx="538.7" cy="892.2" r="2.6" fill="#a7cbbf" stroke="#4f6f66" stroke-width="1.1"/>
<circle cx="538.7" cy="903.0" r="2.6" fill="#a7cbbf" stroke="#4f6f66" stroke-width="1.1"/>
<circle cx="538.7" cy="913.7" r="2.6" fill="#a7cbbf" stroke="#4f6f66" stroke-width="1.1"/>
<circle cx="564.8" cy="876.5" r="2.6" fill="#a7cbbf" stroke="#4f6f66" stroke-width="1.1"/>
<circle cx="564.8" cy="892.3" r="2.6" fill="#a7cbbf" stroke="#4f6f66" stroke-width="1.1"/>
<circle cx="564.8" cy="908.2" r="2.6" fill="#a7cbbf" stroke="#4f6f66" stroke-width="1.1"/>
<circle cx="582.4" cy="892.3" r="2.6" fill="#a7cbbf" stroke="#4f6f66" stroke-width="1.1"/>
<path d="M731,833 L731,885" fill="none" stroke="#222" stroke-width="1.6" stroke-dasharray="9 7" stroke-dashoffset="0"/>
<path d="M731,900 L731,952" fill="none" stroke="#222" stroke-width="1.6" stroke-dasharray="9 7" stroke-dashoffset="4"/>
<path d="M731,884.5 Q731,888 728,890 Q725.5,892 728,894.5 Q731,897 731,901" fill="none" stroke="#222" stroke-width="1.4"/>
<line x1="705.8" y1="892.4" x2="717" y2="892.4" stroke="#222" stroke-width="1.6"/>
<polygon points="696.5,890.1 692.5,892.4 696.5,894.7" fill="#222"/>
<circle cx="672.3" cy="892.4" r="11.8" fill="#fff" stroke="#111" stroke-width="1.5"/>
<path d="M666,892.4 L678.6,892.4 M672.3,886.1 L672.3,898.7" stroke="#111" stroke-width="2.4"/>
<text x="628.8" y="871.9" font-size="10" fill="#1a1a1a" font-weight="normal" textLength="88.1" lengthAdjust="spacing" stroke="#1a1a1a" stroke-width="0.3" stroke-linejoin="round" >Aggregate weights</text>
<path d="M655,892.4 L608,892.4" fill="none" stroke="#222" stroke-width="1.6" stroke-dasharray="3 8 9 8 9 8" stroke-dashoffset="0"/>
<polygon points="606.2,890.1 602.2,892.4 606.2,894.7" fill="#222"/>
<line x1="821" y1="150.6" x2="866" y2="150.6" stroke="#8f8f8f" stroke-width="1.4"/>
<polygon points="864.0,152.6 868.5,150.6 864.0,148.6" fill="#8f8f8f"/>
<text x="881.0" y="157.1" font-size="17" fill="#111" font-weight="normal" textLength="137.5" lengthAdjust="spacing" stroke="#111" stroke-width="0.25" stroke-linejoin="round" >No gradient flow</text>
<polygon points="825.0,194.7 821.0,196.7 825.0,198.7" fill="#9a9a9a"/>
<line x1="830" y1="196.7" x2="840" y2="196.7" stroke="#9a9a9a" stroke-width="1.5"/>
<line x1="849.5" y1="196.7" x2="861" y2="196.7" stroke="#9a9a9a" stroke-width="1.5"/>
<text x="878.0" y="201.9" font-size="17" fill="#111" font-weight="normal" textLength="112.0" lengthAdjust="spacing" stroke="#111" stroke-width="0.25" stroke-linejoin="round" >Gradient flow</text>
<circle cx="843.2" cy="237.0" r="8.6" fill="#aec4ea" stroke="#1f2833" stroke-width="1.6"/>
<text x="863.9" y="241.0" font-size="16" fill="#111" font-weight="normal" textLength="152.3" lengthAdjust="spacing" stroke="#111" stroke-width="0.25" stroke-linejoin="round" >Pre-trained network</text>
<circle cx="843.2" cy="278.4" r="8.6" fill="#a6cdc2" stroke="#1f2833" stroke-width="1.6"/>
<text x="868.8" y="283.5" font-size="16" fill="#111" font-weight="normal" textLength="141.9" lengthAdjust="spacing" stroke="#111" stroke-width="0.25" stroke-linejoin="round" >Appended network</text>
<polygon points="825.0,361.1 821.0,363.1 825.0,365.1" fill="#9a9a9a"/>
<line x1="830" y1="363.1" x2="840" y2="363.1" stroke="#9a9a9a" stroke-width="1.5"/>
<line x1="849.5" y1="363.1" x2="861" y2="363.1" stroke="#9a9a9a" stroke-width="1.5"/>
<text x="878.0" y="367.5" font-size="17" fill="#111" font-weight="normal" textLength="112.0" lengthAdjust="spacing" stroke="#111" stroke-width="0.25" stroke-linejoin="round" >Gradient flow</text>
<circle cx="843.2" cy="415.2" r="8.6" fill="#aec4ea" stroke="#1f2833" stroke-width="1.6"/>
<text x="863.9" y="420.3" font-size="16" fill="#111" font-weight="normal" textLength="152.3" lengthAdjust="spacing" stroke="#111" stroke-width="0.25" stroke-linejoin="round" >Pre-trained network</text>
<text x="858.8" y="481.3" font-size="13.5" fill="#5e5e5e" font-weight="normal" textLength="148.6" lengthAdjust="spacing" stroke="#5e5e5e" stroke-width="0.7" stroke-linejoin="round" >join.DailyDoseofDS.com</text>
<g fill="none" stroke-width="1.4" stroke-linejoin="round"><polyline points="821,462 821,493 851,493" stroke="#3b80b4"/><polygon points="817.5,466 821,458.5 824.5,466" stroke="#3b80b4" fill="#f0f4f4"/><polygon points="849,489.5 856.5,493 849,496.5" stroke="#3b80b4" fill="#f0f4f4"/><line x1="832" y1="461" x2="846" y2="491" stroke="#333" stroke-width="1.2"/><g stroke="#93c48f" fill="#d9ead3"><circle cx="827.5" cy="470" r="2.7"/><circle cx="833" cy="476" r="2.7"/><circle cx="826" cy="480.5" r="2.7"/><circle cx="836.5" cy="484.5" r="2.7"/><circle cx="831" cy="489" r="2.7"/></g><g stroke="#e58a8a" fill="#f6d5d5"><circle cx="842.5" cy="463.5" r="2.7"/><circle cx="851.5" cy="468" r="2.7"/><circle cx="843" cy="472.5" r="2.7"/><circle cx="848" cy="480" r="2.7"/><circle cx="851.5" cy="486.5" r="2.7"/></g></g>
<polygon points="825.0,570.9 821.0,572.9 825.0,574.9" fill="#9a9a9a"/>
<line x1="830" y1="572.9" x2="840" y2="572.9" stroke="#9a9a9a" stroke-width="1.5"/>
<line x1="849.5" y1="572.9" x2="861" y2="572.9" stroke="#9a9a9a" stroke-width="1.5"/>
<text x="876.8" y="578.8" font-size="17" fill="#111" font-weight="normal" textLength="112.0" lengthAdjust="spacing" stroke="#111" stroke-width="0.25" stroke-linejoin="round" >Gradient flow</text>
<circle cx="848.9" cy="625.4" r="8.6" fill="#aec4ea" stroke="#1f2833" stroke-width="1.6"/>
<text x="873.8" y="631.0" font-size="16" fill="#111" font-weight="normal" textLength="120.9" lengthAdjust="spacing" stroke="#111" stroke-width="0.25" stroke-linejoin="round" >Shared network</text>
<circle cx="848.9" cy="681.8" r="8.6" fill="#a6cdc2" stroke="#1f2833" stroke-width="1.6"/>
<circle cx="848.9" cy="707.8" r="8.6" fill="#efa19c" stroke="#1f2833" stroke-width="1.6"/>
<text x="877.6" y="689.5" font-size="16" fill="#111" font-weight="normal" textLength="92.4" lengthAdjust="spacing" stroke="#111" stroke-width="0.25" stroke-linejoin="round" >Task-specific</text>
<text x="898.0" y="708.6" font-size="16" fill="#111" font-weight="normal" textLength="50.9" lengthAdjust="spacing" stroke="#111" stroke-width="0.25" stroke-linejoin="round" >branch</text>
<g stroke="#2a2a2a" stroke-width="1.4" fill="#f4f3f1">
<path d="M831.8,814.4 L831.8,825.8 A17.2,5.7 0 0 0 866.1999999999999,825.8 L866.1999999999999,814.4 Z"/>
<path d="M831.8,803.0 L831.8,814.4 A17.2,5.7 0 0 0 866.1999999999999,814.4 L866.1999999999999,803.0 Z"/>
<path d="M831.8,791.6 L831.8,803.0 A17.2,5.7 0 0 0 866.1999999999999,803.0 L866.1999999999999,791.6 Z"/>
<ellipse cx="849.0" cy="791.6" rx="17.2" ry="5.7" fill="#fbf8f4"/>
<ellipse cx="849.0" cy="791.6" rx="13.4" ry="3.1" fill="#e9b04a" stroke="none"/>
<circle cx="835.4" cy="800.7" r="0.95" fill="#2a2a2a" stroke="none"/>
<circle cx="838.8" cy="800.7" r="0.95" fill="#2a2a2a" stroke="none"/>
<circle cx="835.4" cy="812.1" r="0.95" fill="#2a2a2a" stroke="none"/>
<circle cx="838.8" cy="812.1" r="0.95" fill="#2a2a2a" stroke="none"/>
<circle cx="842.2" cy="812.1" r="0.95" fill="#2a2a2a" stroke="none"/>
<circle cx="838.8" cy="823.5" r="0.95" fill="#2a2a2a" stroke="none"/>
<circle cx="842.2" cy="823.5" r="0.95" fill="#2a2a2a" stroke="none"/>
</g>
<text x="909.7" y="804.6" font-size="17" fill="#111" font-weight="normal" textLength="46.6" lengthAdjust="spacingAndGlyphs" stroke="#111" stroke-width="0.25" stroke-linejoin="round" >User's</text>
<text x="883.2" y="825.6" font-size="17" fill="#111" font-weight="normal" textLength="99.6" lengthAdjust="spacing" stroke="#111" stroke-width="0.25" stroke-linejoin="round" >private data</text>
<circle cx="849.2" cy="867.5" r="8.6" fill="#aec4ea" stroke="#1f2833" stroke-width="1.6"/>
<text x="881.0" y="863.7" font-size="16.5" fill="#111" font-weight="normal" textLength="113.0" lengthAdjust="spacing" stroke="#111" stroke-width="0.25" stroke-linejoin="round" >Global weights</text>
<text x="902.2" y="882.4" font-size="16.5" fill="#111" font-weight="normal" textLength="70.6" lengthAdjust="spacing" stroke="#111" stroke-width="0.25" stroke-linejoin="round" >on server</text>
<circle cx="849.2" cy="927.5" r="8.6" fill="#efa19c" stroke="#1f2833" stroke-width="1.6"/>
<text x="873.6" y="913.3" font-size="16.5" fill="#111" font-weight="normal" textLength="128.3" lengthAdjust="spacing" stroke="#111" stroke-width="0.25" stroke-linejoin="round" >Updated weights</text>
<text x="874.7" y="933.5" font-size="16.5" fill="#111" font-weight="normal" textLength="125.7" lengthAdjust="spacing" stroke="#111" stroke-width="0.25" stroke-linejoin="round" >after training on</text>
<text x="891.6" y="951.5" font-size="16.5" fill="#111" font-weight="normal" textLength="92.7" lengthAdjust="spacing" stroke="#111" stroke-width="0.25" stroke-linejoin="round" >private data</text>
<circle cx="849.2" cy="983.3" r="8.6" fill="#a6cdc2" stroke="#1f2833" stroke-width="1.6"/>
<text x="887.4" y="988.0" font-size="16.5" fill="#111" font-weight="normal" textLength="100.7" lengthAdjust="spacing" stroke="#111" stroke-width="0.25" stroke-linejoin="round" >Final weights</text>
</svg></body></html>
